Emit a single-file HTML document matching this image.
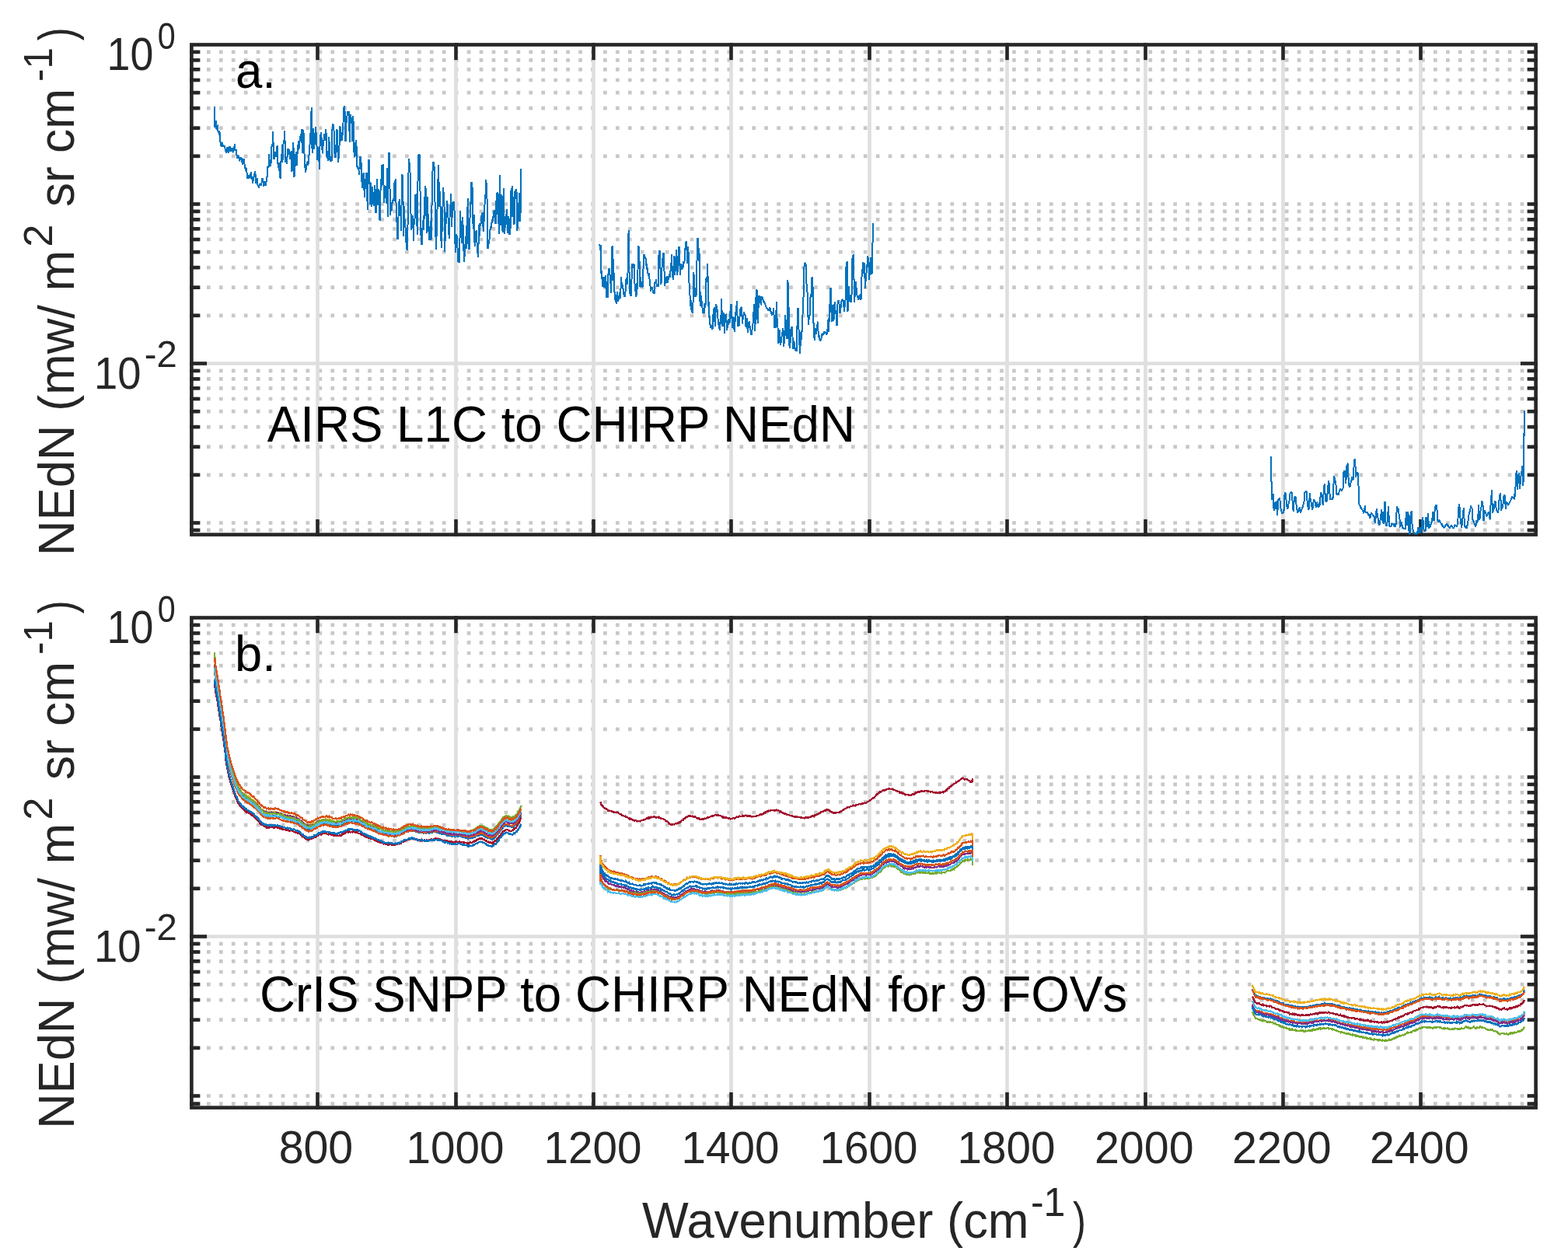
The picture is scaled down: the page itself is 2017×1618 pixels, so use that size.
<!DOCTYPE html>
<html lang="en"><head><meta charset="utf-8"><title>NEdN</title>
<style>html,body{margin:0;padding:0;background:#fff}body{width:2017px;height:1618px;overflow:hidden}svg{display:block}text{font-family:'Liberation Sans', sans-serif;fill:#262626}</style></head><body>
<svg width="2017" height="1618" viewBox="0 0 2017 1618" role="img" aria-label="NEdN versus wavenumber for AIRS L1C and CrIS SNPP converted to CHIRP">
<rect width="2017" height="1618" fill="#fff"/>
<g id="ax0">
<g stroke="#c8c8c8" stroke-width="4.7" stroke-dasharray="4.70 11.24" stroke-dashoffset="-3.66">
<line x1="246.4" y1="262.5" x2="1975.6" y2="262.5"/>
<line x1="246.4" y1="200.8" x2="1975.6" y2="200.8"/>
<line x1="246.4" y1="164.7" x2="1975.6" y2="164.7"/>
<line x1="246.4" y1="139.1" x2="1975.6" y2="139.1"/>
<line x1="246.4" y1="119.2" x2="1975.6" y2="119.2"/>
<line x1="246.4" y1="103.0" x2="1975.6" y2="103.0"/>
<line x1="246.4" y1="89.3" x2="1975.6" y2="89.3"/>
<line x1="246.4" y1="77.4" x2="1975.6" y2="77.4"/>
<line x1="246.4" y1="66.9" x2="1975.6" y2="66.9"/>
<line x1="246.4" y1="405.8" x2="1975.6" y2="405.8"/>
<line x1="246.4" y1="369.7" x2="1975.6" y2="369.7"/>
<line x1="246.4" y1="344.1" x2="1975.6" y2="344.1"/>
<line x1="246.4" y1="324.2" x2="1975.6" y2="324.2"/>
<line x1="246.4" y1="308.0" x2="1975.6" y2="308.0"/>
<line x1="246.4" y1="294.3" x2="1975.6" y2="294.3"/>
<line x1="246.4" y1="282.4" x2="1975.6" y2="282.4"/>
<line x1="246.4" y1="271.9" x2="1975.6" y2="271.9"/>
<line x1="246.4" y1="672.5" x2="1975.6" y2="672.5"/>
<line x1="246.4" y1="610.8" x2="1975.6" y2="610.8"/>
<line x1="246.4" y1="574.7" x2="1975.6" y2="574.7"/>
<line x1="246.4" y1="549.1" x2="1975.6" y2="549.1"/>
<line x1="246.4" y1="529.2" x2="1975.6" y2="529.2"/>
<line x1="246.4" y1="513.0" x2="1975.6" y2="513.0"/>
<line x1="246.4" y1="499.3" x2="1975.6" y2="499.3"/>
<line x1="246.4" y1="487.4" x2="1975.6" y2="487.4"/>
<line x1="246.4" y1="476.9" x2="1975.6" y2="476.9"/>
<line x1="246.4" y1="681.9" x2="1975.6" y2="681.9"/>
</g>
<g stroke="#dfdfdf" stroke-width="4.6">
<line x1="408.5" y1="57.5" x2="408.5" y2="687.6"/>
<line x1="586.5" y1="57.5" x2="586.5" y2="687.6"/>
<line x1="763.5" y1="57.5" x2="763.5" y2="687.6"/>
<line x1="940.5" y1="57.5" x2="940.5" y2="687.6"/>
<line x1="1118.5" y1="57.5" x2="1118.5" y2="687.6"/>
<line x1="1295.5" y1="57.5" x2="1295.5" y2="687.6"/>
<line x1="1473.5" y1="57.5" x2="1473.5" y2="687.6"/>
<line x1="1650.5" y1="57.5" x2="1650.5" y2="687.6"/>
<line x1="1827.5" y1="57.5" x2="1827.5" y2="687.6"/>
<line x1="246.4" y1="467.5" x2="1975.6" y2="467.5"/>
</g>
<g stroke="#262626" stroke-width="4.6" stroke-linecap="square">
<line x1="408.5" y1="687.6" x2="408.5" y2="670.2"/>
<line x1="408.5" y1="57.5" x2="408.5" y2="74.9"/>
<line x1="586.5" y1="687.6" x2="586.5" y2="670.2"/>
<line x1="586.5" y1="57.5" x2="586.5" y2="74.9"/>
<line x1="763.5" y1="687.6" x2="763.5" y2="670.2"/>
<line x1="763.5" y1="57.5" x2="763.5" y2="74.9"/>
<line x1="940.5" y1="687.6" x2="940.5" y2="670.2"/>
<line x1="940.5" y1="57.5" x2="940.5" y2="74.9"/>
<line x1="1118.5" y1="687.6" x2="1118.5" y2="670.2"/>
<line x1="1118.5" y1="57.5" x2="1118.5" y2="74.9"/>
<line x1="1295.5" y1="687.6" x2="1295.5" y2="670.2"/>
<line x1="1295.5" y1="57.5" x2="1295.5" y2="74.9"/>
<line x1="1473.5" y1="687.6" x2="1473.5" y2="670.2"/>
<line x1="1473.5" y1="57.5" x2="1473.5" y2="74.9"/>
<line x1="1650.5" y1="687.6" x2="1650.5" y2="670.2"/>
<line x1="1650.5" y1="57.5" x2="1650.5" y2="74.9"/>
<line x1="1827.5" y1="687.6" x2="1827.5" y2="670.2"/>
<line x1="1827.5" y1="57.5" x2="1827.5" y2="74.9"/>
<line x1="246.4" y1="262.5" x2="255.1" y2="262.5"/>
<line x1="1975.6" y1="262.5" x2="1966.9" y2="262.5"/>
<line x1="246.4" y1="200.8" x2="255.1" y2="200.8"/>
<line x1="1975.6" y1="200.8" x2="1966.9" y2="200.8"/>
<line x1="246.4" y1="164.7" x2="255.1" y2="164.7"/>
<line x1="1975.6" y1="164.7" x2="1966.9" y2="164.7"/>
<line x1="246.4" y1="139.1" x2="255.1" y2="139.1"/>
<line x1="1975.6" y1="139.1" x2="1966.9" y2="139.1"/>
<line x1="246.4" y1="119.2" x2="255.1" y2="119.2"/>
<line x1="1975.6" y1="119.2" x2="1966.9" y2="119.2"/>
<line x1="246.4" y1="103.0" x2="255.1" y2="103.0"/>
<line x1="1975.6" y1="103.0" x2="1966.9" y2="103.0"/>
<line x1="246.4" y1="89.3" x2="255.1" y2="89.3"/>
<line x1="1975.6" y1="89.3" x2="1966.9" y2="89.3"/>
<line x1="246.4" y1="77.4" x2="255.1" y2="77.4"/>
<line x1="1975.6" y1="77.4" x2="1966.9" y2="77.4"/>
<line x1="246.4" y1="66.9" x2="255.1" y2="66.9"/>
<line x1="1975.6" y1="66.9" x2="1966.9" y2="66.9"/>
<line x1="246.4" y1="405.8" x2="255.1" y2="405.8"/>
<line x1="1975.6" y1="405.8" x2="1966.9" y2="405.8"/>
<line x1="246.4" y1="369.7" x2="255.1" y2="369.7"/>
<line x1="1975.6" y1="369.7" x2="1966.9" y2="369.7"/>
<line x1="246.4" y1="344.1" x2="255.1" y2="344.1"/>
<line x1="1975.6" y1="344.1" x2="1966.9" y2="344.1"/>
<line x1="246.4" y1="324.2" x2="255.1" y2="324.2"/>
<line x1="1975.6" y1="324.2" x2="1966.9" y2="324.2"/>
<line x1="246.4" y1="308.0" x2="255.1" y2="308.0"/>
<line x1="1975.6" y1="308.0" x2="1966.9" y2="308.0"/>
<line x1="246.4" y1="294.3" x2="255.1" y2="294.3"/>
<line x1="1975.6" y1="294.3" x2="1966.9" y2="294.3"/>
<line x1="246.4" y1="282.4" x2="255.1" y2="282.4"/>
<line x1="1975.6" y1="282.4" x2="1966.9" y2="282.4"/>
<line x1="246.4" y1="271.9" x2="255.1" y2="271.9"/>
<line x1="1975.6" y1="271.9" x2="1966.9" y2="271.9"/>
<line x1="246.4" y1="672.5" x2="255.1" y2="672.5"/>
<line x1="1975.6" y1="672.5" x2="1966.9" y2="672.5"/>
<line x1="246.4" y1="610.8" x2="255.1" y2="610.8"/>
<line x1="1975.6" y1="610.8" x2="1966.9" y2="610.8"/>
<line x1="246.4" y1="574.7" x2="255.1" y2="574.7"/>
<line x1="1975.6" y1="574.7" x2="1966.9" y2="574.7"/>
<line x1="246.4" y1="549.1" x2="255.1" y2="549.1"/>
<line x1="1975.6" y1="549.1" x2="1966.9" y2="549.1"/>
<line x1="246.4" y1="529.2" x2="255.1" y2="529.2"/>
<line x1="1975.6" y1="529.2" x2="1966.9" y2="529.2"/>
<line x1="246.4" y1="513.0" x2="255.1" y2="513.0"/>
<line x1="1975.6" y1="513.0" x2="1966.9" y2="513.0"/>
<line x1="246.4" y1="499.3" x2="255.1" y2="499.3"/>
<line x1="1975.6" y1="499.3" x2="1966.9" y2="499.3"/>
<line x1="246.4" y1="487.4" x2="255.1" y2="487.4"/>
<line x1="1975.6" y1="487.4" x2="1966.9" y2="487.4"/>
<line x1="246.4" y1="476.9" x2="255.1" y2="476.9"/>
<line x1="1975.6" y1="476.9" x2="1966.9" y2="476.9"/>
<line x1="246.4" y1="681.9" x2="255.1" y2="681.9"/>
<line x1="1975.6" y1="681.9" x2="1966.9" y2="681.9"/>
<line x1="246.4" y1="467.5" x2="263.8" y2="467.5"/>
<line x1="1975.6" y1="467.5" x2="1958.2" y2="467.5"/>
<rect x="246.4" y="57.5" width="1729.2" height="630.1" fill="none"/>
</g>
<clipPath id="clip0"><rect x="246.4" y="57.5" width="1729.2" height="630.1"/></clipPath>
<g fill="none" stroke-width="2" stroke-linejoin="miter" stroke-miterlimit="2" stroke-linecap="butt" shape-rendering="crispEdges" clip-path="url(#clip0)">
<polyline stroke="#0072bd" points="275.9,137.3 275.9,163.5 276.5,160.9 277.1,156.6 277.7,155.6 278.3,165.0 278.8,166.3 279.3,161.9 279.8,161.6 280.4,168.7 281.0,171.0 281.6,168.0 282.2,174.2 282.8,170.0 283.0,183.4 283.6,181.8 284.2,187.1 284.8,188.3 285.4,185.5 286.0,182.9 286.6,186.6 287.3,188.3 287.8,186.9 288.3,188.9 288.8,186.8 289.2,189.6 289.8,192.3 290.2,194.8 290.7,193.7 291.2,196.8 291.7,194.7 292.2,190.2 292.7,189.3 293.2,193.8 293.7,194.6 294.2,197.3 294.7,194.2 295.2,189.9 295.7,187.8 296.2,191.9 296.7,191.3 297.2,194.3 297.7,193.5 298.2,191.2 298.7,190.8 299.3,193.6 300.0,196.3 300.6,193.3 301.1,191.3 301.8,185.6 302.6,192.3 303.1,194.0 303.6,192.3 304.2,195.8 304.8,203.2 305.4,202.7 305.9,199.8 306.4,199.2 307.0,202.3 307.5,203.7 308.1,207.2 308.6,206.0 309.1,203.8 309.6,202.2 310.1,205.0 310.6,203.0 311.1,205.2 311.6,210.1 312.1,212.1 312.6,209.8 313.1,211.1 313.5,204.7 314.0,204.7 314.5,211.2 315.0,217.1 315.5,214.9 316.0,220.4 316.5,216.1 317.0,216.9 317.5,222.1 318.0,228.9 318.5,230.0 319.0,227.7 319.5,230.0 320.0,225.0 320.5,226.0 321.1,227.6 321.7,228.0 322.2,223.9 322.8,221.6 323.4,227.5 324.0,228.0 324.4,229.1 324.9,235.4 325.4,234.7 325.9,228.4 326.4,228.0 326.9,226.0 327.4,222.9 327.9,224.6 328.4,219.6 328.9,235.9 329.4,232.0 329.9,232.0 330.4,229.0 330.9,230.3 331.4,236.9 331.9,240.3 332.4,238.1 332.9,241.4 333.4,240.0 333.9,237.2 334.4,235.9 334.9,238.2 335.4,235.9 335.9,238.9 336.5,235.3 337.1,229.5 337.7,229.5 338.3,231.0 338.8,236.2 339.3,239.4 339.8,237.2 340.3,235.2 340.8,232.9 341.3,234.1 341.8,238.4 342.3,238.4 342.8,229.1 343.3,229.0 343.8,225.5 344.3,215.1 344.9,214.4 345.5,216.1 346.1,198.2 346.7,208.4 347.3,213.1 347.8,205.4 348.2,213.7 348.8,207.2 349.2,191.3 349.8,185.1 350.4,189.3 351.2,169.5 352.0,204.2 352.6,204.2 353.1,196.5 353.7,195.3 354.2,199.5 354.7,196.4 355.2,202.2 355.7,200.9 356.2,189.4 356.7,187.3 357.2,203.4 357.7,216.1 358.2,208.7 358.7,220.3 359.2,209.2 359.8,215.9 360.4,228.1 360.9,229.5 361.5,207.5 362.1,198.2 362.6,209.2 363.1,186.3 363.6,206.1 364.1,194.3 364.6,183.3 365.1,181.4 365.6,179.8 366.1,168.5 366.6,184.4 367.1,208.2 367.6,209.2 368.1,201.2 368.6,210.2 369.1,210.2 369.6,199.9 370.1,191.3 370.6,193.7 371.1,191.3 371.6,192.3 372.1,196.9 372.5,198.7 373.0,203.2 373.5,204.4 374.0,194.8 374.5,200.4 375.0,194.3 375.5,221.1 376.1,203.8 376.7,195.9 377.3,182.9 377.9,202.9 378.5,227.5 379.0,221.9 379.5,207.1 380.0,214.0 380.5,198.2 381.0,194.9 381.5,212.5 382.0,209.2 382.5,198.1 382.9,196.2 383.4,187.8 383.9,181.4 384.4,192.5 384.9,187.3 385.4,183.0 385.9,179.5 386.4,175.4 386.9,172.4 387.4,174.6 387.9,166.5 388.4,180.2 388.9,197.3 389.4,183.1 389.9,167.5 390.4,167.8 390.9,181.4 391.4,196.7 391.9,203.0 392.4,215.1 393.1,221.6 393.7,218.2 394.3,212.4 394.9,210.2 395.4,210.7 395.9,207.4 396.3,213.2 396.8,208.2 397.3,199.5 397.8,200.0 398.3,192.3 398.8,177.1 399.3,176.4 399.8,164.0 400.3,146.0 400.8,138.3 401.6,197.3 402.2,186.9 402.8,165.5 403.3,172.0 403.8,184.8 404.3,192.3 404.8,177.0 405.3,176.4 405.8,163.5 406.3,164.9 406.8,175.8 407.2,173.5 407.9,205.7 408.5,192.3 409.1,195.0 409.7,189.3 410.3,203.3 410.9,217.6 411.7,179.4 412.2,177.9 412.7,170.5 413.2,170.5 413.7,180.3 414.2,184.2 414.7,197.3 415.2,195.6 415.7,182.8 416.2,180.4 416.7,181.2 417.2,172.5 417.7,178.4 418.2,181.1 418.8,166.5 419.4,166.5 420.0,187.3 420.6,204.2 421.2,199.7 421.8,206.7 422.5,194.3 423.1,176.4 423.6,182.9 424.1,199.5 424.6,207.7 425.1,200.9 425.6,207.7 426.1,204.1 426.6,207.2 427.1,193.6 427.6,159.6 428.1,159.6 428.6,163.4 429.1,160.6 429.6,169.4 430.1,194.3 430.6,199.1 431.1,189.6 431.5,202.2 432.0,202.2 432.5,186.5 433.0,180.8 433.5,166.5 434.1,180.5 434.7,202.8 435.3,208.7 435.9,196.8 436.4,193.9 436.9,164.3 437.5,162.6 438.0,174.3 438.5,181.4 439.0,178.5 439.5,181.4 440.0,170.4 440.5,173.5 441.0,172.5 441.5,157.7 442.1,141.8 442.8,136.3 443.3,143.4 443.8,142.8 444.5,182.4 445.1,164.1 445.8,152.7 446.3,152.3 446.9,142.8 447.4,146.3 447.9,149.3 448.4,144.3 448.9,144.3 449.4,164.8 449.9,183.4 450.5,159.4 451.1,146.8 451.8,153.1 452.4,154.7 453.1,182.4 453.7,159.7 454.4,149.2 455.1,189.4 455.7,199.6 456.4,202.3 457.0,182.6 457.6,200.6 458.1,180.5 458.8,193.4 459.3,214.2 459.8,214.3 460.3,216.8 460.8,215.2 461.4,217.8 462.0,225.1 462.5,218.5 463.0,201.8 463.6,201.8 464.2,210.3 464.8,210.2 465.3,233.0 465.8,234.2 466.3,240.9 466.8,240.9 467.4,223.7 468.0,222.6 468.5,244.6 468.9,253.8 469.6,240.4 470.1,243.2 470.7,224.1 471.3,223.1 471.9,223.1 472.7,269.7 473.4,244.7 474.0,206.2 474.6,206.2 475.2,218.2 475.7,243.5 476.2,262.8 476.7,241.3 477.2,235.0 477.7,251.3 478.2,265.7 478.7,251.7 479.2,240.0 479.7,254.4 480.2,255.1 480.6,264.8 481.2,256.3 481.8,238.5 482.3,246.9 482.8,266.7 483.4,272.7 483.9,272.7 484.8,229.6 485.3,243.2 485.8,263.8 486.5,257.7 487.1,243.4 487.7,253.6 488.2,281.0 488.8,284.3 489.4,248.0 490.1,230.0 490.6,240.2 491.1,212.2 491.6,215.2 492.1,215.6 492.6,212.2 493.1,212.2 493.5,237.6 494.0,260.8 494.6,253.6 495.2,248.0 495.7,240.5 496.4,239.3 497.0,261.8 497.5,261.1 498.0,217.1 498.5,217.2 499.0,279.3 499.5,244.5 500.0,197.3 500.6,197.3 501.3,208.2 501.7,276.4 502.3,276.4 502.9,264.5 503.5,268.4 504.0,270.9 504.4,260.9 504.9,261.0 505.4,257.5 506.0,255.7 506.6,258.5 507.4,234.7 508.0,243.8 508.6,229.6 509.4,260.5 510.0,265.3 510.6,289.2 511.2,306.6 511.9,306.6 512.5,279.0 513.2,261.5 513.9,256.5 514.4,268.9 514.9,271.4 515.4,271.8 515.9,297.2 516.4,275.4 516.9,224.8 517.3,224.8 517.8,236.8 518.3,225.3 518.8,304.1 519.3,283.2 519.8,265.4 520.3,278.6 520.8,287.3 521.3,284.8 521.8,304.3 522.3,312.1 522.9,308.7 523.5,320.5 524.1,320.5 524.8,267.4 525.4,225.2 526.1,204.5 526.7,211.6 527.3,212.9 527.8,233.1 528.2,259.5 528.8,289.2 529.3,296.0 529.9,276.7 530.4,294.2 531.0,277.3 531.5,294.2 532.0,309.6 532.6,285.8 533.2,285.3 533.7,279.1 534.2,249.8 534.7,251.6 535.2,267.5 535.7,248.6 536.2,269.7 536.7,302.1 537.2,264.2 537.7,214.9 538.2,199.0 538.7,206.6 539.2,199.0 539.6,199.0 540.1,200.0 540.9,290.2 541.5,303.4 542.1,314.5 542.6,305.8 543.1,314.5 543.6,289.2 544.1,282.6 544.6,295.7 545.1,276.6 545.6,282.3 546.2,264.2 546.9,239.2 547.5,241.5 548.1,245.6 548.6,285.1 549.1,300.1 549.6,262.9 550.1,252.6 550.6,280.0 551.1,279.0 551.5,297.6 552.0,308.6 552.5,292.3 553.0,291.2 553.5,308.6 554.0,284.2 554.5,308.6 555.0,301.1 555.5,264.5 556.0,260.1 556.5,220.6 557.0,208.4 557.5,216.2 558.0,208.4 558.5,212.9 559.0,238.2 559.5,259.5 560.1,282.9 560.8,319.5 561.3,319.5 561.9,275.6 562.5,269.4 563.1,256.3 563.8,212.4 564.2,218.9 564.7,241.7 565.3,265.6 565.9,245.6 566.4,259.3 566.9,286.3 567.4,307.5 567.9,318.5 568.4,299.9 568.9,292.2 569.4,272.9 569.9,242.1 570.4,242.1 570.9,263.9 571.4,250.6 571.9,324.4 572.4,308.6 572.9,309.7 573.4,293.2 573.9,272.8 574.4,279.5 574.9,258.5 575.4,258.5 575.9,273.0 576.3,276.4 576.8,286.2 577.3,299.1 577.8,306.6 578.3,287.1 578.8,269.4 579.4,266.2 580.0,249.1 580.8,292.2 581.3,283.2 581.8,276.3 582.3,261.3 582.8,259.0 583.3,263.6 583.8,259.0 584.3,260.5 585.0,297.2 585.8,323.9 586.3,323.9 586.8,301.5 587.2,310.5 587.7,303.1 588.2,311.2 588.7,323.9 589.3,336.8 589.8,329.3 590.4,336.8 590.9,336.8 591.6,301.6 592.2,271.4 592.7,296.1 593.2,284.3 593.7,312.1 594.2,313.1 594.7,285.6 595.2,279.3 595.7,295.2 596.2,301.8 596.7,334.6 597.2,337.3 597.7,324.2 598.2,329.9 598.6,309.1 599.1,303.6 599.6,319.5 600.1,300.1 600.7,284.8 601.3,274.9 601.8,255.5 602.6,320.5 603.1,302.7 603.6,320.5 604.1,318.0 604.6,271.7 605.1,259.5 605.6,262.7 606.1,235.2 606.6,235.2 607.1,251.4 607.6,240.7 608.1,263.9 608.6,293.2 609.1,294.4 609.6,279.5 610.0,276.4 610.5,312.1 611.0,317.4 611.5,297.4 612.0,305.3 612.5,298.2 613.0,295.7 613.6,315.1 614.1,313.1 614.7,331.4 615.4,318.9 616.0,296.7 616.5,288.8 617.0,303.8 617.5,286.8 618.0,290.7 618.5,288.3 619.0,280.1 619.5,277.3 620.0,277.4 620.5,274.6 621.0,273.4 621.5,291.5 622.0,297.7 622.5,281.0 622.9,284.9 623.4,265.1 623.9,255.5 624.4,254.2 624.9,236.7 625.4,231.2 625.9,246.0 626.4,251.1 626.9,268.4 627.4,318.5 627.9,318.5 628.4,307.9 628.9,314.0 629.4,312.3 629.9,295.1 630.4,295.7 630.9,295.4 631.4,291.4 631.9,293.4 632.4,287.3 632.9,282.6 633.4,286.8 633.9,279.0 634.4,279.3 634.8,279.1 635.3,271.5 635.8,271.4 636.3,277.4 636.8,275.0 637.3,287.3 637.8,287.3 638.3,265.5 638.8,247.6 639.3,258.8 639.8,247.0 640.2,275.6 640.7,249.7 641.1,269.2 641.8,300.5 642.3,267.4 642.8,225.1 643.6,290.1 644.1,266.1 644.6,264.4 645.1,250.4 645.6,265.7 646.1,289.2 646.6,299.0 647.2,259.4 647.9,242.3 648.8,300.5 649.4,296.4 650.0,278.4 650.6,282.1 651.2,281.8 651.8,269.2 652.3,282.3 652.8,299.5 653.4,293.6 654.0,278.2 654.5,280.7 655.0,300.5 655.6,300.5 656.2,286.7 656.7,294.0 657.0,254.4 657.7,242.5 658.2,249.7 658.7,239.2 659.5,279.2 660.0,259.8 660.5,253.4 661.0,280.3 661.5,288.6 662.0,258.6 662.5,245.9 663.0,256.2 663.5,244.4 664.0,244.4 664.5,245.4 665.0,296.5 665.4,296.1 665.9,288.7 666.4,289.1 667.2,261.3 667.7,262.8 668.1,248.3 668.6,255.4 669.4,285.1 670.1,217.2"/>
<polyline stroke="#0072bd" points="771.4,314.3 772.0,322.4 772.7,315.3 772.9,351.5 773.4,345.1 773.9,356.6 774.4,358.4 774.9,359.3 775.4,369.3 775.9,356.5 776.4,365.4 777.0,369.1 777.6,369.3 778.1,360.5 778.6,354.9 779.3,354.4 779.8,372.0 780.3,383.2 780.9,378.1 781.5,383.2 782.0,380.2 782.6,347.5 783.2,345.5 783.8,345.5 784.3,352.7 784.8,354.4 785.4,362.6 786.0,377.3 786.5,361.8 787.0,330.6 787.5,317.3 788.1,317.3 789.0,350.5 789.6,362.6 790.2,351.5 790.5,376.3 791.0,375.3 791.5,385.4 791.9,385.2 792.7,390.6 793.3,381.9 793.9,374.8 794.6,381.6 795.2,388.2 795.8,384.0 796.3,382.9 796.9,376.3 797.5,378.4 798.2,384.2 798.9,356.4 799.4,363.3 799.9,366.4 800.4,363.6 800.9,372.3 801.5,371.3 801.9,373.1 802.4,378.6 802.8,381.2 803.5,381.1 804.1,381.2 804.6,373.7 805.1,363.4 805.6,358.7 806.1,357.4 806.8,365.6 807.4,358.4 808.1,313.8 808.6,297.4 809.1,297.4 809.6,361.4 810.1,377.7 810.6,371.2 811.1,380.2 811.6,380.2 812.1,380.2 812.8,344.5 813.4,339.6 814.0,340.6 814.5,345.4 815.0,339.6 815.5,339.6 816.0,343.5 816.5,365.1 817.0,375.3 817.5,372.1 818.0,380.7 818.5,380.7 819.0,364.4 819.5,373.3 820.0,357.4 820.5,348.0 821.0,316.3 821.6,317.4 822.3,321.7 823.0,368.3 823.6,369.3 824.2,356.4 825.0,369.3 825.5,363.9 826.1,369.3 826.6,368.8 827.4,349.5 828.2,328.2 828.8,328.2 829.4,328.7 829.9,333.2 830.4,330.4 830.9,336.6 831.4,341.8 831.9,338.9 832.4,347.1 832.9,344.6 833.4,351.5 833.9,354.4 834.5,351.5 835.1,353.0 835.7,362.1 836.4,366.4 837.1,375.3 837.7,371.8 838.3,372.5 838.8,369.3 839.3,371.6 839.8,375.3 840.3,376.5 840.8,375.2 841.3,377.3 841.8,377.3 842.3,364.4 842.8,362.2 843.3,364.0 843.8,359.4 844.3,363.0 844.8,368.3 845.3,368.3 845.8,366.1 846.3,368.3 846.8,368.3 847.5,327.7 848.0,322.2 848.5,328.2 848.9,322.2 849.4,339.8 849.9,365.4 850.6,363.5 851.2,351.5 851.7,339.7 852.2,338.5 852.7,328.7 853.4,325.7 854.0,325.7 854.9,367.3 855.4,367.3 855.9,358.4 856.4,364.4 857.0,361.1 857.7,354.9 858.2,357.6 858.7,362.0 859.2,363.4 859.6,358.8 860.1,359.4 860.6,354.4 861.1,352.1 861.6,357.0 862.1,351.0 862.7,347.5 863.3,344.5 863.9,327.2 864.4,345.2 864.9,355.4 865.4,356.3 865.9,360.4 866.4,345.9 866.9,328.7 867.5,335.4 868.1,354.4 868.6,347.6 869.1,339.6 869.9,321.2 870.5,334.2 871.1,353.5 871.5,351.2 872.0,337.6 872.5,329.0 873.0,325.1 873.5,316.8 874.2,329.3 874.8,353.5 875.5,339.6 876.0,344.7 876.5,339.5 877.0,346.5 877.5,345.6 878.0,343.9 878.5,343.9 879.0,342.6 879.5,336.4 880.0,339.1 880.5,336.6 881.2,323.7 882.0,312.3 882.6,311.3 883.2,311.3 884.0,338.6 884.4,332.3 884.9,316.8 885.4,318.8 885.9,341.3 886.4,363.4 886.9,366.4 887.4,376.3 887.9,393.8 888.4,384.5 888.9,392.1 889.4,398.0 889.9,402.1 890.5,395.8 891.1,402.5 891.9,377.3 892.4,350.5 892.9,363.0 893.4,368.3 893.9,374.5 894.4,381.2 894.9,381.2 895.5,378.5 896.0,380.2 896.3,342.6 896.8,325.2 897.3,306.9 897.8,306.9 898.3,311.8 899.0,335.6 899.8,325.7 900.3,383.2 900.8,393.6 901.3,374.9 901.8,387.2 902.3,391.1 902.8,387.1 903.3,394.1 903.8,398.4 904.3,402.5 904.8,401.3 905.3,402.5 905.8,402.1 906.3,390.9 906.8,390.1 907.2,396.0 907.7,389.2 908.2,363.4 908.7,355.6 909.2,362.9 909.7,359.4 910.2,338.6 910.7,364.4 911.2,394.1 911.7,387.9 912.2,408.9 912.7,406.0 913.2,417.9 913.7,417.1 914.2,422.1 914.7,418.9 915.3,419.2 915.9,422.3 916.5,423.4 917.1,410.4 917.7,402.1 918.2,403.0 918.6,395.1 919.2,406.9 919.8,419.9 920.3,408.7 920.8,391.6 921.4,392.1 922.0,399.2 922.6,399.1 923.1,404.3 923.6,411.0 924.1,417.6 924.6,414.4 925.1,417.9 925.6,424.4 926.1,424.4 926.7,413.6 927.4,409.0 928.1,383.7 928.6,401.9 929.1,419.9 929.6,409.4 930.0,409.1 930.5,402.1 931.0,410.9 931.5,420.4 932.0,429.3 932.5,415.9 933.0,404.0 933.5,404.7 934.0,404.5 934.5,411.6 935.0,424.4 935.5,422.8 936.0,413.8 936.5,413.9 937.0,418.3 937.5,410.1 938.0,415.7 938.5,414.9 939.0,405.6 939.5,400.1 940.0,398.6 940.5,391.6 941.0,391.6 941.5,410.2 942.0,421.9 942.5,411.8 942.9,416.5 943.4,407.0 943.9,412.6 944.4,422.5 944.9,427.3 945.4,415.1 945.9,410.5 946.4,402.1 946.9,396.7 947.4,394.8 947.9,386.7 948.4,401.6 948.9,417.9 949.4,419.9 949.9,417.8 950.4,419.9 950.9,414.6 951.4,407.7 951.9,403.9 952.4,397.1 952.9,395.3 953.4,397.8 953.9,394.6 954.4,403.7 954.8,416.4 955.3,414.1 955.8,406.7 956.3,406.5 956.8,402.1 957.3,402.1 957.8,405.9 958.3,403.0 958.8,409.3 959.3,420.4 959.8,418.6 960.3,410.6 960.8,409.2 961.3,420.2 961.8,427.5 962.4,422.7 963.0,419.6 963.6,413.6 964.2,415.6 964.7,421.1 965.3,424.0 965.9,425.4 966.4,429.5 967.0,429.5 967.6,423.2 968.3,422.1 969.0,403.2 969.6,401.0 970.2,390.8 970.7,401.7 971.2,425.5 971.7,411.8 972.2,386.4 972.9,376.6 973.5,372.5 974.1,401.7 974.7,415.6 975.2,401.1 975.7,392.6 976.2,380.9 976.7,380.9 977.2,381.9 977.7,381.4 978.2,386.2 978.7,392.3 979.2,390.3 979.7,383.7 980.2,381.4 980.6,382.8 981.1,383.1 981.6,385.4 982.1,387.3 982.6,387.1 983.1,389.4 983.6,390.3 984.1,390.4 984.6,392.8 985.1,393.3 985.6,395.8 986.1,396.3 986.6,396.3 987.1,397.5 987.6,397.6 988.1,398.8 988.6,399.2 989.2,397.7 989.8,397.2 990.4,395.8 990.9,397.0 991.5,401.0 992.0,401.1 992.5,403.7 993.0,404.7 993.5,404.2 994.0,405.2 994.5,401.1 995.0,396.3 995.5,404.3 996.0,420.1 996.5,421.6 997.0,415.3 997.5,421.6 998.0,416.9 998.5,399.2 999.0,388.3 999.5,408.8 1000.0,417.1 1000.5,421.1 1001.0,439.4 1001.5,441.8 1002.1,424.8 1002.7,425.0 1003.3,435.6 1004.0,443.9 1004.5,438.8 1005.0,440.4 1005.4,433.9 1005.9,428.8 1006.4,428.3 1006.9,422.1 1007.4,427.0 1007.9,443.8 1008.4,445.9 1008.9,429.5 1009.4,428.8 1009.9,411.6 1010.4,405.4 1010.9,429.8 1011.4,432.0 1011.9,430.0 1012.4,435.4 1012.9,435.4 1013.4,359.6 1014.0,374.8 1014.6,398.2 1015.1,429.8 1015.6,447.8 1016.1,434.2 1016.8,440.8 1017.3,425.0 1017.8,420.2 1018.3,425.6 1018.8,419.6 1019.5,433.4 1020.1,448.3 1020.7,448.2 1021.2,438.3 1021.8,441.9 1022.3,446.8 1022.8,451.3 1023.2,447.2 1023.7,451.3 1024.2,450.5 1024.6,451.3 1025.1,451.3 1025.3,429.0 1026.0,397.3 1026.6,397.3 1027.3,416.1 1027.8,435.7 1028.4,440.6 1028.9,454.8 1029.6,443.9 1030.2,429.0 1030.7,425.3 1031.2,437.3 1031.7,418.0 1032.2,427.0 1032.7,392.3 1033.2,391.8 1033.7,377.4 1034.2,349.7 1034.7,338.8 1035.3,339.4 1036.0,337.8 1036.6,340.5 1037.2,351.6 1037.7,372.7 1038.2,366.5 1038.7,381.4 1039.2,390.5 1039.7,417.6 1040.2,416.3 1040.6,408.5 1041.1,411.1 1041.6,404.3 1042.1,387.3 1042.7,380.3 1043.3,378.4 1043.8,381.5 1044.4,358.1 1044.9,356.1 1045.4,373.1 1045.9,369.5 1046.6,421.6 1047.1,423.6 1047.6,437.4 1048.1,437.4 1048.6,421.6 1049.1,428.0 1049.6,429.6 1050.1,425.7 1050.6,425.5 1051.1,423.2 1051.5,417.5 1052.0,413.6 1052.5,426.3 1053.0,434.4 1053.5,431.3 1054.0,436.8 1054.5,434.6 1055.0,438.4 1055.5,438.4 1056.0,435.4 1056.5,435.0 1057.0,431.5 1057.5,429.3 1058.0,431.4 1058.5,429.0 1059.0,429.0 1059.5,429.4 1060.0,427.9 1060.5,428.4 1061.0,427.0 1061.5,427.0 1062.0,429.2 1062.5,426.8 1063.0,429.7 1063.5,430.0 1064.0,424.6 1064.4,423.9 1064.9,419.1 1065.4,410.7 1065.9,427.1 1066.4,408.6 1066.9,414.1 1067.4,395.9 1067.9,377.4 1068.4,370.5 1068.9,370.5 1069.4,397.9 1069.9,414.1 1070.4,399.9 1070.9,404.7 1071.4,392.3 1071.9,398.9 1072.4,413.1 1072.9,404.8 1073.4,392.0 1073.9,387.8 1074.5,399.2 1075.0,402.7 1075.6,404.4 1076.1,418.1 1076.6,418.1 1077.2,397.2 1077.8,386.4 1078.4,387.4 1079.0,387.3 1079.7,392.8 1080.3,403.2 1080.8,402.2 1081.3,395.8 1081.8,395.4 1082.3,387.9 1082.8,386.4 1083.3,386.7 1083.8,385.9 1084.3,386.3 1084.8,385.9 1085.3,390.9 1085.8,399.7 1086.3,399.7 1086.8,388.2 1087.2,393.1 1087.7,382.4 1088.2,354.1 1088.7,336.8 1089.3,338.7 1089.9,335.8 1090.5,401.2 1091.1,373.5 1091.7,368.5 1092.2,375.6 1092.7,381.0 1093.2,387.3 1093.7,388.3 1094.2,380.5 1094.7,388.3 1095.2,387.3 1095.7,374.4 1096.2,338.8 1096.7,328.3 1097.2,338.9 1097.7,328.3 1098.2,328.3 1098.8,389.3 1099.5,382.1 1100.1,367.5 1100.6,362.6 1101.1,363.5 1101.6,371.5 1102.1,375.3 1102.6,381.4 1103.1,383.0 1103.6,381.1 1104.1,385.4 1104.6,384.1 1105.1,381.6 1105.6,381.7 1106.1,379.4 1106.6,379.2 1107.1,385.4 1107.6,384.4 1108.4,359.6 1108.9,345.9 1109.5,352.5 1110.0,338.3 1110.5,338.3 1111.0,339.7 1111.5,338.3 1112.0,339.2 1112.5,357.6 1113.0,370.5 1113.5,362.1 1114.0,358.0 1114.5,351.6 1115.0,340.5 1115.5,344.4 1116.0,330.3 1116.5,330.6 1117.0,337.5 1117.5,336.8 1118.2,359.6 1118.7,350.4 1119.2,346.2 1119.7,336.8 1120.3,330.7 1120.9,351.4 1121.5,352.6 1122.0,329.8 1122.7,306.0 1123.2,287.1"/>
<polyline stroke="#0072bd" points="1634.9,587.2 1635.1,612.5 1635.7,622.5 1636.4,629.3 1636.1,642.7 1636.7,636.4 1637.2,640.3 1637.8,635.3 1638.3,653.1 1638.8,653.8 1639.3,657.1 1639.8,653.2 1640.3,646.7 1640.8,646.2 1641.3,646.0 1641.8,645.7 1642.4,652.5 1643.0,662.5 1643.7,653.5 1644.3,643.2 1644.9,641.5 1645.4,643.2 1646.0,639.7 1646.5,643.5 1647.0,649.2 1647.6,654.5 1648.2,655.5 1648.8,660.1 1649.2,660.1 1649.8,659.4 1650.2,659.6 1650.7,660.1 1651.2,655.6 1651.7,657.1 1651.9,637.3 1652.4,636.6 1652.9,633.3 1653.6,634.5 1654.2,639.2 1654.8,646.0 1655.3,649.7 1655.9,655.1 1656.5,653.8 1657.2,650.1 1657.7,646.5 1658.2,646.2 1658.7,643.2 1659.2,638.0 1659.7,632.8 1660.2,633.9 1660.7,632.8 1661.2,633.7 1661.7,632.8 1662.1,636.8 1662.6,645.2 1663.2,653.2 1663.8,657.6 1664.5,646.4 1665.1,638.8 1665.6,639.8 1666.1,638.8 1666.6,639.7 1667.1,645.4 1667.6,649.2 1668.2,652.5 1668.8,659.6 1669.4,659.0 1670.0,656.5 1670.6,655.1 1671.1,654.0 1671.6,652.6 1672.1,654.8 1672.5,657.9 1673.0,659.6 1673.5,657.6 1674.0,657.2 1674.5,655.1 1675.0,652.8 1675.5,653.4 1676.0,649.6 1676.5,649.2 1677.0,647.9 1677.5,645.2 1678.3,633.8 1678.8,632.3 1679.4,633.8 1679.9,631.8 1680.5,631.8 1681.0,639.6 1681.5,644.2 1682.0,644.8 1682.5,651.9 1683.0,650.4 1683.5,655.6 1684.0,649.8 1684.5,640.7 1685.0,633.8 1685.4,640.4 1685.9,643.2 1686.4,643.6 1686.8,650.4 1687.3,649.7 1687.8,655.1 1688.2,656.1 1688.8,651.4 1689.3,648.3 1689.9,642.7 1690.4,642.7 1690.9,644.4 1691.4,644.7 1691.9,646.7 1692.4,649.8 1692.9,650.0 1693.4,653.1 1693.9,645.7 1694.4,647.6 1694.9,648.8 1695.4,651.6 1695.9,653.1 1696.3,651.6 1696.8,651.2 1697.3,647.9 1697.8,648.2 1698.3,642.5 1698.8,633.3 1699.5,634.2 1700.1,635.3 1700.7,641.6 1701.2,645.1 1701.8,650.1 1702.3,641.0 1702.8,627.8 1703.4,624.2 1704.1,622.4 1704.8,641.7 1705.3,645.3 1705.8,642.4 1706.3,646.2 1706.8,644.0 1707.3,636.1 1707.8,635.3 1708.3,627.7 1708.9,618.4 1709.6,621.2 1710.2,624.4 1710.7,641.2 1711.2,642.2 1711.7,641.5 1712.2,642.2 1712.7,641.0 1713.2,642.2 1713.7,642.2 1714.2,640.3 1714.7,640.1 1715.2,639.2 1715.7,612.5 1716.2,612.5 1716.7,614.5 1717.3,617.8 1718.0,619.4 1718.6,625.1 1719.2,634.8 1719.7,636.3 1720.2,634.7 1720.6,636.3 1721.1,635.1 1721.6,636.3 1722.1,635.2 1722.6,632.6 1723.1,632.0 1723.6,629.4 1724.1,628.3 1724.6,629.6 1725.1,629.8 1725.6,631.1 1726.1,631.8 1726.6,628.4 1727.1,629.5 1727.6,627.3 1728.1,615.4 1728.6,605.0 1729.2,607.5 1729.9,605.5 1730.3,610.0 1730.8,618.0 1731.2,622.4 1731.9,611.0 1732.5,599.6 1733.2,598.8 1733.8,595.6 1734.3,607.7 1734.8,623.4 1735.3,624.4 1735.8,623.5 1736.2,626.4 1736.9,624.7 1737.5,621.4 1738.0,618.7 1738.5,616.9 1739.0,613.5 1739.5,613.0 1740.0,617.5 1740.5,615.4 1741.0,617.4 1741.8,591.6 1742.4,593.0 1743.0,590.6 1743.5,600.1 1744.0,613.5 1744.4,612.1 1744.9,610.2 1745.4,611.7 1745.9,607.5 1746.5,607.5 1747.1,613.5 1747.7,630.3 1748.4,648.2 1748.9,650.5 1749.4,648.9 1749.9,652.1 1750.4,653.3 1750.9,653.4 1751.4,654.6 1751.9,655.1 1752.4,655.8 1752.9,657.4 1753.4,657.5 1753.9,659.4 1754.4,660.1 1754.8,656.6 1755.3,654.5 1755.8,650.6 1756.6,659.1 1757.2,659.0 1757.7,659.7 1758.3,658.2 1758.8,659.1 1759.3,660.1 1759.8,660.4 1760.3,661.9 1760.8,662.0 1761.3,663.5 1761.8,665.5 1762.3,667.0 1762.8,664.2 1763.3,662.6 1763.8,659.6 1764.3,660.2 1764.8,661.2 1765.3,661.4 1765.8,663.0 1766.3,663.0 1766.8,663.0 1767.2,664.5 1767.7,664.0 1768.2,668.1 1768.7,672.5 1769.2,669.3 1769.7,665.0 1770.3,658.7 1770.9,654.6 1771.6,661.2 1772.2,664.0 1772.7,666.9 1773.2,672.1 1773.7,675.4 1774.2,674.0 1774.7,674.2 1775.2,672.0 1775.7,666.6 1776.2,662.0 1776.7,660.2 1777.2,655.6 1777.7,659.8 1778.2,667.2 1778.7,672.5 1779.2,671.9 1779.6,673.0 1780.1,673.0 1780.8,647.7 1781.3,645.7 1781.8,645.7 1782.6,675.4 1783.1,676.4 1783.6,675.0 1784.1,676.4 1784.6,671.1 1785.1,665.0 1785.6,657.1 1786.1,650.6 1786.6,665.9 1787.1,676.9 1787.6,676.3 1788.1,677.4 1788.6,676.2 1789.1,677.4 1789.6,676.3 1790.0,674.6 1790.5,673.5 1791.0,673.9 1791.5,673.6 1792.0,673.8 1792.5,674.0 1793.0,673.1 1793.5,677.2 1794.0,674.8 1794.5,677.4 1795.0,677.4 1795.5,673.6 1796.0,675.4 1796.5,659.6 1797.3,651.6 1797.8,655.5 1798.4,654.0 1799.0,656.1 1799.5,661.0 1800.0,662.0 1800.5,668.0 1801.0,677.4 1801.5,677.3 1802.0,673.0 1802.5,673.2 1802.9,671.0 1803.4,674.7 1803.9,678.9 1804.4,679.4 1804.9,679.2 1805.4,679.9 1805.9,679.4 1806.4,679.9 1806.9,679.9 1807.4,679.8 1807.9,679.9 1808.4,668.0 1809.2,657.6 1809.8,669.0 1810.4,675.9 1810.9,665.1 1811.4,657.6 1811.9,672.5 1812.4,681.9 1813.0,682.1 1813.5,687.8 1814.0,678.1 1814.5,663.0 1815.2,658.6 1815.8,657.6 1816.3,669.3 1816.8,680.9 1817.3,679.7 1817.8,683.4 1818.3,683.9 1818.8,684.5 1819.3,686.0 1819.8,686.3 1820.3,686.5 1820.8,687.2 1821.2,687.0 1821.7,687.7 1822.2,687.7 1822.7,686.1 1823.2,685.8 1823.7,682.0 1824.2,677.8 1824.7,679.8 1825.2,683.5 1825.7,685.8 1826.3,681.4 1826.9,678.3 1827.5,682.5 1828.2,685.3 1828.7,678.3 1829.2,673.1 1829.7,665.4 1830.3,667.0 1830.8,671.9 1831.7,682.8 1832.1,682.8 1832.6,681.1 1833.1,682.8 1833.6,682.3 1834.4,664.9 1835.0,669.6 1835.6,677.8 1836.2,671.0 1836.8,660.5 1837.5,669.6 1838.1,678.8 1838.6,678.8 1839.1,676.6 1839.6,677.8 1840.1,676.2 1840.6,674.2 1841.1,672.9 1841.6,671.1 1842.1,667.2 1842.5,665.9 1843.0,662.8 1843.5,658.5 1844.0,663.4 1844.5,669.9 1845.0,665.7 1845.5,658.3 1846.0,652.5 1846.5,651.2 1847.0,649.6 1847.5,649.6 1848.0,650.1 1848.5,656.3 1849.0,662.0 1849.5,669.9 1850.0,669.7 1850.5,672.2 1851.0,667.9 1851.5,670.1 1852.0,669.9 1852.5,670.7 1853.0,672.0 1853.5,672.8 1854.0,673.9 1854.5,674.8 1855.0,674.6 1855.4,676.3 1855.9,676.1 1856.4,677.2 1856.9,677.4 1857.4,678.3 1857.9,677.8 1858.4,677.0 1858.9,677.0 1859.4,675.9 1859.9,675.6 1860.4,674.9 1860.9,674.6 1861.4,673.9 1861.9,674.4 1862.4,676.0 1862.9,676.3 1863.4,677.3 1863.9,678.2 1864.4,678.0 1864.9,678.8 1865.4,678.2 1865.9,677.2 1866.3,676.7 1866.8,675.9 1867.3,676.2 1867.8,677.4 1868.3,677.5 1868.8,678.7 1869.3,679.0 1869.8,679.8 1870.3,678.6 1870.8,676.5 1871.3,675.4 1871.8,675.8 1872.3,675.8 1872.8,676.9 1873.3,676.2 1873.8,677.3 1874.3,677.3 1874.8,672.6 1875.3,671.9 1876.1,652.0 1876.6,652.4 1877.1,648.6 1877.7,653.8 1878.2,664.0 1878.8,669.9 1879.4,672.8 1880.0,679.3 1880.6,675.0 1881.2,668.0 1881.7,665.4 1882.2,661.2 1882.7,653.5 1883.2,659.5 1883.7,671.7 1884.2,677.8 1884.7,676.4 1885.2,679.3 1885.7,677.3 1886.2,679.3 1886.7,679.3 1887.2,676.0 1887.7,675.0 1888.2,672.9 1888.7,668.3 1889.2,666.0 1889.7,660.0 1890.2,659.0 1890.6,658.5 1891.1,657.5 1891.6,653.7 1892.1,650.1 1892.6,653.1 1893.1,652.4 1893.6,654.0 1894.1,662.0 1894.6,669.9 1895.1,668.7 1895.6,671.9 1896.1,670.5 1896.6,673.4 1897.1,675.6 1897.6,676.0 1898.1,678.3 1898.6,675.4 1899.1,670.9 1899.6,668.9 1900.1,672.8 1900.6,670.0 1901.1,669.9 1901.5,661.0 1902.0,648.6 1902.5,657.6 1903.0,668.9 1903.6,666.1 1904.2,659.4 1904.8,655.0 1905.4,653.5 1906.0,645.7 1906.5,644.6 1907.0,647.5 1907.5,650.1 1908.0,659.2 1908.5,669.9 1909.0,666.9 1909.5,658.9 1910.0,656.5 1910.5,658.3 1911.0,659.2 1911.5,661.3 1912.0,661.6 1912.5,664.0 1913.0,663.6 1913.5,661.4 1914.0,661.0 1914.4,659.2 1914.9,658.5 1915.4,662.3 1915.9,661.9 1916.4,666.2 1916.9,668.4 1917.4,652.4 1917.9,640.1 1918.4,638.9 1918.9,630.2 1919.4,643.0 1919.9,659.0 1920.4,659.0 1920.9,655.1 1921.4,655.8 1921.9,652.0 1922.4,648.5 1922.9,648.1 1923.4,644.6 1923.9,647.5 1924.4,652.1 1924.8,655.0 1925.3,655.0 1925.8,658.4 1926.3,657.8 1926.8,659.1 1927.3,660.0 1927.8,650.1 1928.3,644.1 1928.9,643.2 1929.5,636.2 1930.0,634.2 1930.7,646.3 1931.3,656.5 1931.8,653.3 1932.3,653.7 1932.8,651.1 1933.3,650.1 1933.8,645.8 1934.3,639.6 1934.8,636.2 1935.3,637.8 1935.8,638.2 1936.3,645.9 1936.8,654.5 1937.2,652.6 1937.7,646.5 1938.2,645.1 1938.7,646.6 1939.2,646.9 1939.7,649.2 1940.2,650.1 1940.7,648.5 1941.2,648.2 1941.7,646.6 1942.2,645.8 1942.7,644.6 1943.2,643.5 1943.7,642.7 1944.2,641.1 1944.7,640.3 1945.2,639.2 1945.7,639.3 1946.2,640.1 1946.7,639.9 1947.2,640.8 1947.7,641.1 1948.2,635.6 1948.7,638.9 1949.2,635.2 1949.8,617.3 1950.3,609.6 1950.8,605.4 1951.3,619.2 1951.8,630.2 1952.4,620.9 1953.0,617.7 1953.6,608.4 1954.1,614.0 1954.6,623.5 1955.1,629.2 1955.6,621.7 1956.1,619.6 1956.6,610.8 1957.1,605.9 1957.6,611.2 1958.1,599.0 1958.6,605.9 1959.4,625.3 1959.8,607.4 1960.0,556.9 1960.5,560.9 1961.0,555.9 1961.2,528.2"/>
</g>
</g>
<g id="ax1">
<g stroke="#c8c8c8" stroke-width="4.7" stroke-dasharray="4.70 11.24" stroke-dashoffset="-3.66">
<line x1="246.4" y1="999.5" x2="1975.6" y2="999.5"/>
<line x1="246.4" y1="937.8" x2="1975.6" y2="937.8"/>
<line x1="246.4" y1="901.7" x2="1975.6" y2="901.7"/>
<line x1="246.4" y1="876.1" x2="1975.6" y2="876.1"/>
<line x1="246.4" y1="856.2" x2="1975.6" y2="856.2"/>
<line x1="246.4" y1="840.0" x2="1975.6" y2="840.0"/>
<line x1="246.4" y1="826.3" x2="1975.6" y2="826.3"/>
<line x1="246.4" y1="814.4" x2="1975.6" y2="814.4"/>
<line x1="246.4" y1="803.9" x2="1975.6" y2="803.9"/>
<line x1="246.4" y1="1142.8" x2="1975.6" y2="1142.8"/>
<line x1="246.4" y1="1106.7" x2="1975.6" y2="1106.7"/>
<line x1="246.4" y1="1081.1" x2="1975.6" y2="1081.1"/>
<line x1="246.4" y1="1061.2" x2="1975.6" y2="1061.2"/>
<line x1="246.4" y1="1045.0" x2="1975.6" y2="1045.0"/>
<line x1="246.4" y1="1031.3" x2="1975.6" y2="1031.3"/>
<line x1="246.4" y1="1019.4" x2="1975.6" y2="1019.4"/>
<line x1="246.4" y1="1008.9" x2="1975.6" y2="1008.9"/>
<line x1="246.4" y1="1409.5" x2="1975.6" y2="1409.5"/>
<line x1="246.4" y1="1347.8" x2="1975.6" y2="1347.8"/>
<line x1="246.4" y1="1311.7" x2="1975.6" y2="1311.7"/>
<line x1="246.4" y1="1286.1" x2="1975.6" y2="1286.1"/>
<line x1="246.4" y1="1266.2" x2="1975.6" y2="1266.2"/>
<line x1="246.4" y1="1250.0" x2="1975.6" y2="1250.0"/>
<line x1="246.4" y1="1236.3" x2="1975.6" y2="1236.3"/>
<line x1="246.4" y1="1224.4" x2="1975.6" y2="1224.4"/>
<line x1="246.4" y1="1213.9" x2="1975.6" y2="1213.9"/>
<line x1="246.4" y1="1419.6" x2="1975.6" y2="1419.6"/>
</g>
<g stroke="#dfdfdf" stroke-width="4.6">
<line x1="408.5" y1="794.5" x2="408.5" y2="1424.6"/>
<line x1="586.5" y1="794.5" x2="586.5" y2="1424.6"/>
<line x1="763.5" y1="794.5" x2="763.5" y2="1424.6"/>
<line x1="940.5" y1="794.5" x2="940.5" y2="1424.6"/>
<line x1="1118.5" y1="794.5" x2="1118.5" y2="1424.6"/>
<line x1="1295.5" y1="794.5" x2="1295.5" y2="1424.6"/>
<line x1="1473.5" y1="794.5" x2="1473.5" y2="1424.6"/>
<line x1="1650.5" y1="794.5" x2="1650.5" y2="1424.6"/>
<line x1="1827.5" y1="794.5" x2="1827.5" y2="1424.6"/>
<line x1="246.4" y1="1204.5" x2="1975.6" y2="1204.5"/>
</g>
<g stroke="#262626" stroke-width="4.6" stroke-linecap="square">
<line x1="408.5" y1="1424.6" x2="408.5" y2="1407.2"/>
<line x1="408.5" y1="794.5" x2="408.5" y2="811.9"/>
<line x1="586.5" y1="1424.6" x2="586.5" y2="1407.2"/>
<line x1="586.5" y1="794.5" x2="586.5" y2="811.9"/>
<line x1="763.5" y1="1424.6" x2="763.5" y2="1407.2"/>
<line x1="763.5" y1="794.5" x2="763.5" y2="811.9"/>
<line x1="940.5" y1="1424.6" x2="940.5" y2="1407.2"/>
<line x1="940.5" y1="794.5" x2="940.5" y2="811.9"/>
<line x1="1118.5" y1="1424.6" x2="1118.5" y2="1407.2"/>
<line x1="1118.5" y1="794.5" x2="1118.5" y2="811.9"/>
<line x1="1295.5" y1="1424.6" x2="1295.5" y2="1407.2"/>
<line x1="1295.5" y1="794.5" x2="1295.5" y2="811.9"/>
<line x1="1473.5" y1="1424.6" x2="1473.5" y2="1407.2"/>
<line x1="1473.5" y1="794.5" x2="1473.5" y2="811.9"/>
<line x1="1650.5" y1="1424.6" x2="1650.5" y2="1407.2"/>
<line x1="1650.5" y1="794.5" x2="1650.5" y2="811.9"/>
<line x1="1827.5" y1="1424.6" x2="1827.5" y2="1407.2"/>
<line x1="1827.5" y1="794.5" x2="1827.5" y2="811.9"/>
<line x1="246.4" y1="999.5" x2="255.1" y2="999.5"/>
<line x1="1975.6" y1="999.5" x2="1966.9" y2="999.5"/>
<line x1="246.4" y1="937.8" x2="255.1" y2="937.8"/>
<line x1="1975.6" y1="937.8" x2="1966.9" y2="937.8"/>
<line x1="246.4" y1="901.7" x2="255.1" y2="901.7"/>
<line x1="1975.6" y1="901.7" x2="1966.9" y2="901.7"/>
<line x1="246.4" y1="876.1" x2="255.1" y2="876.1"/>
<line x1="1975.6" y1="876.1" x2="1966.9" y2="876.1"/>
<line x1="246.4" y1="856.2" x2="255.1" y2="856.2"/>
<line x1="1975.6" y1="856.2" x2="1966.9" y2="856.2"/>
<line x1="246.4" y1="840.0" x2="255.1" y2="840.0"/>
<line x1="1975.6" y1="840.0" x2="1966.9" y2="840.0"/>
<line x1="246.4" y1="826.3" x2="255.1" y2="826.3"/>
<line x1="1975.6" y1="826.3" x2="1966.9" y2="826.3"/>
<line x1="246.4" y1="814.4" x2="255.1" y2="814.4"/>
<line x1="1975.6" y1="814.4" x2="1966.9" y2="814.4"/>
<line x1="246.4" y1="803.9" x2="255.1" y2="803.9"/>
<line x1="1975.6" y1="803.9" x2="1966.9" y2="803.9"/>
<line x1="246.4" y1="1142.8" x2="255.1" y2="1142.8"/>
<line x1="1975.6" y1="1142.8" x2="1966.9" y2="1142.8"/>
<line x1="246.4" y1="1106.7" x2="255.1" y2="1106.7"/>
<line x1="1975.6" y1="1106.7" x2="1966.9" y2="1106.7"/>
<line x1="246.4" y1="1081.1" x2="255.1" y2="1081.1"/>
<line x1="1975.6" y1="1081.1" x2="1966.9" y2="1081.1"/>
<line x1="246.4" y1="1061.2" x2="255.1" y2="1061.2"/>
<line x1="1975.6" y1="1061.2" x2="1966.9" y2="1061.2"/>
<line x1="246.4" y1="1045.0" x2="255.1" y2="1045.0"/>
<line x1="1975.6" y1="1045.0" x2="1966.9" y2="1045.0"/>
<line x1="246.4" y1="1031.3" x2="255.1" y2="1031.3"/>
<line x1="1975.6" y1="1031.3" x2="1966.9" y2="1031.3"/>
<line x1="246.4" y1="1019.4" x2="255.1" y2="1019.4"/>
<line x1="1975.6" y1="1019.4" x2="1966.9" y2="1019.4"/>
<line x1="246.4" y1="1008.9" x2="255.1" y2="1008.9"/>
<line x1="1975.6" y1="1008.9" x2="1966.9" y2="1008.9"/>
<line x1="246.4" y1="1409.5" x2="255.1" y2="1409.5"/>
<line x1="1975.6" y1="1409.5" x2="1966.9" y2="1409.5"/>
<line x1="246.4" y1="1347.8" x2="255.1" y2="1347.8"/>
<line x1="1975.6" y1="1347.8" x2="1966.9" y2="1347.8"/>
<line x1="246.4" y1="1311.7" x2="255.1" y2="1311.7"/>
<line x1="1975.6" y1="1311.7" x2="1966.9" y2="1311.7"/>
<line x1="246.4" y1="1286.1" x2="255.1" y2="1286.1"/>
<line x1="1975.6" y1="1286.1" x2="1966.9" y2="1286.1"/>
<line x1="246.4" y1="1266.2" x2="255.1" y2="1266.2"/>
<line x1="1975.6" y1="1266.2" x2="1966.9" y2="1266.2"/>
<line x1="246.4" y1="1250.0" x2="255.1" y2="1250.0"/>
<line x1="1975.6" y1="1250.0" x2="1966.9" y2="1250.0"/>
<line x1="246.4" y1="1236.3" x2="255.1" y2="1236.3"/>
<line x1="1975.6" y1="1236.3" x2="1966.9" y2="1236.3"/>
<line x1="246.4" y1="1224.4" x2="255.1" y2="1224.4"/>
<line x1="1975.6" y1="1224.4" x2="1966.9" y2="1224.4"/>
<line x1="246.4" y1="1213.9" x2="255.1" y2="1213.9"/>
<line x1="1975.6" y1="1213.9" x2="1966.9" y2="1213.9"/>
<line x1="246.4" y1="1419.6" x2="255.1" y2="1419.6"/>
<line x1="1975.6" y1="1419.6" x2="1966.9" y2="1419.6"/>
<line x1="246.4" y1="1204.5" x2="263.8" y2="1204.5"/>
<line x1="1975.6" y1="1204.5" x2="1958.2" y2="1204.5"/>
<rect x="246.4" y="794.5" width="1729.2" height="630.1" fill="none"/>
</g>
<clipPath id="clip1"><rect x="246.4" y="794.5" width="1729.2" height="630.1"/></clipPath>
<g fill="none" stroke-width="2.4" stroke-linejoin="miter" stroke-miterlimit="2" stroke-linecap="butt" shape-rendering="crispEdges" clip-path="url(#clip1)">
<polyline stroke="#0072bd" points="276.0,858.1 277.0,865.8 277.0,867.2 278.0,872.8 278.2,873.4 279.0,877.9 279.4,879.9 280.0,883.4 280.5,886.8 281.0,890.6 281.5,893.6 282.0,897.6 282.6,900.2 283.0,903.1 283.6,907.1 284.0,910.5 284.6,914.4 285.0,916.6 285.7,921.2 286.0,923.5 286.7,928.1 287.0,929.5 287.8,935.0 288.0,936.5 288.6,941.4 289.0,945.3 289.8,951.1 290.0,953.2 290.7,961.2 291.0,962.0 292.0,968.6 292.2,970.4 293.0,974.0 294.0,979.2 294.2,979.5 295.0,983.1 296.0,987.1 296.7,989.7 297.0,990.1 298.0,994.4 299.0,996.6 299.7,999.7 300.0,1000.0 301.0,1002.6 302.0,1005.7 303.0,1008.4 303.1,1009.0 304.0,1011.6 305.0,1013.9 306.0,1015.7 306.6,1017.5 307.0,1017.8 308.0,1019.2 309.0,1021.1 310.0,1021.7 311.0,1023.9 311.6,1024.5 312.0,1024.8 313.0,1024.6 314.0,1025.5 315.0,1026.2 316.0,1027.5 316.5,1028.8 317.0,1028.9 318.0,1029.5 319.0,1029.0 320.0,1030.4 321.0,1031.1 321.5,1031.5 322.0,1031.8 323.0,1031.7 324.0,1032.5 325.0,1034.2 326.0,1034.9 326.4,1035.5 327.0,1035.4 328.0,1037.0 329.0,1036.9 330.0,1039.1 331.0,1040.0 331.4,1039.6 332.0,1039.9 333.0,1041.8 334.0,1043.2 335.0,1043.9 336.0,1044.6 336.4,1045.4 337.0,1046.7 338.0,1046.5 339.0,1048.5 339.3,1047.8 340.0,1047.9 341.0,1048.1 342.0,1049.6 343.0,1049.8 344.0,1049.2 344.3,1049.0 345.0,1049.8 346.0,1050.2 347.0,1049.0 348.0,1049.9 349.0,1050.2 349.2,1049.7 350.0,1049.8 351.0,1050.1 352.0,1049.2 353.0,1049.2 354.0,1049.7 354.2,1049.5 355.0,1049.7 356.0,1049.6 357.0,1050.6 358.0,1049.9 359.0,1050.6 359.2,1050.9 360.0,1050.6 361.0,1050.5 362.0,1051.1 363.0,1051.3 364.0,1051.8 364.1,1051.8 365.0,1052.3 366.0,1052.7 367.0,1053.1 368.0,1053.7 369.0,1054.0 369.1,1054.0 370.0,1053.7 371.0,1054.3 372.0,1054.3 373.0,1053.9 374.0,1054.7 374.0,1054.4 375.0,1055.2 376.0,1055.5 377.0,1055.1 378.0,1055.7 379.0,1056.0 379.0,1055.8 380.0,1055.8 381.0,1056.2 382.0,1058.0 383.0,1058.0 383.9,1058.0 384.0,1058.3 385.0,1058.5 386.0,1059.9 387.0,1061.1 388.0,1061.6 388.9,1061.9 389.0,1062.7 390.0,1063.3 391.0,1062.9 392.0,1064.1 392.9,1064.8 393.0,1064.6 394.0,1065.5 395.0,1065.2 396.0,1066.4 396.8,1066.9 397.0,1065.8 398.0,1066.5 399.0,1065.8 400.0,1066.2 400.8,1066.1 401.0,1066.4 402.0,1065.7 403.0,1064.5 404.0,1064.6 404.8,1063.3 405.0,1064.0 406.0,1063.0 407.0,1062.1 408.0,1061.5 408.7,1060.9 409.0,1061.7 410.0,1060.3 411.0,1060.1 412.0,1059.6 413.0,1059.1 413.7,1059.7 414.0,1059.4 415.0,1059.4 416.0,1059.5 417.0,1058.8 418.0,1058.0 418.6,1058.2 419.0,1058.7 420.0,1059.2 421.0,1059.6 422.0,1059.2 423.0,1059.0 423.6,1059.7 424.0,1060.3 425.0,1059.8 426.0,1060.9 427.0,1061.2 428.0,1061.1 428.6,1061.2 429.0,1060.7 430.0,1060.8 431.0,1060.8 432.0,1061.7 433.0,1061.9 433.5,1062.4 434.0,1061.7 435.0,1062.1 436.0,1061.0 437.0,1060.4 438.0,1060.1 438.5,1060.3 439.0,1060.4 440.0,1060.6 441.0,1059.1 442.0,1058.5 443.0,1058.7 443.4,1058.0 444.0,1058.0 445.0,1057.2 446.0,1057.8 447.0,1057.6 448.0,1057.1 448.4,1057.2 449.0,1056.4 450.0,1055.9 451.0,1056.3 452.0,1057.1 453.0,1056.5 453.4,1056.2 454.0,1056.2 455.0,1056.3 456.0,1056.9 457.0,1057.7 458.0,1057.8 459.0,1057.7 460.0,1057.9 460.0,1057.1 461.0,1058.5 462.0,1058.3 463.0,1059.3 464.0,1059.2 464.8,1060.9 465.0,1059.9 466.0,1061.1 467.0,1061.7 468.0,1062.3 469.0,1062.9 470.0,1063.0 471.0,1064.2 472.0,1064.9 472.7,1064.9 473.0,1065.5 474.0,1065.6 475.0,1064.9 476.0,1066.1 477.0,1065.6 478.0,1066.8 479.0,1066.7 479.7,1067.7 480.0,1066.7 481.0,1068.4 482.0,1067.7 483.0,1068.2 484.0,1068.6 485.0,1069.2 486.0,1070.9 486.6,1071.0 487.0,1071.3 488.0,1070.6 489.0,1071.7 490.0,1072.2 491.0,1072.4 492.0,1072.1 493.0,1073.5 493.5,1073.3 494.0,1073.4 495.0,1073.1 496.0,1073.5 497.0,1074.2 498.0,1074.1 499.0,1074.3 499.5,1075.0 500.0,1074.4 501.0,1075.1 502.0,1074.1 503.0,1074.9 504.0,1075.3 505.0,1074.4 506.0,1075.5 507.0,1075.0 507.4,1075.6 508.0,1075.5 509.0,1074.6 510.0,1075.6 511.0,1074.4 512.0,1074.1 513.0,1074.4 513.4,1073.8 514.0,1073.5 515.0,1073.9 516.0,1072.5 517.0,1072.6 518.0,1072.6 519.0,1071.5 519.3,1071.8 520.0,1071.5 521.0,1070.2 522.0,1069.7 523.0,1070.2 524.0,1069.9 525.0,1069.5 525.3,1069.1 526.0,1068.8 527.0,1069.3 528.0,1068.9 529.0,1068.9 530.0,1069.0 531.0,1067.7 531.2,1068.7 532.0,1068.7 533.0,1068.2 534.0,1068.8 535.0,1069.8 536.0,1069.9 537.0,1070.3 537.2,1069.9 538.0,1070.5 539.0,1071.0 540.0,1071.3 541.0,1070.9 542.0,1071.3 543.0,1070.6 543.1,1070.7 544.0,1071.3 545.0,1071.8 546.0,1070.9 547.0,1071.0 548.0,1071.5 549.0,1071.3 549.1,1071.1 550.0,1071.0 551.0,1071.2 552.0,1071.5 553.0,1070.5 554.0,1071.2 555.0,1070.0 555.0,1070.2 556.0,1070.7 557.0,1069.7 558.0,1070.1 559.0,1069.7 560.0,1069.8 561.0,1070.6 561.0,1069.6 562.0,1070.6 563.0,1071.1 564.0,1070.4 565.0,1071.5 566.0,1071.0 566.9,1071.9 567.0,1071.6 568.0,1071.6 569.0,1072.7 570.0,1072.7 571.0,1072.5 572.0,1073.2 572.9,1073.1 573.0,1073.1 574.0,1074.3 575.0,1074.6 576.0,1073.7 577.0,1075.0 578.0,1074.9 578.8,1074.2 579.0,1074.3 580.0,1074.8 581.0,1075.5 582.0,1075.6 583.0,1074.8 584.0,1075.2 584.8,1075.9 585.0,1074.9 586.0,1074.7 587.0,1075.2 588.0,1075.5 589.0,1075.8 590.0,1075.8 590.7,1074.6 591.0,1074.9 592.0,1075.1 593.0,1076.0 594.0,1076.0 595.0,1077.0 596.0,1076.8 596.7,1077.0 597.0,1077.1 598.0,1076.7 599.0,1077.9 600.0,1078.1 601.0,1078.3 602.0,1078.5 602.6,1077.8 603.0,1077.6 604.0,1077.9 605.0,1078.2 606.0,1077.3 607.0,1078.1 608.0,1077.9 608.6,1077.6 609.0,1077.1 610.0,1076.1 611.0,1076.5 612.0,1075.1 613.0,1075.1 614.0,1075.0 614.5,1074.5 615.0,1073.9 616.0,1074.5 617.0,1073.5 618.0,1073.5 619.0,1073.3 619.5,1073.5 620.0,1072.9 621.0,1074.2 622.0,1074.5 623.0,1075.5 624.0,1075.3 624.4,1075.9 625.0,1076.8 626.0,1076.1 627.0,1077.8 628.0,1077.9 628.4,1078.0 629.0,1078.0 630.0,1078.2 631.0,1079.2 632.0,1078.5 633.0,1079.8 633.4,1079.3 634.0,1078.5 635.0,1078.4 636.0,1077.4 637.0,1077.1 637.3,1075.8 638.0,1075.8 639.0,1073.8 640.0,1072.9 640.0,1073.2 641.0,1071.7 641.5,1071.0 642.0,1070.8 643.0,1069.7 644.0,1067.9 644.5,1067.4 645.0,1067.1 646.0,1065.0 647.0,1064.7 647.4,1062.7 648.0,1062.9 649.0,1063.1 650.0,1061.7 651.0,1061.4 651.4,1060.9 652.0,1062.3 653.0,1062.7 654.0,1062.1 655.0,1063.2 655.4,1062.9 656.0,1062.8 657.0,1063.2 658.0,1064.0 659.0,1063.9 659.3,1063.6 660.0,1063.6 661.0,1062.3 662.0,1062.0 663.0,1061.0 663.3,1061.8 664.0,1060.3 665.0,1059.5 666.0,1057.6 666.3,1057.3 667.0,1056.4 668.0,1054.4 668.8,1053.5 669.0,1053.3 670.0,1050.0 670.4,1049.1"/>
<polyline stroke="#0072bd" points="772.4,1108.5 772.5,1118.5 772.9,1111.5 773.2,1114.5 774.2,1117.9 774.9,1119.4 775.2,1120.2 776.2,1122.0 777.2,1123.1 777.9,1123.5 778.2,1124.3 779.2,1124.7 780.2,1126.2 781.2,1126.7 781.8,1126.6 782.2,1127.4 783.2,1127.9 784.2,1128.6 785.2,1128.8 785.8,1129.8 786.2,1129.2 787.2,1129.6 788.2,1129.8 789.2,1130.1 789.8,1130.1 790.2,1131.0 791.2,1131.1 792.2,1130.4 793.2,1131.3 794.2,1130.8 794.7,1131.7 795.2,1131.5 796.2,1131.9 797.2,1132.4 798.2,1132.6 799.2,1132.7 799.7,1132.2 800.2,1132.1 801.2,1132.9 802.2,1133.1 803.2,1133.8 804.2,1134.0 804.6,1133.1 805.2,1133.7 806.2,1134.6 807.2,1134.7 808.2,1136.0 809.2,1135.1 809.6,1135.9 810.2,1136.7 811.2,1137.1 812.2,1136.8 813.2,1136.7 814.2,1137.5 814.5,1137.2 815.2,1137.9 816.2,1137.7 817.2,1137.7 818.2,1138.5 819.2,1139.1 819.5,1138.8 820.2,1138.9 821.2,1138.9 822.2,1138.9 823.2,1138.2 824.2,1138.8 824.5,1139.5 825.2,1138.8 826.2,1139.0 827.2,1139.0 828.2,1137.6 829.2,1138.3 829.4,1138.0 830.2,1137.0 831.2,1137.0 832.2,1137.1 833.2,1136.8 834.2,1137.0 834.4,1136.3 835.2,1136.7 836.2,1136.0 837.2,1136.5 838.2,1136.4 839.2,1135.0 839.3,1135.9 840.2,1135.0 841.2,1135.3 842.2,1136.0 843.2,1135.4 844.2,1134.8 844.3,1134.8 845.2,1136.5 846.2,1136.8 847.2,1137.3 848.2,1136.8 849.2,1137.2 849.2,1137.7 850.2,1137.4 851.2,1138.8 852.2,1138.8 853.2,1139.4 854.2,1140.8 855.2,1140.6 856.2,1142.1 857.2,1142.2 858.2,1142.6 859.2,1143.1 859.2,1142.6 860.2,1144.0 861.2,1143.2 862.2,1144.8 863.2,1144.8 864.1,1145.2 864.2,1145.2 865.2,1145.0 866.2,1144.8 867.2,1145.1 868.1,1145.6 868.2,1145.1 869.2,1145.5 870.2,1145.2 871.2,1144.0 872.0,1143.8 872.2,1144.8 873.2,1143.8 874.2,1142.6 875.2,1142.5 876.0,1142.0 876.2,1142.1 877.2,1141.0 878.2,1140.9 879.2,1138.9 880.0,1139.5 880.2,1139.1 881.2,1138.0 882.2,1137.0 883.2,1136.5 884.0,1136.8 884.2,1136.6 885.2,1136.0 886.2,1134.9 887.2,1134.5 887.9,1134.8 888.2,1134.2 889.2,1134.3 890.2,1133.8 891.2,1133.9 891.9,1134.3 892.2,1134.7 893.2,1133.6 894.2,1134.1 895.2,1134.2 895.9,1134.1 896.2,1134.5 897.2,1134.3 898.2,1135.0 899.2,1135.4 899.8,1136.5 900.2,1135.8 901.2,1136.7 902.2,1137.1 903.2,1137.4 903.8,1137.2 904.2,1137.0 905.2,1137.4 906.2,1137.2 907.2,1137.1 908.2,1137.3 908.7,1136.9 909.2,1137.6 910.2,1137.2 911.2,1136.6 912.2,1136.9 913.2,1136.4 913.7,1137.0 914.2,1137.0 915.2,1137.3 916.2,1136.0 917.2,1136.4 918.2,1136.5 918.6,1135.6 919.2,1135.9 920.2,1136.0 921.2,1135.2 922.2,1135.6 923.2,1136.1 923.6,1136.1 924.2,1136.1 925.2,1135.0 926.2,1136.0 927.2,1136.2 928.2,1135.7 928.6,1135.6 929.2,1136.4 930.2,1136.1 931.2,1137.1 932.2,1136.5 933.2,1137.4 933.5,1137.3 934.2,1136.9 935.2,1137.5 936.2,1137.8 937.2,1137.7 938.2,1137.1 938.5,1136.9 939.2,1137.8 940.0,1138.1 940.2,1137.9 941.2,1137.3 942.2,1137.7 943.2,1137.7 944.2,1137.1 945.0,1137.5 945.2,1137.4 946.2,1137.7 947.2,1136.2 948.2,1137.4 949.2,1136.9 949.9,1136.0 950.2,1136.0 951.2,1136.2 952.2,1136.4 953.2,1136.3 954.2,1135.9 954.9,1136.5 955.2,1136.0 956.2,1136.1 957.2,1136.3 958.2,1136.5 959.2,1135.5 959.8,1135.4 960.2,1135.9 961.2,1136.3 962.2,1136.3 963.2,1135.7 964.2,1135.1 964.8,1135.7 965.2,1135.9 966.2,1135.7 967.2,1134.8 968.2,1134.5 969.2,1135.0 969.8,1134.6 970.2,1134.6 971.2,1134.9 972.2,1134.6 973.2,1134.1 974.2,1134.2 974.7,1133.8 975.2,1132.9 976.2,1132.9 977.2,1132.5 978.2,1133.1 979.2,1132.1 979.7,1131.7 980.2,1132.4 981.2,1132.3 982.2,1131.3 983.2,1131.0 984.2,1130.9 984.6,1130.4 985.2,1131.0 986.2,1129.6 987.2,1130.4 988.2,1129.7 989.2,1128.6 989.6,1128.7 990.2,1128.9 991.2,1127.7 992.2,1128.3 993.2,1128.4 993.5,1127.9 994.2,1128.2 995.2,1127.2 996.2,1126.6 996.5,1126.9 997.2,1128.1 998.2,1127.5 999.2,1127.7 1000.2,1127.6 1000.5,1128.1 1001.2,1128.1 1002.2,1128.8 1003.2,1128.5 1004.2,1128.9 1004.5,1128.9 1005.2,1130.3 1006.2,1130.3 1007.2,1129.7 1008.2,1130.0 1009.2,1130.1 1009.4,1130.5 1010.2,1130.9 1011.2,1131.6 1012.2,1131.8 1013.2,1131.4 1014.2,1132.6 1014.4,1131.9 1015.2,1132.7 1016.2,1132.5 1017.2,1133.2 1018.2,1133.2 1019.2,1134.2 1019.3,1133.9 1020.2,1134.6 1021.2,1133.9 1022.2,1134.3 1023.2,1134.9 1024.2,1135.1 1024.3,1134.7 1025.2,1135.5 1026.2,1135.5 1027.2,1136.0 1028.2,1136.3 1029.2,1136.2 1029.2,1135.5 1030.2,1135.9 1031.2,1135.7 1032.2,1135.0 1033.2,1135.8 1034.2,1135.3 1035.2,1135.1 1036.2,1135.5 1037.2,1134.7 1038.2,1135.5 1039.2,1135.3 1039.2,1134.3 1040.2,1135.1 1041.2,1133.8 1042.2,1134.1 1043.2,1134.2 1044.1,1133.2 1044.2,1133.8 1045.2,1133.2 1046.2,1132.6 1047.2,1133.3 1048.2,1132.7 1049.1,1132.9 1049.2,1133.1 1050.2,1132.2 1051.2,1132.9 1052.2,1132.3 1053.2,1132.1 1054.0,1131.8 1054.2,1132.0 1055.2,1130.8 1056.2,1130.6 1057.2,1131.3 1058.2,1131.1 1059.0,1130.6 1059.2,1130.7 1060.2,1129.7 1061.2,1128.8 1062.0,1128.0 1062.2,1127.2 1063.2,1126.1 1064.2,1126.0 1064.4,1126.5 1065.2,1126.7 1066.2,1126.6 1066.9,1127.2 1067.2,1127.7 1068.2,1128.0 1069.2,1129.8 1069.9,1130.1 1070.2,1130.8 1071.2,1130.7 1072.2,1130.4 1073.2,1130.2 1073.9,1130.9 1074.2,1131.4 1075.2,1131.1 1076.2,1130.3 1077.2,1130.3 1078.2,1130.4 1078.8,1130.9 1079.2,1130.1 1080.2,1130.9 1081.2,1130.0 1082.2,1129.7 1083.2,1129.5 1083.8,1128.9 1084.2,1129.0 1085.2,1127.9 1086.2,1128.7 1087.2,1128.4 1088.2,1128.0 1088.7,1127.1 1089.2,1126.3 1090.2,1125.7 1091.2,1125.6 1092.2,1124.7 1093.2,1124.2 1093.7,1124.3 1094.2,1124.2 1095.2,1123.2 1096.2,1122.8 1097.2,1122.0 1098.2,1121.3 1098.7,1120.8 1099.2,1120.0 1100.0,1120.0 1100.2,1119.6 1101.2,1119.0 1102.2,1117.6 1103.2,1118.2 1104.0,1117.2 1104.2,1117.2 1105.2,1116.9 1106.2,1117.0 1107.2,1115.9 1107.9,1116.1 1108.2,1115.4 1109.2,1116.3 1110.2,1115.4 1111.2,1116.1 1111.9,1115.3 1112.2,1115.7 1113.2,1115.0 1114.2,1115.4 1115.2,1115.1 1115.9,1115.3 1116.2,1115.6 1117.2,1114.9 1118.2,1115.4 1119.2,1114.8 1119.8,1115.0 1120.2,1114.4 1121.2,1114.5 1122.2,1114.0 1123.2,1113.7 1123.8,1113.6 1124.2,1112.7 1125.2,1113.1 1126.2,1111.4 1127.2,1110.4 1127.8,1111.0 1128.2,1110.7 1129.2,1109.2 1130.2,1109.0 1131.2,1107.4 1131.7,1106.4 1132.2,1105.7 1133.2,1105.7 1134.2,1104.7 1135.2,1104.0 1135.7,1102.6 1136.2,1103.3 1137.2,1102.4 1138.2,1101.1 1139.2,1100.2 1139.7,1099.6 1140.2,1100.1 1141.2,1099.6 1142.2,1099.8 1143.2,1098.5 1143.6,1098.9 1144.2,1098.8 1145.2,1098.2 1146.2,1098.1 1147.2,1099.0 1147.6,1099.3 1148.2,1098.9 1149.2,1098.7 1150.2,1100.1 1151.2,1099.5 1151.6,1099.7 1152.2,1100.0 1153.2,1100.8 1154.2,1102.0 1155.2,1102.5 1155.5,1103.0 1156.2,1103.5 1157.2,1104.3 1158.2,1104.4 1159.2,1105.9 1159.5,1105.0 1160.2,1105.9 1161.2,1106.8 1162.2,1107.9 1163.2,1108.4 1163.5,1108.8 1164.2,1107.6 1165.2,1108.3 1166.2,1109.1 1167.2,1109.1 1167.4,1109.2 1168.2,1109.7 1169.2,1109.4 1170.2,1108.6 1171.2,1108.5 1171.4,1109.2 1172.2,1109.3 1173.2,1108.3 1174.2,1108.8 1175.2,1107.6 1175.4,1107.3 1176.2,1107.2 1177.2,1106.6 1178.2,1107.0 1179.2,1106.6 1179.3,1106.2 1180.2,1106.7 1181.2,1106.3 1182.2,1105.3 1183.2,1105.7 1183.3,1105.3 1184.2,1105.5 1185.2,1105.6 1186.2,1105.7 1187.2,1106.4 1187.3,1106.8 1188.2,1105.9 1189.2,1106.5 1190.2,1106.7 1191.2,1106.7 1191.2,1106.7 1192.2,1106.6 1193.2,1107.0 1194.2,1107.5 1195.2,1106.5 1195.2,1106.4 1196.2,1106.8 1197.2,1107.4 1198.2,1106.8 1199.2,1107.4 1199.2,1107.3 1200.2,1106.7 1201.2,1107.3 1202.2,1107.3 1203.1,1107.3 1203.2,1106.8 1204.2,1106.7 1205.2,1106.4 1206.2,1106.9 1207.1,1105.8 1207.2,1105.8 1208.2,1106.2 1209.2,1106.3 1210.2,1105.7 1211.1,1106.1 1211.2,1106.6 1212.2,1106.6 1213.2,1105.9 1214.2,1105.4 1215.0,1105.6 1215.2,1106.1 1216.2,1105.4 1217.2,1104.5 1218.2,1104.1 1219.0,1104.1 1219.2,1103.9 1220.2,1103.0 1221.2,1103.9 1222.2,1102.5 1223.0,1103.2 1223.2,1102.5 1224.2,1102.1 1225.2,1101.7 1226.2,1100.8 1226.9,1100.7 1227.2,1100.8 1228.2,1099.8 1229.2,1099.1 1230.2,1098.3 1230.9,1098.3 1231.2,1098.5 1232.2,1096.5 1233.2,1096.6 1234.2,1095.5 1234.8,1093.9 1235.2,1094.1 1236.2,1092.6 1237.2,1092.5 1237.8,1090.5 1238.2,1091.0 1239.2,1090.2 1240.2,1090.9 1241.2,1089.8 1241.8,1089.4 1242.2,1089.5 1243.2,1090.5 1244.2,1089.1 1245.2,1089.9 1245.8,1089.8 1246.2,1089.2 1247.2,1089.9 1248.2,1089.2 1248.7,1089.1 1249.2,1088.1 1250.2,1088.1 1250.9,1087.2 1251.2,1095.2"/>
<polyline stroke="#0072bd" points="1610.9,1272.1 1611.9,1274.8 1612.9,1276.5 1613.9,1278.6 1614.9,1280.3 1614.9,1280.9 1615.9,1280.6 1616.9,1281.8 1617.9,1281.0 1618.9,1282.2 1619.8,1281.2 1619.9,1281.7 1620.9,1282.2 1621.9,1283.0 1622.9,1283.2 1623.9,1282.8 1624.8,1283.5 1624.9,1283.8 1625.9,1283.1 1626.9,1284.2 1627.9,1284.4 1628.9,1284.8 1629.8,1284.0 1629.9,1284.7 1630.9,1284.5 1631.9,1285.3 1632.9,1285.1 1633.9,1284.2 1634.7,1285.6 1634.9,1285.5 1635.9,1285.1 1636.9,1286.5 1637.9,1285.8 1638.9,1287.3 1639.7,1287.1 1639.9,1286.4 1640.9,1287.8 1641.9,1287.5 1642.9,1287.4 1643.9,1287.9 1644.6,1288.0 1644.9,1288.6 1645.9,1288.8 1646.9,1290.1 1647.9,1289.8 1648.9,1289.8 1649.6,1289.9 1649.9,1291.0 1650.9,1290.5 1651.9,1292.0 1652.9,1292.0 1653.9,1292.1 1654.5,1292.3 1654.9,1292.0 1655.9,1293.1 1656.9,1292.6 1657.9,1292.6 1658.9,1293.5 1659.5,1294.1 1659.9,1294.3 1660.9,1293.6 1661.9,1293.5 1662.9,1294.0 1663.9,1293.7 1664.5,1294.5 1664.9,1294.0 1665.9,1294.3 1666.9,1295.2 1667.9,1295.5 1668.9,1295.3 1669.4,1294.9 1669.9,1295.8 1670.9,1295.4 1671.9,1295.4 1672.9,1295.2 1673.9,1295.9 1674.4,1295.2 1674.9,1295.0 1675.9,1295.2 1676.9,1295.1 1677.9,1294.9 1678.9,1294.8 1679.3,1295.6 1679.9,1294.9 1680.9,1295.6 1681.9,1295.2 1682.9,1295.3 1683.9,1294.9 1684.3,1294.0 1684.9,1294.9 1685.9,1293.6 1686.9,1293.9 1687.9,1294.3 1688.9,1293.6 1689.2,1294.1 1689.9,1293.4 1690.9,1293.6 1691.9,1292.8 1692.9,1292.6 1693.9,1292.8 1694.2,1292.5 1694.9,1292.2 1695.9,1292.7 1696.9,1291.9 1697.9,1292.5 1698.9,1291.7 1699.2,1291.5 1699.9,1292.2 1700.9,1291.6 1701.9,1291.3 1702.9,1291.5 1703.9,1291.3 1704.1,1290.6 1704.9,1290.9 1705.9,1291.0 1706.9,1291.4 1707.9,1291.2 1708.9,1291.2 1709.1,1291.1 1709.9,1291.8 1710.9,1291.3 1711.9,1291.2 1712.9,1291.3 1713.9,1292.3 1714.0,1291.6 1714.9,1291.8 1715.9,1291.8 1716.9,1291.9 1717.9,1293.4 1718.9,1292.3 1719.0,1292.7 1719.9,1293.0 1720.9,1293.3 1721.9,1294.5 1722.9,1293.6 1723.9,1295.2 1724.0,1294.6 1724.9,1294.8 1725.9,1295.1 1726.9,1295.8 1727.9,1295.0 1728.9,1295.7 1728.9,1295.3 1729.9,1296.2 1730.9,1295.7 1731.9,1296.8 1732.9,1296.5 1733.9,1297.3 1733.9,1297.2 1734.9,1297.0 1735.9,1296.3 1736.9,1297.0 1737.9,1297.6 1738.8,1297.5 1738.9,1297.6 1739.9,1297.2 1740.9,1297.3 1741.9,1298.0 1742.9,1298.5 1743.8,1297.7 1743.9,1298.8 1744.9,1298.3 1745.9,1298.5 1746.9,1299.0 1747.9,1299.2 1748.7,1298.8 1748.9,1299.5 1749.9,1299.9 1750.9,1299.3 1751.9,1300.4 1752.9,1300.4 1753.7,1300.5 1753.9,1300.2 1754.9,1300.3 1755.9,1299.7 1756.9,1300.4 1757.9,1301.2 1758.7,1301.3 1758.9,1300.1 1759.9,1301.5 1760.9,1300.6 1761.9,1301.1 1762.9,1300.9 1763.6,1301.1 1763.9,1301.7 1764.9,1302.1 1765.9,1301.5 1766.9,1302.2 1767.9,1301.9 1768.6,1301.5 1768.9,1301.4 1769.9,1302.5 1770.9,1302.1 1771.9,1302.9 1772.9,1302.0 1773.5,1301.8 1773.9,1302.9 1774.9,1302.8 1775.9,1303.2 1776.9,1302.3 1777.9,1303.2 1778.5,1302.3 1778.9,1303.2 1779.9,1302.9 1780.0,1302.4 1780.9,1302.1 1781.9,1302.5 1782.9,1302.5 1783.9,1302.1 1784.9,1302.5 1785.0,1301.5 1785.9,1301.4 1786.9,1300.7 1787.9,1300.5 1788.9,1301.1 1789.9,1300.8 1789.9,1300.7 1790.9,1299.8 1791.9,1299.6 1792.9,1298.7 1793.9,1298.1 1794.9,1298.7 1794.9,1297.9 1795.9,1298.3 1796.9,1298.1 1797.9,1296.5 1798.9,1296.5 1799.8,1295.8 1799.9,1295.9 1800.9,1296.5 1801.9,1295.7 1802.9,1295.3 1803.9,1294.5 1804.8,1294.5 1804.9,1294.3 1805.9,1293.4 1806.9,1292.9 1807.9,1292.4 1808.9,1292.0 1809.8,1291.8 1809.9,1292.0 1810.9,1291.0 1811.9,1290.9 1812.9,1291.2 1813.9,1290.7 1814.7,1289.8 1814.9,1290.2 1815.9,1290.0 1816.9,1290.0 1817.9,1288.6 1818.9,1288.2 1819.7,1288.5 1819.9,1288.7 1820.9,1287.0 1821.9,1286.9 1822.9,1286.9 1823.9,1286.0 1824.6,1285.2 1824.9,1286.3 1825.9,1285.5 1826.9,1284.4 1827.9,1283.8 1828.9,1283.6 1829.6,1283.8 1829.9,1283.9 1830.9,1284.2 1831.9,1282.8 1832.9,1283.5 1833.9,1283.8 1834.5,1282.8 1834.9,1282.9 1835.9,1283.8 1836.9,1283.3 1837.9,1283.7 1838.9,1282.6 1839.5,1283.5 1839.9,1283.7 1840.9,1283.5 1841.9,1283.3 1842.5,1284.8 1842.9,1284.5 1843.9,1284.3 1844.9,1283.7 1845.9,1283.5 1846.9,1282.4 1847.4,1282.1 1847.9,1283.3 1848.9,1282.9 1849.9,1282.8 1850.9,1282.8 1851.4,1282.1 1851.9,1283.1 1852.9,1283.6 1853.9,1283.9 1854.9,1283.5 1855.9,1283.6 1856.3,1284.3 1856.9,1283.6 1857.9,1284.5 1858.9,1284.5 1859.9,1283.5 1860.9,1283.7 1861.3,1284.1 1861.9,1283.7 1862.9,1284.1 1863.9,1284.8 1864.9,1284.5 1865.3,1285.2 1865.9,1283.9 1866.9,1284.7 1867.9,1284.8 1868.9,1284.1 1869.2,1283.8 1869.9,1284.6 1870.9,1284.2 1871.9,1283.1 1872.9,1283.0 1873.9,1284.0 1874.2,1282.7 1874.9,1283.8 1875.9,1283.6 1876.9,1284.4 1877.9,1283.5 1878.2,1284.6 1878.9,1283.8 1879.9,1283.6 1880.9,1282.9 1881.9,1282.4 1882.1,1282.5 1882.9,1281.6 1883.9,1281.7 1884.9,1281.2 1885.9,1280.8 1886.1,1281.3 1886.9,1281.4 1887.9,1280.8 1888.9,1281.6 1889.9,1281.7 1890.1,1282.1 1890.9,1281.4 1891.9,1281.1 1892.9,1281.2 1893.9,1280.9 1894.0,1280.3 1894.9,1280.6 1895.9,1280.5 1896.0,1280.3 1896.9,1280.6 1897.9,1280.5 1898.9,1280.8 1899.0,1280.8 1899.9,1281.2 1900.9,1280.4 1901.9,1280.7 1902.9,1279.4 1903.9,1280.2 1904.0,1278.8 1904.9,1279.1 1905.9,1279.3 1906.9,1279.8 1907.9,1279.9 1908.9,1280.2 1908.9,1280.3 1909.9,1280.5 1910.9,1280.2 1911.9,1281.8 1912.9,1281.3 1912.9,1282.3 1913.9,1281.8 1914.9,1281.0 1915.9,1281.4 1916.8,1282.0 1916.9,1281.5 1917.9,1281.7 1918.9,1282.7 1919.9,1282.9 1920.9,1282.2 1921.8,1282.5 1921.9,1283.3 1922.9,1283.0 1923.9,1283.8 1924.9,1283.0 1925.8,1283.4 1925.9,1283.7 1926.9,1284.9 1927.9,1285.8 1928.9,1285.3 1929.7,1285.5 1929.9,1286.5 1930.9,1285.6 1931.9,1285.5 1932.9,1284.8 1933.7,1284.1 1933.9,1284.5 1934.9,1284.4 1935.9,1285.3 1936.9,1284.8 1937.9,1284.8 1938.7,1286.1 1938.9,1286.1 1939.9,1284.6 1940.9,1285.2 1941.9,1284.5 1942.9,1283.8 1943.6,1284.6 1943.9,1283.4 1944.9,1283.3 1945.9,1283.1 1946.9,1282.9 1947.9,1282.6 1948.6,1283.3 1948.9,1283.0 1949.9,1282.7 1950.9,1281.8 1951.9,1282.5 1952.5,1281.2 1952.9,1281.6 1953.9,1280.6 1954.9,1280.0 1955.9,1280.5 1956.5,1279.5 1956.9,1279.6 1957.9,1278.9 1958.9,1277.8 1959.5,1277.6 1959.9,1276.7 1960.9,1274.3 1961.0,1274.4"/>
<polyline stroke="#d95319" points="276.0,862.5 277.0,871.4 277.0,871.0 278.0,877.3 278.2,878.4 279.0,882.3 279.4,885.2 280.0,888.5 280.5,891.1 281.0,895.0 281.5,898.7 282.0,901.5 282.6,905.8 283.0,908.3 283.6,911.9 284.0,914.1 284.6,918.3 285.0,921.4 285.7,925.9 286.0,927.6 286.7,932.3 287.0,934.0 287.8,938.8 288.0,940.8 288.6,945.4 289.0,948.9 289.8,954.9 290.0,957.0 290.7,964.1 291.0,965.3 292.0,972.2 292.2,974.4 293.0,977.7 294.0,982.9 294.2,983.6 295.0,986.5 296.0,991.0 296.7,992.8 297.0,993.7 298.0,997.4 299.0,1000.6 299.7,1002.5 300.0,1003.5 301.0,1006.2 302.0,1009.3 303.0,1012.5 303.1,1012.9 304.0,1014.5 305.0,1016.5 306.0,1019.5 306.6,1020.2 307.0,1021.0 308.0,1022.7 309.0,1023.8 310.0,1024.8 311.0,1026.7 311.6,1027.3 312.0,1028.0 313.0,1028.4 314.0,1029.1 315.0,1030.5 316.0,1030.6 316.5,1030.9 317.0,1031.9 318.0,1032.5 319.0,1032.0 320.0,1032.4 321.0,1034.1 321.5,1034.4 322.0,1034.1 323.0,1034.7 324.0,1036.1 325.0,1037.2 326.0,1037.0 326.4,1037.7 327.0,1038.5 328.0,1038.9 329.0,1040.1 330.0,1040.7 331.0,1042.2 331.4,1042.3 332.0,1042.7 333.0,1044.3 334.0,1045.2 335.0,1046.3 336.0,1047.5 336.4,1048.4 337.0,1048.7 338.0,1050.1 339.0,1050.5 339.3,1050.6 340.0,1050.7 341.0,1051.1 342.0,1052.0 343.0,1051.5 344.0,1052.2 344.3,1052.7 345.0,1052.8 346.0,1052.3 347.0,1052.8 348.0,1052.6 349.0,1052.0 349.2,1051.8 350.0,1051.9 351.0,1052.7 352.0,1052.1 353.0,1052.7 354.0,1052.8 354.2,1052.7 355.0,1052.2 356.0,1051.8 357.0,1052.3 358.0,1052.4 359.0,1053.2 359.2,1053.3 360.0,1053.9 361.0,1054.0 362.0,1054.7 363.0,1054.7 364.0,1054.8 364.1,1055.4 365.0,1054.8 366.0,1055.8 367.0,1056.0 368.0,1056.5 369.0,1055.7 369.1,1055.9 370.0,1057.1 371.0,1056.1 372.0,1056.8 373.0,1057.2 374.0,1057.2 374.0,1057.7 375.0,1058.1 376.0,1057.5 377.0,1057.5 378.0,1058.9 379.0,1058.5 379.0,1058.2 380.0,1058.5 381.0,1058.7 382.0,1059.8 383.0,1059.8 383.9,1060.6 384.0,1061.1 385.0,1061.3 386.0,1062.7 387.0,1062.3 388.0,1064.0 388.9,1064.7 389.0,1065.1 390.0,1064.5 391.0,1065.9 392.0,1066.7 392.9,1067.4 393.0,1067.3 394.0,1067.4 395.0,1068.6 396.0,1069.0 396.8,1069.0 397.0,1069.4 398.0,1068.7 399.0,1067.8 400.0,1068.6 400.8,1067.6 401.0,1068.5 402.0,1067.8 403.0,1066.7 404.0,1066.1 404.8,1065.5 405.0,1065.6 406.0,1066.0 407.0,1064.3 408.0,1064.6 408.7,1063.1 409.0,1063.3 410.0,1063.0 411.0,1062.5 412.0,1062.9 413.0,1061.5 413.7,1061.5 414.0,1061.1 415.0,1060.8 416.0,1061.5 417.0,1060.8 418.0,1060.9 418.6,1061.0 419.0,1060.2 420.0,1060.4 421.0,1061.5 422.0,1062.1 423.0,1060.9 423.6,1061.6 424.0,1062.5 425.0,1062.6 426.0,1063.1 427.0,1062.8 428.0,1063.8 428.6,1062.7 429.0,1063.3 430.0,1063.9 431.0,1063.3 432.0,1063.5 433.0,1063.6 433.5,1063.5 434.0,1064.1 435.0,1064.1 436.0,1062.8 437.0,1062.7 438.0,1063.2 438.5,1063.0 439.0,1062.8 440.0,1062.2 441.0,1062.0 442.0,1061.3 443.0,1060.5 443.4,1059.8 444.0,1059.3 445.0,1060.1 446.0,1059.8 447.0,1059.5 448.0,1058.3 448.4,1058.9 449.0,1059.1 450.0,1058.1 451.0,1057.8 452.0,1058.0 453.0,1058.0 453.4,1058.7 454.0,1059.0 455.0,1059.0 456.0,1059.0 457.0,1059.5 458.0,1059.6 459.0,1059.0 460.0,1059.8 460.0,1059.5 461.0,1059.3 462.0,1060.4 463.0,1060.3 464.0,1061.2 464.8,1062.2 465.0,1061.2 466.0,1062.5 467.0,1062.8 468.0,1063.2 469.0,1063.4 470.0,1064.5 471.0,1064.8 472.0,1065.0 472.7,1065.8 473.0,1066.3 474.0,1065.8 475.0,1067.1 476.0,1066.4 477.0,1067.3 478.0,1067.4 479.0,1068.4 479.7,1068.7 480.0,1068.6 481.0,1068.5 482.0,1069.0 483.0,1070.1 484.0,1070.2 485.0,1070.8 486.0,1071.4 486.6,1070.9 487.0,1071.3 488.0,1072.4 489.0,1071.9 490.0,1072.9 491.0,1072.3 492.0,1072.4 493.0,1073.4 493.5,1073.3 494.0,1073.8 495.0,1074.3 496.0,1073.5 497.0,1074.3 498.0,1074.3 499.0,1075.3 499.5,1075.3 500.0,1075.4 501.0,1075.3 502.0,1074.8 503.0,1075.3 504.0,1075.3 505.0,1075.1 506.0,1075.1 507.0,1075.7 507.4,1076.1 508.0,1075.1 509.0,1075.0 510.0,1074.5 511.0,1074.6 512.0,1074.4 513.0,1073.8 513.4,1074.5 514.0,1073.8 515.0,1073.9 516.0,1072.5 517.0,1072.7 518.0,1072.5 519.0,1070.8 519.3,1070.9 520.0,1071.5 521.0,1070.2 522.0,1069.7 523.0,1069.0 524.0,1069.5 525.0,1068.3 525.3,1068.9 526.0,1068.4 527.0,1067.7 528.0,1068.8 529.0,1068.5 530.0,1068.2 531.0,1067.8 531.2,1068.0 532.0,1068.5 533.0,1067.8 534.0,1068.1 535.0,1069.2 536.0,1069.0 537.0,1070.1 537.2,1069.9 538.0,1069.6 539.0,1069.2 540.0,1070.0 541.0,1070.1 542.0,1070.2 543.0,1070.6 543.1,1070.2 544.0,1070.9 545.0,1070.5 546.0,1070.0 547.0,1070.9 548.0,1070.1 549.0,1071.2 549.1,1071.2 550.0,1070.0 551.0,1069.8 552.0,1070.3 553.0,1069.8 554.0,1069.4 555.0,1069.8 555.0,1069.2 556.0,1068.8 557.0,1069.2 558.0,1069.6 559.0,1069.6 560.0,1068.3 561.0,1069.1 561.0,1068.5 562.0,1069.6 563.0,1069.0 564.0,1068.8 565.0,1069.3 566.0,1069.8 566.9,1069.6 567.0,1070.4 568.0,1070.1 569.0,1071.0 570.0,1070.6 571.0,1071.2 572.0,1071.8 572.9,1071.4 573.0,1071.5 574.0,1072.5 575.0,1072.1 576.0,1072.3 577.0,1072.9 578.0,1073.2 578.8,1073.6 579.0,1073.2 580.0,1073.7 581.0,1073.8 582.0,1073.9 583.0,1073.9 584.0,1073.7 584.8,1073.7 585.0,1073.3 586.0,1072.8 587.0,1073.9 588.0,1073.2 589.0,1073.1 590.0,1073.3 590.7,1073.7 591.0,1073.8 592.0,1073.1 593.0,1074.3 594.0,1074.7 595.0,1075.0 596.0,1075.2 596.7,1074.9 597.0,1075.4 598.0,1075.2 599.0,1075.9 600.0,1076.3 601.0,1075.7 602.0,1075.6 602.6,1076.6 603.0,1076.8 604.0,1076.6 605.0,1075.8 606.0,1075.7 607.0,1075.0 608.0,1075.9 608.6,1075.0 609.0,1074.6 610.0,1074.0 611.0,1074.7 612.0,1073.5 613.0,1073.5 614.0,1072.0 614.5,1072.3 615.0,1072.6 616.0,1072.4 617.0,1071.4 618.0,1071.5 619.0,1071.8 619.5,1071.8 620.0,1071.0 621.0,1072.2 622.0,1073.1 623.0,1073.2 624.0,1073.9 624.4,1073.5 625.0,1074.1 626.0,1074.0 627.0,1075.8 628.0,1076.1 628.4,1075.8 629.0,1077.0 630.0,1076.2 631.0,1076.1 632.0,1077.3 633.0,1076.6 633.4,1077.5 634.0,1076.3 635.0,1075.4 636.0,1075.6 637.0,1074.7 637.3,1074.5 638.0,1073.8 639.0,1072.8 640.0,1070.9 640.0,1071.2 641.0,1070.1 641.5,1069.8 642.0,1068.9 643.0,1067.3 644.0,1066.5 644.5,1065.8 645.0,1064.3 646.0,1062.9 647.0,1061.3 647.4,1061.9 648.0,1060.7 649.0,1060.7 650.0,1060.2 651.0,1059.8 651.4,1060.0 652.0,1059.9 653.0,1059.7 654.0,1060.6 655.0,1060.7 655.4,1061.2 656.0,1061.8 657.0,1061.8 658.0,1061.9 659.0,1062.3 659.3,1062.6 660.0,1061.1 661.0,1061.1 662.0,1060.4 663.0,1058.9 663.3,1060.1 664.0,1058.4 665.0,1057.4 666.0,1055.5 666.3,1055.3 667.0,1053.8 668.0,1053.4 668.8,1050.8 669.0,1050.4 670.0,1048.9 670.4,1047.6"/>
<polyline stroke="#d95319" points="772.4,1099.7 772.5,1109.7 772.9,1102.7 773.2,1105.7 774.2,1108.7 774.9,1110.5 775.2,1110.6 776.2,1112.5 777.2,1114.1 777.9,1114.1 778.2,1115.0 779.2,1114.8 780.2,1116.4 781.2,1116.8 781.8,1117.8 782.2,1118.2 783.2,1119.2 784.2,1119.4 785.2,1120.5 785.8,1120.2 786.2,1120.0 787.2,1120.8 788.2,1121.4 789.2,1121.7 789.8,1120.9 790.2,1121.3 791.2,1121.5 792.2,1122.1 793.2,1122.8 794.2,1122.2 794.7,1122.0 795.2,1123.4 796.2,1123.5 797.2,1123.6 798.2,1122.8 799.2,1123.4 799.7,1123.4 800.2,1124.5 801.2,1123.7 802.2,1123.9 803.2,1124.3 804.2,1125.3 804.6,1124.6 805.2,1126.0 806.2,1125.6 807.2,1126.6 808.2,1126.5 809.2,1127.2 809.6,1128.2 810.2,1128.5 811.2,1127.8 812.2,1128.3 813.2,1128.2 814.2,1128.8 814.5,1129.1 815.2,1129.5 816.2,1129.9 817.2,1129.9 818.2,1129.9 819.2,1130.7 819.5,1130.5 820.2,1130.6 821.2,1131.5 822.2,1131.0 823.2,1130.3 824.2,1131.7 824.5,1131.7 825.2,1130.7 826.2,1131.4 827.2,1130.0 828.2,1130.9 829.2,1129.7 829.4,1130.6 830.2,1130.1 831.2,1130.2 832.2,1129.0 833.2,1129.2 834.2,1129.4 834.4,1128.2 835.2,1128.1 836.2,1128.4 837.2,1127.7 838.2,1127.4 839.2,1127.1 839.3,1127.6 840.2,1128.0 841.2,1127.8 842.2,1128.0 843.2,1127.2 844.2,1127.3 844.3,1128.0 845.2,1127.8 846.2,1128.0 847.2,1128.5 848.2,1129.7 849.2,1130.5 849.2,1129.9 850.2,1129.8 851.2,1130.7 852.2,1132.0 853.2,1132.8 854.2,1132.6 855.2,1133.4 856.2,1133.3 857.2,1134.6 858.2,1135.4 859.2,1135.5 859.2,1136.0 860.2,1135.6 861.2,1136.7 862.2,1136.9 863.2,1137.5 864.1,1137.2 864.2,1137.7 865.2,1138.0 866.2,1137.6 867.2,1138.1 868.1,1137.5 868.2,1138.0 869.2,1138.5 870.2,1137.8 871.2,1137.4 872.0,1137.7 872.2,1137.4 873.2,1136.5 874.2,1135.7 875.2,1135.8 876.0,1134.9 876.2,1134.6 877.2,1133.7 878.2,1132.7 879.2,1132.0 880.0,1132.0 880.2,1131.8 881.2,1131.5 882.2,1130.5 883.2,1129.8 884.0,1129.5 884.2,1129.0 885.2,1129.6 886.2,1128.7 887.2,1127.8 887.9,1127.8 888.2,1128.3 889.2,1128.3 890.2,1127.8 891.2,1127.9 891.9,1127.7 892.2,1127.1 893.2,1127.3 894.2,1127.5 895.2,1127.0 895.9,1127.8 896.2,1127.9 897.2,1128.6 898.2,1128.3 899.2,1129.6 899.8,1129.5 900.2,1129.5 901.2,1129.3 902.2,1130.6 903.2,1130.6 903.8,1130.7 904.2,1130.2 905.2,1130.2 906.2,1130.3 907.2,1131.3 908.2,1130.7 908.7,1131.1 909.2,1131.1 910.2,1131.1 911.2,1130.3 912.2,1130.1 913.2,1131.1 913.7,1129.9 914.2,1131.0 915.2,1130.0 916.2,1129.3 917.2,1129.5 918.2,1130.0 918.6,1129.4 919.2,1128.9 920.2,1128.8 921.2,1128.6 922.2,1129.3 923.2,1128.9 923.6,1129.3 924.2,1128.6 925.2,1129.0 926.2,1129.5 927.2,1129.2 928.2,1129.9 928.6,1129.3 929.2,1130.1 930.2,1130.2 931.2,1130.1 932.2,1130.7 933.2,1130.4 933.5,1131.3 934.2,1131.1 935.2,1130.6 936.2,1131.5 937.2,1131.3 938.2,1131.8 938.5,1131.6 939.2,1132.0 940.0,1131.7 940.2,1131.4 941.2,1131.8 942.2,1132.0 943.2,1131.3 944.2,1131.5 945.0,1131.2 945.2,1130.8 946.2,1130.5 947.2,1131.0 948.2,1130.2 949.2,1130.5 949.9,1130.8 950.2,1130.3 951.2,1130.3 952.2,1130.9 953.2,1130.3 954.2,1130.2 954.9,1129.6 955.2,1130.4 956.2,1129.9 957.2,1130.4 958.2,1130.7 959.2,1130.6 959.8,1129.7 960.2,1130.7 961.2,1130.2 962.2,1129.5 963.2,1129.2 964.2,1129.4 964.8,1129.8 965.2,1129.6 966.2,1128.9 967.2,1130.1 968.2,1128.8 969.2,1129.8 969.8,1129.3 970.2,1129.6 971.2,1129.3 972.2,1128.8 973.2,1128.1 974.2,1128.0 974.7,1127.5 975.2,1127.4 976.2,1126.8 977.2,1127.0 978.2,1127.4 979.2,1126.9 979.7,1125.8 980.2,1126.1 981.2,1126.1 982.2,1126.0 983.2,1125.8 984.2,1126.1 984.6,1125.1 985.2,1125.5 986.2,1125.0 987.2,1123.6 988.2,1123.3 989.2,1122.8 989.6,1123.3 990.2,1123.5 991.2,1123.4 992.2,1123.2 993.2,1122.6 993.5,1122.7 994.2,1122.6 995.2,1121.9 996.2,1122.0 996.5,1121.4 997.2,1121.9 998.2,1122.2 999.2,1123.3 1000.2,1122.5 1000.5,1123.0 1001.2,1122.6 1002.2,1123.0 1003.2,1124.0 1004.2,1124.4 1004.5,1124.4 1005.2,1125.2 1006.2,1124.7 1007.2,1125.1 1008.2,1125.7 1009.2,1124.9 1009.4,1125.8 1010.2,1125.2 1011.2,1126.7 1012.2,1126.9 1013.2,1127.4 1014.2,1127.9 1014.4,1126.8 1015.2,1127.2 1016.2,1127.9 1017.2,1127.8 1018.2,1129.3 1019.2,1128.5 1019.3,1128.7 1020.2,1129.6 1021.2,1129.0 1022.2,1130.3 1023.2,1129.8 1024.2,1130.3 1024.3,1130.8 1025.2,1129.8 1026.2,1130.2 1027.2,1130.5 1028.2,1131.1 1029.2,1130.7 1029.2,1130.9 1030.2,1130.5 1031.2,1131.0 1032.2,1130.7 1033.2,1131.0 1034.2,1130.0 1035.2,1130.6 1036.2,1131.0 1037.2,1129.8 1038.2,1129.6 1039.2,1130.2 1039.2,1129.3 1040.2,1129.5 1041.2,1129.1 1042.2,1128.5 1043.2,1128.4 1044.1,1128.8 1044.2,1128.5 1045.2,1127.8 1046.2,1128.1 1047.2,1128.5 1048.2,1127.1 1049.1,1127.8 1049.2,1126.9 1050.2,1126.9 1051.2,1126.5 1052.2,1127.0 1053.2,1126.9 1054.0,1126.8 1054.2,1126.6 1055.2,1126.3 1056.2,1125.5 1057.2,1125.3 1058.2,1124.8 1059.0,1125.8 1059.2,1124.3 1060.2,1124.4 1061.2,1122.7 1062.0,1122.7 1062.2,1121.9 1063.2,1122.0 1064.2,1121.2 1064.4,1121.1 1065.2,1120.5 1066.2,1122.0 1066.9,1121.5 1067.2,1122.6 1068.2,1123.1 1069.2,1123.6 1069.9,1124.7 1070.2,1124.5 1071.2,1124.9 1072.2,1125.2 1073.2,1124.6 1073.9,1125.2 1074.2,1125.2 1075.2,1125.8 1076.2,1125.9 1077.2,1125.0 1078.2,1125.1 1078.8,1125.3 1079.2,1124.9 1080.2,1125.4 1081.2,1124.9 1082.2,1123.6 1083.2,1124.1 1083.8,1123.9 1084.2,1123.7 1085.2,1122.7 1086.2,1121.8 1087.2,1122.3 1088.2,1121.2 1088.7,1121.8 1089.2,1120.6 1090.2,1120.6 1091.2,1119.2 1092.2,1119.2 1093.2,1118.0 1093.7,1117.4 1094.2,1118.2 1095.2,1117.5 1096.2,1116.8 1097.2,1115.8 1098.2,1115.3 1098.7,1115.2 1099.2,1114.1 1100.0,1113.7 1100.2,1112.8 1101.2,1112.4 1102.2,1112.1 1103.2,1111.9 1104.0,1111.6 1104.2,1111.7 1105.2,1111.1 1106.2,1110.6 1107.2,1110.8 1107.9,1110.1 1108.2,1110.0 1109.2,1109.5 1110.2,1110.1 1111.2,1109.0 1111.9,1110.0 1112.2,1109.8 1113.2,1110.3 1114.2,1110.1 1115.2,1109.7 1115.9,1109.9 1116.2,1109.4 1117.2,1109.1 1118.2,1109.9 1119.2,1109.0 1119.8,1109.3 1120.2,1108.1 1121.2,1107.8 1122.2,1108.4 1123.2,1107.7 1123.8,1107.6 1124.2,1107.1 1125.2,1105.7 1126.2,1105.5 1127.2,1104.8 1127.8,1104.4 1128.2,1104.6 1129.2,1102.8 1130.2,1102.2 1131.2,1101.2 1131.7,1099.8 1132.2,1100.6 1133.2,1098.8 1134.2,1098.6 1135.2,1097.5 1135.7,1096.2 1136.2,1096.2 1137.2,1095.6 1138.2,1094.9 1139.2,1093.6 1139.7,1093.1 1140.2,1093.0 1141.2,1093.0 1142.2,1093.6 1143.2,1092.5 1143.6,1092.8 1144.2,1093.3 1145.2,1092.2 1146.2,1092.5 1147.2,1093.4 1147.6,1092.6 1148.2,1093.3 1149.2,1093.7 1150.2,1094.3 1151.2,1093.5 1151.6,1093.9 1152.2,1095.2 1153.2,1095.2 1154.2,1095.8 1155.2,1097.4 1155.5,1096.9 1156.2,1098.1 1157.2,1099.1 1158.2,1099.8 1159.2,1100.5 1159.5,1100.2 1160.2,1101.1 1161.2,1101.8 1162.2,1102.0 1163.2,1103.4 1163.5,1103.7 1164.2,1104.0 1165.2,1103.7 1166.2,1104.3 1167.2,1104.9 1167.4,1104.4 1168.2,1104.3 1169.2,1104.2 1170.2,1103.9 1171.2,1105.1 1171.4,1105.3 1172.2,1104.4 1173.2,1104.4 1174.2,1104.2 1175.2,1102.7 1175.4,1103.1 1176.2,1103.0 1177.2,1102.6 1178.2,1101.5 1179.2,1101.5 1179.3,1101.3 1180.2,1100.8 1181.2,1101.6 1182.2,1101.5 1183.2,1101.6 1183.3,1101.2 1184.2,1101.4 1185.2,1101.3 1186.2,1100.7 1187.2,1100.9 1187.3,1100.7 1188.2,1101.3 1189.2,1101.8 1190.2,1101.6 1191.2,1101.0 1191.2,1101.1 1192.2,1102.0 1193.2,1101.9 1194.2,1102.0 1195.2,1101.6 1195.2,1101.5 1196.2,1102.2 1197.2,1101.6 1198.2,1102.0 1199.2,1102.4 1199.2,1101.5 1200.2,1102.3 1201.2,1101.3 1202.2,1102.0 1203.1,1101.7 1203.2,1101.6 1204.2,1101.7 1205.2,1101.5 1206.2,1101.2 1207.1,1100.1 1207.2,1101.0 1208.2,1100.1 1209.2,1100.2 1210.2,1101.2 1211.1,1100.6 1211.2,1101.1 1212.2,1100.2 1213.2,1099.8 1214.2,1099.5 1215.0,1100.5 1215.2,1100.4 1216.2,1100.1 1217.2,1099.0 1218.2,1098.9 1219.0,1098.0 1219.2,1097.7 1220.2,1097.5 1221.2,1097.6 1222.2,1097.2 1223.0,1096.3 1223.2,1096.8 1224.2,1096.2 1225.2,1095.3 1226.2,1094.9 1226.9,1095.0 1227.2,1095.7 1228.2,1094.6 1229.2,1093.3 1230.2,1093.0 1230.9,1093.0 1231.2,1092.0 1232.2,1090.4 1233.2,1090.4 1234.2,1089.1 1234.8,1088.6 1235.2,1088.2 1236.2,1087.3 1237.2,1085.9 1237.8,1084.5 1238.2,1084.1 1239.2,1084.0 1240.2,1084.0 1241.2,1083.5 1241.8,1083.5 1242.2,1083.2 1243.2,1083.6 1244.2,1082.9 1245.2,1083.0 1245.8,1082.4 1246.2,1083.0 1247.2,1083.2 1248.2,1082.8 1248.7,1082.0 1249.2,1082.4 1250.2,1081.7 1250.9,1080.6 1251.2,1088.6"/>
<polyline stroke="#d95319" points="1610.9,1291.9 1611.9,1293.4 1612.9,1295.6 1613.9,1297.7 1614.9,1299.3 1614.9,1299.1 1615.9,1299.8 1616.9,1300.2 1617.9,1300.8 1618.9,1300.5 1619.8,1301.5 1619.9,1300.4 1620.9,1301.5 1621.9,1300.9 1622.9,1301.5 1623.9,1301.7 1624.8,1303.2 1624.9,1302.8 1625.9,1302.9 1626.9,1303.5 1627.9,1303.9 1628.9,1303.3 1629.8,1304.2 1629.9,1303.4 1630.9,1304.1 1631.9,1304.4 1632.9,1303.9 1633.9,1304.4 1634.7,1304.6 1634.9,1303.8 1635.9,1305.2 1636.9,1304.8 1637.9,1305.4 1638.9,1305.8 1639.7,1306.1 1639.9,1307.2 1640.9,1306.8 1641.9,1307.7 1642.9,1307.0 1643.9,1307.5 1644.6,1307.4 1644.9,1308.2 1645.9,1309.3 1646.9,1309.1 1647.9,1309.8 1648.9,1309.5 1649.6,1309.6 1649.9,1309.9 1650.9,1311.3 1651.9,1311.3 1652.9,1311.9 1653.9,1312.0 1654.5,1311.5 1654.9,1311.5 1655.9,1312.4 1656.9,1312.0 1657.9,1312.8 1658.9,1313.2 1659.5,1312.9 1659.9,1314.0 1660.9,1312.9 1661.9,1314.3 1662.9,1313.2 1663.9,1314.7 1664.5,1314.0 1664.9,1313.7 1665.9,1314.6 1666.9,1314.9 1667.9,1314.6 1668.9,1314.9 1669.4,1315.3 1669.9,1314.8 1670.9,1314.9 1671.9,1315.5 1672.9,1315.2 1673.9,1315.8 1674.4,1315.3 1674.9,1315.7 1675.9,1315.5 1676.9,1315.0 1677.9,1315.2 1678.9,1315.5 1679.3,1315.3 1679.9,1315.6 1680.9,1315.4 1681.9,1315.3 1682.9,1314.5 1683.9,1315.3 1684.3,1315.3 1684.9,1314.4 1685.9,1314.9 1686.9,1314.1 1687.9,1313.6 1688.9,1313.1 1689.2,1313.9 1689.9,1313.8 1690.9,1313.6 1691.9,1313.1 1692.9,1312.5 1693.9,1312.2 1694.2,1313.0 1694.9,1312.9 1695.9,1313.2 1696.9,1312.8 1697.9,1312.3 1698.9,1312.7 1699.2,1311.3 1699.9,1312.5 1700.9,1311.9 1701.9,1311.8 1702.9,1311.9 1703.9,1311.5 1704.1,1311.6 1704.9,1312.2 1705.9,1312.0 1706.9,1312.3 1707.9,1311.8 1708.9,1311.3 1709.1,1311.8 1709.9,1312.3 1710.9,1311.8 1711.9,1312.3 1712.9,1312.5 1713.9,1312.2 1714.0,1311.8 1714.9,1313.0 1715.9,1312.7 1716.9,1313.9 1717.9,1312.8 1718.9,1314.0 1719.0,1313.8 1719.9,1314.6 1720.9,1314.8 1721.9,1315.2 1722.9,1315.3 1723.9,1315.6 1724.0,1315.7 1724.9,1315.9 1725.9,1315.8 1726.9,1315.9 1727.9,1315.9 1728.9,1316.5 1728.9,1316.7 1729.9,1317.4 1730.9,1316.7 1731.9,1317.8 1732.9,1317.8 1733.9,1317.4 1733.9,1317.8 1734.9,1318.5 1735.9,1318.5 1736.9,1318.5 1737.9,1318.1 1738.8,1318.4 1738.9,1318.4 1739.9,1318.4 1740.9,1318.9 1741.9,1319.6 1742.9,1319.7 1743.8,1319.2 1743.9,1319.7 1744.9,1319.8 1745.9,1319.3 1746.9,1319.7 1747.9,1320.0 1748.7,1319.9 1748.9,1320.8 1749.9,1320.9 1750.9,1320.7 1751.9,1321.7 1752.9,1321.1 1753.7,1321.0 1753.9,1321.3 1754.9,1321.5 1755.9,1321.3 1756.9,1321.6 1757.9,1322.3 1758.7,1322.2 1758.9,1321.5 1759.9,1322.5 1760.9,1322.6 1761.9,1322.1 1762.9,1322.6 1763.6,1323.3 1763.9,1323.5 1764.9,1323.6 1765.9,1323.1 1766.9,1323.9 1767.9,1323.6 1768.6,1323.8 1768.9,1323.3 1769.9,1323.5 1770.9,1323.3 1771.9,1323.4 1772.9,1324.3 1773.5,1323.5 1773.9,1324.3 1774.9,1324.1 1775.9,1324.0 1776.9,1324.3 1777.9,1325.0 1778.5,1324.7 1778.9,1324.5 1779.9,1324.7 1780.0,1324.7 1780.9,1323.8 1781.9,1324.0 1782.9,1324.7 1783.9,1324.5 1784.9,1324.2 1785.0,1324.6 1785.9,1323.9 1786.9,1323.6 1787.9,1323.7 1788.9,1322.4 1789.9,1322.5 1789.9,1323.0 1790.9,1321.8 1791.9,1322.1 1792.9,1320.9 1793.9,1320.5 1794.9,1320.5 1794.9,1321.0 1795.9,1320.8 1796.9,1319.9 1797.9,1319.9 1798.9,1319.1 1799.8,1318.7 1799.9,1318.5 1800.9,1318.4 1801.9,1318.8 1802.9,1318.0 1803.9,1317.3 1804.8,1317.2 1804.9,1317.2 1805.9,1316.9 1806.9,1316.1 1807.9,1315.7 1808.9,1314.9 1809.8,1315.1 1809.9,1315.3 1810.9,1314.6 1811.9,1313.6 1812.9,1313.7 1813.9,1313.8 1814.7,1313.0 1814.9,1313.9 1815.9,1312.5 1816.9,1313.2 1817.9,1312.6 1818.9,1312.0 1819.7,1311.7 1819.9,1312.0 1820.9,1311.0 1821.9,1311.1 1822.9,1310.7 1823.9,1309.0 1824.6,1309.8 1824.9,1309.2 1825.9,1309.2 1826.9,1307.8 1827.9,1308.3 1828.9,1307.5 1829.6,1307.5 1829.9,1307.0 1830.9,1306.6 1831.9,1307.2 1832.9,1307.7 1833.9,1306.9 1834.5,1306.8 1834.9,1307.3 1835.9,1307.0 1836.9,1306.3 1837.9,1306.8 1838.9,1306.5 1839.5,1307.4 1839.9,1307.4 1840.9,1307.8 1841.9,1308.0 1842.5,1308.0 1842.9,1308.1 1843.9,1308.3 1844.9,1307.4 1845.9,1307.6 1846.9,1306.7 1847.4,1306.7 1847.9,1307.6 1848.9,1306.6 1849.9,1306.6 1850.9,1306.9 1851.4,1307.3 1851.9,1307.7 1852.9,1307.1 1853.9,1308.5 1854.9,1308.2 1855.9,1308.1 1856.3,1308.1 1856.9,1308.2 1857.9,1308.3 1858.9,1308.2 1859.9,1308.5 1860.9,1308.7 1861.3,1308.8 1861.9,1309.0 1862.9,1309.0 1863.9,1309.2 1864.9,1309.8 1865.3,1310.0 1865.9,1309.2 1866.9,1309.3 1867.9,1308.6 1868.9,1309.4 1869.2,1309.7 1869.9,1309.7 1870.9,1308.9 1871.9,1308.9 1872.9,1309.1 1873.9,1308.2 1874.2,1309.1 1874.9,1308.5 1875.9,1309.3 1876.9,1309.0 1877.9,1309.4 1878.2,1309.9 1878.9,1308.5 1879.9,1309.1 1880.9,1308.1 1881.9,1308.3 1882.1,1307.9 1882.9,1307.8 1883.9,1306.8 1884.9,1307.2 1885.9,1306.9 1886.1,1306.0 1886.9,1306.8 1887.9,1307.6 1888.9,1307.2 1889.9,1307.3 1890.1,1307.1 1890.9,1307.5 1891.9,1307.9 1892.9,1307.8 1893.9,1306.8 1894.0,1307.2 1894.9,1306.0 1895.9,1306.1 1896.0,1306.8 1896.9,1307.2 1897.9,1307.2 1898.9,1307.0 1899.0,1307.2 1899.9,1306.7 1900.9,1306.2 1901.9,1306.7 1902.9,1306.7 1903.9,1306.1 1904.0,1305.6 1904.9,1306.8 1905.9,1306.9 1906.9,1306.4 1907.9,1306.0 1908.9,1306.6 1908.9,1306.8 1909.9,1306.7 1910.9,1308.2 1911.9,1307.6 1912.9,1309.4 1912.9,1309.0 1913.9,1308.2 1914.9,1309.3 1915.9,1308.6 1916.8,1308.4 1916.9,1309.4 1917.9,1308.5 1918.9,1309.5 1919.9,1309.6 1920.9,1310.0 1921.8,1310.4 1921.9,1310.2 1922.9,1310.5 1923.9,1311.5 1924.9,1310.9 1925.8,1312.1 1925.9,1311.6 1926.9,1312.9 1927.9,1313.5 1928.9,1313.2 1929.7,1314.5 1929.9,1313.6 1930.9,1314.1 1931.9,1313.6 1932.9,1313.3 1933.7,1312.0 1933.9,1312.3 1934.9,1313.5 1935.9,1312.8 1936.9,1313.6 1937.9,1313.3 1938.7,1313.5 1938.9,1314.7 1939.9,1313.8 1940.9,1313.4 1941.9,1313.5 1942.9,1312.4 1943.6,1312.3 1943.9,1312.8 1944.9,1313.0 1945.9,1312.3 1946.9,1312.8 1947.9,1311.4 1948.6,1312.0 1948.9,1311.8 1949.9,1311.4 1950.9,1311.4 1951.9,1310.6 1952.5,1311.1 1952.9,1309.7 1953.9,1309.2 1954.9,1309.1 1955.9,1309.2 1956.5,1309.2 1956.9,1308.1 1957.9,1307.8 1958.9,1306.3 1959.5,1305.6 1959.9,1305.4 1960.9,1303.4 1961.0,1303.2"/>
<polyline stroke="#edb120" points="276.0,852.7 277.0,860.2 277.0,861.0 278.0,866.6 278.2,867.1 279.0,871.2 279.4,874.6 280.0,877.4 280.5,881.1 281.0,885.1 281.5,888.7 282.0,890.7 282.6,894.5 283.0,897.4 283.6,902.5 284.0,903.8 284.6,908.6 285.0,910.5 285.7,915.3 286.0,917.7 286.7,922.3 287.0,924.2 287.8,929.9 288.0,931.6 288.6,936.4 289.0,939.8 289.8,945.6 290.0,948.0 290.7,955.0 291.0,956.6 292.0,963.5 292.2,965.8 293.0,969.0 294.0,973.7 294.2,974.6 295.0,977.6 296.0,981.5 296.7,985.5 297.0,986.2 298.0,989.5 299.0,992.3 299.7,994.9 300.0,995.1 301.0,998.2 302.0,1000.6 303.0,1003.9 303.1,1004.1 304.0,1005.8 305.0,1009.2 306.0,1010.3 306.6,1012.8 307.0,1013.1 308.0,1013.7 309.0,1015.6 310.0,1017.7 311.0,1019.1 311.6,1019.4 312.0,1020.0 313.0,1020.7 314.0,1020.9 315.0,1022.0 316.0,1022.9 316.5,1023.0 317.0,1023.9 318.0,1024.0 319.0,1025.0 320.0,1024.6 321.0,1025.7 321.5,1025.5 322.0,1026.7 323.0,1027.8 324.0,1028.1 325.0,1029.0 326.0,1029.8 326.4,1029.7 327.0,1030.4 328.0,1031.7 329.0,1032.8 330.0,1033.4 331.0,1034.5 331.4,1034.7 332.0,1035.7 333.0,1037.1 334.0,1037.8 335.0,1039.5 336.0,1040.9 336.4,1040.9 337.0,1042.0 338.0,1041.9 339.0,1043.6 339.3,1042.9 340.0,1043.3 341.0,1044.2 342.0,1043.4 343.0,1044.5 344.0,1045.2 344.3,1045.4 345.0,1045.0 346.0,1044.6 347.0,1044.6 348.0,1045.0 349.0,1044.3 349.2,1044.2 350.0,1045.4 351.0,1045.0 352.0,1044.3 353.0,1044.6 354.0,1044.4 354.2,1045.2 355.0,1044.5 356.0,1045.3 357.0,1045.5 358.0,1045.1 359.0,1045.2 359.2,1045.7 360.0,1045.8 361.0,1046.5 362.0,1046.5 363.0,1047.5 364.0,1047.4 364.1,1047.0 365.0,1048.2 366.0,1048.7 367.0,1048.6 368.0,1048.7 369.0,1049.5 369.1,1049.6 370.0,1048.5 371.0,1049.3 372.0,1048.9 373.0,1049.5 374.0,1049.6 374.0,1049.9 375.0,1050.5 376.0,1051.0 377.0,1050.5 378.0,1050.4 379.0,1052.1 379.0,1051.8 380.0,1051.8 381.0,1051.6 382.0,1051.9 383.0,1053.5 383.9,1053.4 384.0,1053.8 385.0,1054.5 386.0,1055.3 387.0,1056.1 388.0,1056.1 388.9,1056.9 389.0,1057.2 390.0,1058.4 391.0,1059.2 392.0,1059.8 392.9,1060.3 393.0,1060.2 394.0,1060.1 395.0,1061.2 396.0,1061.5 396.8,1061.6 397.0,1061.9 398.0,1062.1 399.0,1061.9 400.0,1060.6 400.8,1060.8 401.0,1061.1 402.0,1060.7 403.0,1059.7 404.0,1060.1 404.8,1059.0 405.0,1059.3 406.0,1057.7 407.0,1057.3 408.0,1056.3 408.7,1056.9 409.0,1056.5 410.0,1056.7 411.0,1055.8 412.0,1055.0 413.0,1054.6 413.7,1054.3 414.0,1054.0 415.0,1053.7 416.0,1054.3 417.0,1053.7 418.0,1053.8 418.6,1054.0 419.0,1053.5 420.0,1053.9 421.0,1053.9 422.0,1054.1 423.0,1054.8 423.6,1054.1 424.0,1054.6 425.0,1054.6 426.0,1055.7 427.0,1055.5 428.0,1056.8 428.6,1056.3 429.0,1056.6 430.0,1056.5 431.0,1057.0 432.0,1056.9 433.0,1056.9 433.5,1056.1 434.0,1056.2 435.0,1056.8 436.0,1056.1 437.0,1056.7 438.0,1056.0 438.5,1056.2 439.0,1055.8 440.0,1055.6 441.0,1054.7 442.0,1054.5 443.0,1053.3 443.4,1052.8 444.0,1052.5 445.0,1052.3 446.0,1052.9 447.0,1052.3 448.0,1051.1 448.4,1051.0 449.0,1051.6 450.0,1051.7 451.0,1051.4 452.0,1050.9 453.0,1051.2 453.4,1052.1 454.0,1052.0 455.0,1052.2 456.0,1051.6 457.0,1052.3 458.0,1051.7 459.0,1052.0 460.0,1053.0 460.0,1052.0 461.0,1052.7 462.0,1053.1 463.0,1054.6 464.0,1054.9 464.8,1055.3 465.0,1055.7 466.0,1055.7 467.0,1056.9 468.0,1057.2 469.0,1057.1 470.0,1057.6 471.0,1058.5 472.0,1059.0 472.7,1059.9 473.0,1059.8 474.0,1060.2 475.0,1060.3 476.0,1060.2 477.0,1061.2 478.0,1061.9 479.0,1061.8 479.7,1062.1 480.0,1061.6 481.0,1061.9 482.0,1062.8 483.0,1063.5 484.0,1064.2 485.0,1064.3 486.0,1064.9 486.6,1064.6 487.0,1064.6 488.0,1065.1 489.0,1065.7 490.0,1065.9 491.0,1066.1 492.0,1066.7 493.0,1067.0 493.5,1067.9 494.0,1068.2 495.0,1068.5 496.0,1068.4 497.0,1067.6 498.0,1068.1 499.0,1069.4 499.5,1069.1 500.0,1069.4 501.0,1068.6 502.0,1068.8 503.0,1068.7 504.0,1069.4 505.0,1069.2 506.0,1069.5 507.0,1069.1 507.4,1069.0 508.0,1069.4 509.0,1070.0 510.0,1069.4 511.0,1069.1 512.0,1068.2 513.0,1068.6 513.4,1068.4 514.0,1068.5 515.0,1067.6 516.0,1067.7 517.0,1066.4 518.0,1066.5 519.0,1065.0 519.3,1065.0 520.0,1065.6 521.0,1065.3 522.0,1064.1 523.0,1063.5 524.0,1064.1 525.0,1063.2 525.3,1062.3 526.0,1063.5 527.0,1062.8 528.0,1062.3 529.0,1062.5 530.0,1062.2 531.0,1062.4 531.2,1062.2 532.0,1062.4 533.0,1063.2 534.0,1062.9 535.0,1064.0 536.0,1064.2 537.0,1064.8 537.2,1063.8 538.0,1064.9 539.0,1064.8 540.0,1064.2 541.0,1065.4 542.0,1065.0 543.0,1064.7 543.1,1064.8 544.0,1065.9 545.0,1065.7 546.0,1065.0 547.0,1066.0 548.0,1064.9 549.0,1065.9 549.1,1065.8 550.0,1066.0 551.0,1065.9 552.0,1065.5 553.0,1065.4 554.0,1064.7 555.0,1065.2 555.0,1064.5 556.0,1064.8 557.0,1064.8 558.0,1064.2 559.0,1064.7 560.0,1064.4 561.0,1063.6 561.0,1064.2 562.0,1064.3 563.0,1064.7 564.0,1064.1 565.0,1065.3 566.0,1065.1 566.9,1065.8 567.0,1065.1 568.0,1065.2 569.0,1066.1 570.0,1066.7 571.0,1067.2 572.0,1067.2 572.9,1068.0 573.0,1067.0 574.0,1067.2 575.0,1067.8 576.0,1068.4 577.0,1068.8 578.0,1068.0 578.8,1069.0 579.0,1068.7 580.0,1069.0 581.0,1068.5 582.0,1068.6 583.0,1069.3 584.0,1069.0 584.8,1070.0 585.0,1069.3 586.0,1069.1 587.0,1068.8 588.0,1069.3 589.0,1069.3 590.0,1068.9 590.7,1069.9 591.0,1069.3 592.0,1069.8 593.0,1069.9 594.0,1070.3 595.0,1069.4 596.0,1070.8 596.7,1070.4 597.0,1069.8 598.0,1070.6 599.0,1070.0 600.0,1070.7 601.0,1070.4 602.0,1070.5 602.6,1071.2 603.0,1071.6 604.0,1071.3 605.0,1071.3 606.0,1070.8 607.0,1070.3 608.0,1070.0 608.6,1070.4 609.0,1069.0 610.0,1069.0 611.0,1068.4 612.0,1067.1 613.0,1067.7 614.0,1066.9 614.5,1066.0 615.0,1066.6 616.0,1065.8 617.0,1065.9 618.0,1065.3 619.0,1065.5 619.5,1064.8 620.0,1064.5 621.0,1065.9 622.0,1065.7 623.0,1066.6 624.0,1067.6 624.4,1067.6 625.0,1067.0 626.0,1068.7 627.0,1069.5 628.0,1069.4 628.4,1069.4 629.0,1069.8 630.0,1070.1 631.0,1069.6 632.0,1071.0 633.0,1070.9 633.4,1070.6 634.0,1070.7 635.0,1069.1 636.0,1069.3 637.0,1068.5 637.3,1067.7 638.0,1066.5 639.0,1065.9 640.0,1064.3 640.0,1064.9 641.0,1063.0 641.5,1062.8 642.0,1062.0 643.0,1060.6 644.0,1059.6 644.5,1058.9 645.0,1058.7 646.0,1056.8 647.0,1055.6 647.4,1055.2 648.0,1054.1 649.0,1054.2 650.0,1053.2 651.0,1053.1 651.4,1052.9 652.0,1053.8 653.0,1054.3 654.0,1053.9 655.0,1055.2 655.4,1054.7 656.0,1054.6 657.0,1055.2 658.0,1054.9 659.0,1056.0 659.3,1055.9 660.0,1054.3 661.0,1055.0 662.0,1054.3 663.0,1052.6 663.3,1053.1 664.0,1052.1 665.0,1050.2 666.0,1049.6 666.3,1048.2 667.0,1047.6 668.0,1046.2 668.8,1045.4 669.0,1044.3 670.0,1041.8 670.4,1041.0"/>
<polyline stroke="#edb120" points="772.4,1101.5 772.5,1111.5 772.9,1104.5 773.2,1107.5 774.2,1111.6 774.9,1113.2 775.2,1113.1 776.2,1115.1 777.2,1116.0 777.9,1117.0 778.2,1117.1 779.2,1118.1 780.2,1119.0 781.2,1119.3 781.8,1119.5 782.2,1120.9 783.2,1120.4 784.2,1121.6 785.2,1122.9 785.8,1122.3 786.2,1122.3 787.2,1122.7 788.2,1122.7 789.2,1123.8 789.8,1123.2 790.2,1123.0 791.2,1124.0 792.2,1123.7 793.2,1123.8 794.2,1123.8 794.7,1125.0 795.2,1124.5 796.2,1125.0 797.2,1125.0 798.2,1125.7 799.2,1124.8 799.7,1125.7 800.2,1126.1 801.2,1125.5 802.2,1125.9 803.2,1126.0 804.2,1126.2 804.6,1127.1 805.2,1126.4 806.2,1127.6 807.2,1127.2 808.2,1128.7 809.2,1128.2 809.6,1129.4 810.2,1128.6 811.2,1129.1 812.2,1129.4 813.2,1129.8 814.2,1130.8 814.5,1130.5 815.2,1130.0 816.2,1130.5 817.2,1131.1 818.2,1131.7 819.2,1131.9 819.5,1131.7 820.2,1132.2 821.2,1132.5 822.2,1132.5 823.2,1132.6 824.2,1132.5 824.5,1132.6 825.2,1132.1 826.2,1131.9 827.2,1131.5 828.2,1131.1 829.2,1131.5 829.4,1130.8 830.2,1131.3 831.2,1130.3 832.2,1129.5 833.2,1130.3 834.2,1129.5 834.4,1128.8 835.2,1129.8 836.2,1129.5 837.2,1129.4 838.2,1128.7 839.2,1128.0 839.3,1128.1 840.2,1128.5 841.2,1128.7 842.2,1128.6 843.2,1128.1 844.2,1128.0 844.3,1129.2 845.2,1129.6 846.2,1129.9 847.2,1129.7 848.2,1129.5 849.2,1130.1 849.2,1130.5 850.2,1131.6 851.2,1131.9 852.2,1131.7 853.2,1133.4 854.2,1133.7 855.2,1133.8 856.2,1134.8 857.2,1134.8 858.2,1135.5 859.2,1135.3 859.2,1135.3 860.2,1137.0 861.2,1136.7 862.2,1137.7 863.2,1137.5 864.1,1138.0 864.2,1137.6 865.2,1138.8 866.2,1137.9 867.2,1138.7 868.1,1138.0 868.2,1138.1 869.2,1137.5 870.2,1138.2 871.2,1138.2 872.0,1137.6 872.2,1137.5 873.2,1136.3 874.2,1136.7 875.2,1134.9 876.0,1134.6 876.2,1134.9 877.2,1134.2 878.2,1133.0 879.2,1132.7 880.0,1131.4 880.2,1131.2 881.2,1131.1 882.2,1130.7 883.2,1130.5 884.0,1129.4 884.2,1130.0 885.2,1129.3 886.2,1129.2 887.2,1128.4 887.9,1127.7 888.2,1128.0 889.2,1127.9 890.2,1127.1 891.2,1126.8 891.9,1127.0 892.2,1127.3 893.2,1126.7 894.2,1127.2 895.2,1127.0 895.9,1128.1 896.2,1127.6 897.2,1128.1 898.2,1127.9 899.2,1128.7 899.8,1129.6 900.2,1129.6 901.2,1130.0 902.2,1129.3 903.2,1130.6 903.8,1130.7 904.2,1130.1 905.2,1130.1 906.2,1131.0 907.2,1130.1 908.2,1130.1 908.7,1130.7 909.2,1130.4 910.2,1130.2 911.2,1130.1 912.2,1130.4 913.2,1130.3 913.7,1129.9 914.2,1130.5 915.2,1129.4 916.2,1129.2 917.2,1129.1 918.2,1128.4 918.6,1129.0 919.2,1128.9 920.2,1128.5 921.2,1128.7 922.2,1128.6 923.2,1128.7 923.6,1128.6 924.2,1128.3 925.2,1128.5 926.2,1129.3 927.2,1128.2 928.2,1129.5 928.6,1128.5 929.2,1128.7 930.2,1129.2 931.2,1130.2 932.2,1129.3 933.2,1129.3 933.5,1130.3 934.2,1130.1 935.2,1129.6 936.2,1130.8 937.2,1130.5 938.2,1130.7 938.5,1129.9 939.2,1130.8 940.0,1130.1 940.2,1130.4 941.2,1130.7 942.2,1131.2 943.2,1131.0 944.2,1129.8 945.0,1130.8 945.2,1130.7 946.2,1129.4 947.2,1129.2 948.2,1129.3 949.2,1130.3 949.9,1129.1 950.2,1129.5 951.2,1129.6 952.2,1129.1 953.2,1128.9 954.2,1129.2 954.9,1129.4 955.2,1128.6 956.2,1128.3 957.2,1128.9 958.2,1129.6 959.2,1129.5 959.8,1128.4 960.2,1129.3 961.2,1129.4 962.2,1129.2 963.2,1128.0 964.2,1127.9 964.8,1128.4 965.2,1129.1 966.2,1128.9 967.2,1128.0 968.2,1128.8 969.2,1128.5 969.8,1127.9 970.2,1127.4 971.2,1127.0 972.2,1127.0 973.2,1126.4 974.2,1126.7 974.7,1126.7 975.2,1127.0 976.2,1125.5 977.2,1125.2 978.2,1125.6 979.2,1124.7 979.7,1124.5 980.2,1125.0 981.2,1125.0 982.2,1124.9 983.2,1124.1 984.2,1123.6 984.6,1123.3 985.2,1124.2 986.2,1123.6 987.2,1122.2 988.2,1122.3 989.2,1121.1 989.6,1121.5 990.2,1121.9 991.2,1121.9 992.2,1121.2 993.2,1121.4 993.5,1120.8 994.2,1121.4 995.2,1120.2 996.2,1119.7 996.5,1120.2 997.2,1121.1 998.2,1120.9 999.2,1121.2 1000.2,1121.6 1000.5,1121.5 1001.2,1121.8 1002.2,1121.6 1003.2,1121.9 1004.2,1123.0 1004.5,1122.2 1005.2,1122.7 1006.2,1122.5 1007.2,1123.3 1008.2,1123.2 1009.2,1124.0 1009.4,1123.3 1010.2,1123.4 1011.2,1123.6 1012.2,1124.0 1013.2,1124.7 1014.2,1125.9 1014.4,1126.2 1015.2,1125.2 1016.2,1126.7 1017.2,1125.8 1018.2,1127.1 1019.2,1126.8 1019.3,1126.5 1020.2,1127.0 1021.2,1128.1 1022.2,1128.0 1023.2,1128.1 1024.2,1128.5 1024.3,1128.7 1025.2,1128.3 1026.2,1128.9 1027.2,1129.0 1028.2,1128.9 1029.2,1128.8 1029.2,1129.3 1030.2,1128.1 1031.2,1128.3 1032.2,1128.9 1033.2,1128.7 1034.2,1128.3 1035.2,1127.8 1036.2,1128.3 1037.2,1127.3 1038.2,1128.1 1039.2,1127.7 1039.2,1126.9 1040.2,1126.9 1041.2,1127.4 1042.2,1126.5 1043.2,1126.6 1044.1,1126.2 1044.2,1125.7 1045.2,1126.0 1046.2,1125.7 1047.2,1125.8 1048.2,1125.7 1049.1,1124.8 1049.2,1124.6 1050.2,1124.9 1051.2,1124.1 1052.2,1124.8 1053.2,1124.2 1054.0,1123.5 1054.2,1124.1 1055.2,1123.2 1056.2,1123.4 1057.2,1122.8 1058.2,1122.9 1059.0,1123.0 1059.2,1123.0 1060.2,1121.3 1061.2,1120.0 1062.0,1119.6 1062.2,1119.8 1063.2,1119.4 1064.2,1118.5 1064.4,1118.5 1065.2,1118.4 1066.2,1118.5 1066.9,1119.8 1067.2,1119.6 1068.2,1120.1 1069.2,1121.1 1069.9,1121.8 1070.2,1121.6 1071.2,1122.0 1072.2,1122.5 1073.2,1122.2 1073.9,1122.3 1074.2,1122.5 1075.2,1122.4 1076.2,1122.0 1077.2,1122.7 1078.2,1121.9 1078.8,1123.1 1079.2,1122.8 1080.2,1121.4 1081.2,1121.8 1082.2,1121.1 1083.2,1120.9 1083.8,1120.5 1084.2,1120.8 1085.2,1119.9 1086.2,1120.0 1087.2,1119.7 1088.2,1118.2 1088.7,1118.0 1089.2,1117.7 1090.2,1117.0 1091.2,1117.2 1092.2,1116.2 1093.2,1114.9 1093.7,1115.1 1094.2,1114.8 1095.2,1114.6 1096.2,1114.0 1097.2,1112.7 1098.2,1112.2 1098.7,1111.5 1099.2,1111.9 1100.0,1110.2 1100.2,1110.3 1101.2,1109.2 1102.2,1109.2 1103.2,1108.9 1104.0,1108.9 1104.2,1107.9 1105.2,1108.2 1106.2,1107.7 1107.2,1106.5 1107.9,1106.7 1108.2,1106.8 1109.2,1107.4 1110.2,1107.2 1111.2,1107.0 1111.9,1106.5 1112.2,1106.9 1113.2,1107.1 1114.2,1106.5 1115.2,1106.8 1115.9,1105.8 1116.2,1105.8 1117.2,1106.0 1118.2,1106.3 1119.2,1105.3 1119.8,1106.4 1120.2,1106.0 1121.2,1104.5 1122.2,1104.0 1123.2,1103.6 1123.8,1104.5 1124.2,1103.9 1125.2,1102.5 1126.2,1101.9 1127.2,1100.9 1127.8,1100.7 1128.2,1100.8 1129.2,1099.9 1130.2,1098.2 1131.2,1098.1 1131.7,1097.6 1132.2,1096.0 1133.2,1095.6 1134.2,1094.3 1135.2,1094.0 1135.7,1092.8 1136.2,1093.0 1137.2,1091.9 1138.2,1091.5 1139.2,1090.8 1139.7,1090.3 1140.2,1090.6 1141.2,1089.7 1142.2,1089.5 1143.2,1089.6 1143.6,1088.9 1144.2,1088.4 1145.2,1088.5 1146.2,1089.0 1147.2,1088.4 1147.6,1089.3 1148.2,1089.1 1149.2,1088.7 1150.2,1090.2 1151.2,1090.6 1151.6,1089.5 1152.2,1091.1 1153.2,1091.6 1154.2,1092.5 1155.2,1093.1 1155.5,1093.4 1156.2,1094.0 1157.2,1094.6 1158.2,1094.8 1159.2,1096.2 1159.5,1095.6 1160.2,1097.0 1161.2,1096.5 1162.2,1097.1 1163.2,1097.8 1163.5,1098.1 1164.2,1098.6 1165.2,1099.1 1166.2,1098.6 1167.2,1099.4 1167.4,1099.6 1168.2,1100.1 1169.2,1099.5 1170.2,1099.9 1171.2,1099.2 1171.4,1099.0 1172.2,1098.8 1173.2,1098.3 1174.2,1099.1 1175.2,1098.6 1175.4,1098.0 1176.2,1096.9 1177.2,1097.8 1178.2,1097.1 1179.2,1096.5 1179.3,1096.0 1180.2,1096.3 1181.2,1095.0 1182.2,1095.4 1183.2,1094.9 1183.3,1095.2 1184.2,1094.8 1185.2,1095.9 1186.2,1095.7 1187.2,1095.7 1187.3,1095.7 1188.2,1094.6 1189.2,1095.0 1190.2,1096.0 1191.2,1095.7 1191.2,1096.2 1192.2,1094.9 1193.2,1094.8 1194.2,1095.7 1195.2,1095.0 1195.2,1096.1 1196.2,1096.1 1197.2,1095.3 1198.2,1096.2 1199.2,1095.2 1199.2,1095.9 1200.2,1094.9 1201.2,1094.9 1202.2,1095.1 1203.1,1095.2 1203.2,1094.0 1204.2,1093.7 1205.2,1093.3 1206.2,1093.7 1207.1,1093.2 1207.2,1093.4 1208.2,1094.0 1209.2,1093.5 1210.2,1094.2 1211.1,1094.0 1211.2,1093.2 1212.2,1093.7 1213.2,1092.8 1214.2,1092.8 1215.0,1092.1 1215.2,1092.9 1216.2,1092.0 1217.2,1091.6 1218.2,1091.6 1219.0,1090.2 1219.2,1090.0 1220.2,1090.0 1221.2,1090.4 1222.2,1090.0 1223.0,1088.8 1223.2,1089.3 1224.2,1088.9 1225.2,1087.8 1226.2,1087.3 1226.9,1087.4 1227.2,1086.4 1228.2,1086.3 1229.2,1085.8 1230.2,1085.3 1230.9,1084.3 1231.2,1083.5 1232.2,1083.2 1233.2,1082.2 1234.2,1080.0 1234.8,1079.8 1235.2,1079.0 1236.2,1077.6 1237.2,1076.3 1237.8,1076.7 1238.2,1075.4 1239.2,1075.1 1240.2,1075.0 1241.2,1075.0 1241.8,1074.7 1242.2,1074.1 1243.2,1074.9 1244.2,1074.2 1245.2,1073.6 1245.8,1074.7 1246.2,1073.6 1247.2,1073.9 1248.2,1073.2 1248.7,1073.7 1249.2,1072.7 1250.2,1072.6 1250.9,1072.0 1251.2,1080.0"/>
<polyline stroke="#edb120" points="1610.9,1266.5 1611.9,1270.0 1612.9,1271.0 1613.9,1274.3 1614.9,1276.2 1614.9,1275.3 1615.9,1275.8 1616.9,1275.9 1617.9,1276.1 1618.9,1276.8 1619.8,1277.1 1619.9,1276.3 1620.9,1277.0 1621.9,1277.5 1622.9,1277.7 1623.9,1277.3 1624.8,1277.9 1624.9,1278.1 1625.9,1278.9 1626.9,1279.0 1627.9,1279.0 1628.9,1278.6 1629.8,1279.7 1629.9,1278.7 1630.9,1279.0 1631.9,1278.8 1632.9,1279.5 1633.9,1279.9 1634.7,1279.9 1634.9,1280.1 1635.9,1280.3 1636.9,1280.7 1637.9,1280.5 1638.9,1281.9 1639.7,1282.2 1639.9,1282.0 1640.9,1282.6 1641.9,1282.8 1642.9,1283.1 1643.9,1283.2 1644.6,1283.5 1644.9,1283.4 1645.9,1283.0 1646.9,1284.4 1647.9,1284.2 1648.9,1285.0 1649.6,1285.6 1649.9,1285.1 1650.9,1285.1 1651.9,1285.8 1652.9,1286.6 1653.9,1286.8 1654.5,1287.2 1654.9,1287.2 1655.9,1287.3 1656.9,1287.1 1657.9,1287.0 1658.9,1288.3 1659.5,1287.2 1659.9,1288.5 1660.9,1288.2 1661.9,1287.8 1662.9,1287.8 1663.9,1288.7 1664.5,1287.9 1664.9,1288.5 1665.9,1288.2 1666.9,1288.4 1667.9,1288.7 1668.9,1289.4 1669.4,1288.6 1669.9,1289.8 1670.9,1289.5 1671.9,1289.1 1672.9,1289.7 1673.9,1288.9 1674.4,1289.2 1674.9,1289.5 1675.9,1289.9 1676.9,1289.6 1677.9,1288.7 1678.9,1290.0 1679.3,1288.8 1679.9,1288.8 1680.9,1289.2 1681.9,1288.3 1682.9,1288.6 1683.9,1288.2 1684.3,1288.4 1684.9,1288.1 1685.9,1288.0 1686.9,1287.7 1687.9,1287.6 1688.9,1287.6 1689.2,1287.2 1689.9,1287.2 1690.9,1286.7 1691.9,1286.6 1692.9,1286.0 1693.9,1286.3 1694.2,1286.3 1694.9,1285.7 1695.9,1285.7 1696.9,1285.9 1697.9,1285.6 1698.9,1285.6 1699.2,1285.0 1699.9,1285.7 1700.9,1284.7 1701.9,1285.6 1702.9,1284.7 1703.9,1284.5 1704.1,1284.6 1704.9,1285.5 1705.9,1285.2 1706.9,1285.6 1707.9,1285.7 1708.9,1285.0 1709.1,1285.5 1709.9,1284.5 1710.9,1285.7 1711.9,1285.1 1712.9,1285.3 1713.9,1286.0 1714.0,1285.7 1714.9,1286.0 1715.9,1286.0 1716.9,1286.3 1717.9,1287.3 1718.9,1286.3 1719.0,1286.3 1719.9,1287.5 1720.9,1287.1 1721.9,1287.7 1722.9,1288.0 1723.9,1288.0 1724.0,1288.5 1724.9,1289.6 1725.9,1289.7 1726.9,1288.8 1727.9,1290.4 1728.9,1290.5 1728.9,1290.5 1729.9,1289.7 1730.9,1290.1 1731.9,1290.1 1732.9,1291.1 1733.9,1291.3 1733.9,1290.7 1734.9,1291.8 1735.9,1291.7 1736.9,1291.9 1737.9,1291.7 1738.8,1292.5 1738.9,1292.1 1739.9,1292.6 1740.9,1293.0 1741.9,1292.0 1742.9,1292.2 1743.8,1292.6 1743.9,1293.6 1744.9,1293.0 1745.9,1293.2 1746.9,1293.7 1747.9,1293.9 1748.7,1293.9 1748.9,1294.4 1749.9,1294.1 1750.9,1294.8 1751.9,1294.1 1752.9,1295.1 1753.7,1294.9 1753.9,1295.0 1754.9,1294.6 1755.9,1295.8 1756.9,1294.9 1757.9,1295.9 1758.7,1295.7 1758.9,1295.0 1759.9,1296.5 1760.9,1296.4 1761.9,1295.7 1762.9,1296.0 1763.6,1297.2 1763.9,1296.6 1764.9,1296.9 1765.9,1296.8 1766.9,1296.3 1767.9,1296.6 1768.6,1296.9 1768.9,1296.7 1769.9,1297.2 1770.9,1297.3 1771.9,1297.9 1772.9,1297.0 1773.5,1298.0 1773.9,1297.4 1774.9,1298.0 1775.9,1297.7 1776.9,1297.5 1777.9,1298.5 1778.5,1297.6 1778.9,1298.7 1779.9,1298.0 1780.0,1297.7 1780.9,1298.2 1781.9,1298.2 1782.9,1298.4 1783.9,1297.2 1784.9,1296.9 1785.0,1298.0 1785.9,1296.8 1786.9,1297.0 1787.9,1296.6 1788.9,1296.9 1789.9,1296.1 1789.9,1296.4 1790.9,1295.1 1791.9,1295.6 1792.9,1294.7 1793.9,1294.7 1794.9,1294.2 1794.9,1293.4 1795.9,1293.4 1796.9,1293.3 1797.9,1292.3 1798.9,1292.1 1799.8,1291.7 1799.9,1291.9 1800.9,1292.1 1801.9,1291.8 1802.9,1290.9 1803.9,1290.6 1804.8,1290.6 1804.9,1290.4 1805.9,1289.5 1806.9,1288.3 1807.9,1288.2 1808.9,1287.6 1809.8,1287.7 1809.9,1287.3 1810.9,1286.6 1811.9,1287.1 1812.9,1286.5 1813.9,1286.2 1814.7,1286.6 1814.9,1286.4 1815.9,1285.0 1816.9,1285.2 1817.9,1285.0 1818.9,1283.9 1819.7,1283.8 1819.9,1284.3 1820.9,1284.0 1821.9,1283.2 1822.9,1282.3 1823.9,1282.2 1824.6,1282.1 1824.9,1280.9 1825.9,1280.4 1826.9,1280.7 1827.9,1280.7 1828.9,1280.3 1829.6,1279.0 1829.9,1279.2 1830.9,1279.7 1831.9,1279.1 1832.9,1278.7 1833.9,1279.1 1834.5,1279.2 1834.9,1278.8 1835.9,1279.3 1836.9,1279.0 1837.9,1278.8 1838.9,1278.5 1839.5,1279.4 1839.9,1278.3 1840.9,1279.1 1841.9,1279.7 1842.5,1280.0 1842.9,1279.6 1843.9,1280.2 1844.9,1279.0 1845.9,1279.5 1846.9,1278.8 1847.4,1278.9 1847.9,1279.1 1848.9,1278.4 1849.9,1277.8 1850.9,1278.3 1851.4,1277.7 1851.9,1277.9 1852.9,1278.3 1853.9,1278.7 1854.9,1280.1 1855.9,1280.3 1856.3,1279.7 1856.9,1279.4 1857.9,1279.2 1858.9,1279.6 1859.9,1279.5 1860.9,1280.0 1861.3,1279.2 1861.9,1279.7 1862.9,1280.0 1863.9,1279.8 1864.9,1280.1 1865.3,1280.2 1865.9,1280.3 1866.9,1280.5 1867.9,1280.1 1868.9,1280.6 1869.2,1280.2 1869.9,1279.6 1870.9,1279.6 1871.9,1280.3 1872.9,1278.9 1873.9,1279.3 1874.2,1279.3 1874.9,1279.0 1875.9,1280.1 1876.9,1280.5 1877.9,1279.8 1878.2,1279.9 1878.9,1279.5 1879.9,1279.7 1880.9,1278.3 1881.9,1278.6 1882.1,1278.0 1882.9,1278.5 1883.9,1277.8 1884.9,1277.3 1885.9,1277.0 1886.1,1276.1 1886.9,1277.4 1887.9,1277.6 1888.9,1277.0 1889.9,1277.7 1890.1,1277.6 1890.9,1278.0 1891.9,1277.3 1892.9,1276.9 1893.9,1276.2 1894.0,1276.3 1894.9,1276.3 1895.9,1275.2 1896.0,1275.6 1896.9,1275.8 1897.9,1276.5 1898.9,1276.8 1899.0,1276.0 1899.9,1276.0 1900.9,1276.5 1901.9,1275.1 1902.9,1275.2 1903.9,1274.6 1904.0,1274.8 1904.9,1275.8 1905.9,1275.2 1906.9,1275.8 1907.9,1274.8 1908.9,1275.6 1908.9,1275.5 1909.9,1275.5 1910.9,1276.6 1911.9,1276.2 1912.9,1277.3 1912.9,1277.3 1913.9,1276.5 1914.9,1277.1 1915.9,1276.6 1916.8,1277.4 1916.9,1277.4 1917.9,1276.8 1918.9,1277.9 1919.9,1277.5 1920.9,1277.8 1921.8,1278.2 1921.9,1278.4 1922.9,1278.5 1923.9,1279.3 1924.9,1278.6 1925.8,1279.6 1925.9,1278.6 1926.9,1279.7 1927.9,1279.8 1928.9,1280.5 1929.7,1282.0 1929.9,1280.9 1930.9,1281.4 1931.9,1280.6 1932.9,1279.8 1933.7,1279.6 1933.9,1279.7 1934.9,1279.5 1935.9,1279.8 1936.9,1280.5 1937.9,1280.6 1938.7,1280.1 1938.9,1280.3 1939.9,1280.2 1940.9,1280.4 1941.9,1279.0 1942.9,1279.7 1943.6,1279.4 1943.9,1279.1 1944.9,1278.2 1945.9,1278.3 1946.9,1278.8 1947.9,1278.4 1948.6,1277.6 1948.9,1278.1 1949.9,1277.4 1950.9,1277.6 1951.9,1276.2 1952.5,1276.3 1952.9,1276.0 1953.9,1276.3 1954.9,1276.2 1955.9,1276.0 1956.5,1275.0 1956.9,1274.8 1957.9,1274.3 1958.9,1273.3 1959.5,1272.3 1959.9,1270.8 1960.9,1269.3 1961.0,1269.3"/>
<polyline stroke="#7e2f8e" points="276.0,854.7 277.0,862.8 277.0,862.9 278.0,867.8 278.2,869.2 279.0,874.0 279.4,876.7 280.0,879.1 280.5,882.7 281.0,886.9 281.5,889.4 282.0,893.2 282.6,896.6 283.0,899.7 283.6,904.2 284.0,906.2 284.6,910.4 285.0,912.4 285.7,917.6 286.0,919.5 286.7,924.1 287.0,925.8 287.8,931.2 288.0,932.4 288.6,937.5 289.0,940.9 289.8,946.3 290.0,949.1 290.7,957.1 291.0,958.6 292.0,964.4 292.2,966.4 293.0,970.7 294.0,974.8 294.2,976.9 295.0,978.8 296.0,983.6 296.7,985.3 297.0,987.1 298.0,990.5 299.0,993.4 299.7,995.8 300.0,997.0 301.0,1000.0 302.0,1001.7 303.0,1005.0 303.1,1004.8 304.0,1007.1 305.0,1009.1 306.0,1011.4 306.6,1013.5 307.0,1013.2 308.0,1014.7 309.0,1015.9 310.0,1018.4 311.0,1019.0 311.6,1019.5 312.0,1020.6 313.0,1021.5 314.0,1022.2 315.0,1022.9 316.0,1023.6 316.5,1024.3 317.0,1024.0 318.0,1025.3 319.0,1025.7 320.0,1026.5 321.0,1027.2 321.5,1027.4 322.0,1027.3 323.0,1028.1 324.0,1029.2 325.0,1029.7 326.0,1029.7 326.4,1031.4 327.0,1030.9 328.0,1032.2 329.0,1033.2 330.0,1033.7 331.0,1035.3 331.4,1035.8 332.0,1036.7 333.0,1037.6 334.0,1038.4 335.0,1039.9 336.0,1041.7 336.4,1041.7 337.0,1042.5 338.0,1042.1 339.0,1043.9 339.3,1043.5 340.0,1043.6 341.0,1044.1 342.0,1044.2 343.0,1044.4 344.0,1044.8 344.3,1044.9 345.0,1045.0 346.0,1045.8 347.0,1044.8 348.0,1045.0 349.0,1044.8 349.2,1045.4 350.0,1045.0 351.0,1045.3 352.0,1044.9 353.0,1044.8 354.0,1045.1 354.2,1044.5 355.0,1045.8 356.0,1045.5 357.0,1045.5 358.0,1045.9 359.0,1046.6 359.2,1046.0 360.0,1046.2 361.0,1046.3 362.0,1046.9 363.0,1047.8 364.0,1048.0 364.1,1047.6 365.0,1048.7 366.0,1047.9 367.0,1048.5 368.0,1049.4 369.0,1049.8 369.1,1049.2 370.0,1048.8 371.0,1049.7 372.0,1049.7 373.0,1049.3 374.0,1050.0 374.0,1050.7 375.0,1049.8 376.0,1050.3 377.0,1050.5 378.0,1051.7 379.0,1051.3 379.0,1051.8 380.0,1052.2 381.0,1051.7 382.0,1052.7 383.0,1052.7 383.9,1054.0 384.0,1053.6 385.0,1054.2 386.0,1055.7 387.0,1056.5 388.0,1056.2 388.9,1057.0 389.0,1057.4 390.0,1058.1 391.0,1059.1 392.0,1059.8 392.9,1061.3 393.0,1060.9 394.0,1061.7 395.0,1061.6 396.0,1061.4 396.8,1062.2 397.0,1061.6 398.0,1062.1 399.0,1061.4 400.0,1062.4 400.8,1061.4 401.0,1062.1 402.0,1060.7 403.0,1060.2 404.0,1059.7 404.8,1060.2 405.0,1060.0 406.0,1059.3 407.0,1058.5 408.0,1057.2 408.7,1056.9 409.0,1056.5 410.0,1057.4 411.0,1055.8 412.0,1056.3 413.0,1054.9 413.7,1055.0 414.0,1055.4 415.0,1054.7 416.0,1054.4 417.0,1055.4 418.0,1054.4 418.6,1054.0 419.0,1055.0 420.0,1055.6 421.0,1055.2 422.0,1054.7 423.0,1055.4 423.6,1055.8 424.0,1055.4 425.0,1056.0 426.0,1056.8 427.0,1057.0 428.0,1057.6 428.6,1058.0 429.0,1057.5 430.0,1058.2 431.0,1057.1 432.0,1057.8 433.0,1058.1 433.5,1058.5 434.0,1057.8 435.0,1057.5 436.0,1058.0 437.0,1057.2 438.0,1056.4 438.5,1056.9 439.0,1056.4 440.0,1056.4 441.0,1056.2 442.0,1054.6 443.0,1054.5 443.4,1055.1 444.0,1054.8 445.0,1054.5 446.0,1053.6 447.0,1054.1 448.0,1053.7 448.4,1053.5 449.0,1053.1 450.0,1053.3 451.0,1052.6 452.0,1052.4 453.0,1052.4 453.4,1052.5 454.0,1053.2 455.0,1054.0 456.0,1053.6 457.0,1054.1 458.0,1054.2 459.0,1054.6 460.0,1053.9 460.0,1054.2 461.0,1055.3 462.0,1055.1 463.0,1056.2 464.0,1056.4 464.8,1056.6 465.0,1056.7 466.0,1057.5 467.0,1057.6 468.0,1059.4 469.0,1059.2 470.0,1059.7 471.0,1061.0 472.0,1060.5 472.7,1062.0 473.0,1061.6 474.0,1061.5 475.0,1062.3 476.0,1063.5 477.0,1062.5 478.0,1063.2 479.0,1063.5 479.7,1064.3 480.0,1063.9 481.0,1065.3 482.0,1065.2 483.0,1066.5 484.0,1065.9 485.0,1066.5 486.0,1066.8 486.6,1067.1 487.0,1067.4 488.0,1068.4 489.0,1068.7 490.0,1069.3 491.0,1069.0 492.0,1069.9 493.0,1070.8 493.5,1070.1 494.0,1070.0 495.0,1070.2 496.0,1071.6 497.0,1071.4 498.0,1071.5 499.0,1071.7 499.5,1071.3 500.0,1071.6 501.0,1072.4 502.0,1071.9 503.0,1072.4 504.0,1073.1 505.0,1072.2 506.0,1072.7 507.0,1073.3 507.4,1073.3 508.0,1073.3 509.0,1073.3 510.0,1072.7 511.0,1072.0 512.0,1072.3 513.0,1072.7 513.4,1071.6 514.0,1071.5 515.0,1070.9 516.0,1071.3 517.0,1069.7 518.0,1069.3 519.0,1069.5 519.3,1069.5 520.0,1068.8 521.0,1068.8 522.0,1068.4 523.0,1067.5 524.0,1066.7 525.0,1067.2 525.3,1066.9 526.0,1067.3 527.0,1066.9 528.0,1066.0 529.0,1066.1 530.0,1066.2 531.0,1066.6 531.2,1066.0 532.0,1066.2 533.0,1066.4 534.0,1066.8 535.0,1067.5 536.0,1068.1 537.0,1068.6 537.2,1067.6 538.0,1068.4 539.0,1069.1 540.0,1068.5 541.0,1068.2 542.0,1069.1 543.0,1069.5 543.1,1068.4 544.0,1068.5 545.0,1068.9 546.0,1069.1 547.0,1068.8 548.0,1068.8 549.0,1069.3 549.1,1070.1 550.0,1069.4 551.0,1068.8 552.0,1069.6 553.0,1068.5 554.0,1068.1 555.0,1067.9 555.0,1067.7 556.0,1068.9 557.0,1068.2 558.0,1068.8 559.0,1068.0 560.0,1067.3 561.0,1067.6 561.0,1067.6 562.0,1067.5 563.0,1067.7 564.0,1068.8 565.0,1069.2 566.0,1069.6 566.9,1068.8 567.0,1069.3 568.0,1069.2 569.0,1070.3 570.0,1070.7 571.0,1069.8 572.0,1070.3 572.9,1071.6 573.0,1071.8 574.0,1071.8 575.0,1070.9 576.0,1071.9 577.0,1072.4 578.0,1072.3 578.8,1072.5 579.0,1072.8 580.0,1071.9 581.0,1072.7 582.0,1073.3 583.0,1072.8 584.0,1072.6 584.8,1072.3 585.0,1073.4 586.0,1073.1 587.0,1073.4 588.0,1073.4 589.0,1073.0 590.0,1073.2 590.7,1073.2 591.0,1073.2 592.0,1072.9 593.0,1073.4 594.0,1073.8 595.0,1073.2 596.0,1074.1 596.7,1074.0 597.0,1073.7 598.0,1074.0 599.0,1074.9 600.0,1073.8 601.0,1074.0 602.0,1074.8 602.6,1074.4 603.0,1075.4 604.0,1075.2 605.0,1074.2 606.0,1074.0 607.0,1074.2 608.0,1074.2 608.6,1073.8 609.0,1073.9 610.0,1072.5 611.0,1072.2 612.0,1071.9 613.0,1071.4 614.0,1070.3 614.5,1070.0 615.0,1070.5 616.0,1070.0 617.0,1069.5 618.0,1068.9 619.0,1068.7 619.5,1068.2 620.0,1068.7 621.0,1069.0 622.0,1069.7 623.0,1070.7 624.0,1071.1 624.4,1071.8 625.0,1071.7 626.0,1072.0 627.0,1072.6 628.0,1073.9 628.4,1073.1 629.0,1073.4 630.0,1074.0 631.0,1073.8 632.0,1074.3 633.0,1074.2 633.4,1074.9 634.0,1074.8 635.0,1073.4 636.0,1073.2 637.0,1071.3 637.3,1071.2 638.0,1070.6 639.0,1070.3 640.0,1068.5 640.0,1068.9 641.0,1068.0 641.5,1066.9 642.0,1066.0 643.0,1064.9 644.0,1063.7 644.5,1063.0 645.0,1062.2 646.0,1060.3 647.0,1060.2 647.4,1059.2 648.0,1059.1 649.0,1058.5 650.0,1057.2 651.0,1057.0 651.4,1057.0 652.0,1056.7 653.0,1058.1 654.0,1058.2 655.0,1058.8 655.4,1059.5 656.0,1058.7 657.0,1058.8 658.0,1059.3 659.0,1058.8 659.3,1059.0 660.0,1058.6 661.0,1059.0 662.0,1057.9 663.0,1057.5 663.3,1057.1 664.0,1055.8 665.0,1054.5 666.0,1054.0 666.3,1053.1 667.0,1052.0 668.0,1050.1 668.8,1049.5 669.0,1048.1 670.0,1046.6 670.4,1045.3"/>
<polyline stroke="#7e2f8e" points="772.4,1117.0 772.5,1127.0 772.9,1120.0 773.2,1123.0 774.2,1125.5 774.9,1128.3 775.2,1128.0 776.2,1129.7 777.2,1130.7 777.9,1131.9 778.2,1131.5 779.2,1133.5 780.2,1133.1 781.2,1134.0 781.8,1135.4 782.2,1136.1 783.2,1136.5 784.2,1137.1 785.2,1136.8 785.8,1137.3 786.2,1137.5 787.2,1137.7 788.2,1137.9 789.2,1138.3 789.8,1138.5 790.2,1138.6 791.2,1139.5 792.2,1139.7 793.2,1138.9 794.2,1139.7 794.7,1140.1 795.2,1139.2 796.2,1140.7 797.2,1140.4 798.2,1140.4 799.2,1140.6 799.7,1141.4 800.2,1141.0 801.2,1141.0 802.2,1142.0 803.2,1141.1 804.2,1141.7 804.6,1142.5 805.2,1142.6 806.2,1143.0 807.2,1143.7 808.2,1143.2 809.2,1144.4 809.6,1144.4 810.2,1145.3 811.2,1145.5 812.2,1145.0 813.2,1145.9 814.2,1145.6 814.5,1145.8 815.2,1146.4 816.2,1146.9 817.2,1147.0 818.2,1146.5 819.2,1146.6 819.5,1147.9 820.2,1147.3 821.2,1147.5 822.2,1147.7 823.2,1148.1 824.2,1147.8 824.5,1147.7 825.2,1147.3 826.2,1147.5 827.2,1147.3 828.2,1146.9 829.2,1147.3 829.4,1146.4 830.2,1146.9 831.2,1146.8 832.2,1146.1 833.2,1145.4 834.2,1145.3 834.4,1145.0 835.2,1145.4 836.2,1145.2 837.2,1144.2 838.2,1144.3 839.2,1144.6 839.3,1143.8 840.2,1144.6 841.2,1144.4 842.2,1143.8 843.2,1144.1 844.2,1144.9 844.3,1143.8 845.2,1144.7 846.2,1145.8 847.2,1145.2 848.2,1146.3 849.2,1146.2 849.2,1147.0 850.2,1147.6 851.2,1147.9 852.2,1147.8 853.2,1149.4 854.2,1149.2 855.2,1150.3 856.2,1150.7 857.2,1151.1 858.2,1151.3 859.2,1152.3 859.2,1152.6 860.2,1152.9 861.2,1153.3 862.2,1153.0 863.2,1153.4 864.1,1154.5 864.2,1154.2 865.2,1154.8 866.2,1154.4 867.2,1155.1 868.1,1153.9 868.2,1155.1 869.2,1154.0 870.2,1154.4 871.2,1153.9 872.0,1153.8 872.2,1153.4 873.2,1153.3 874.2,1152.8 875.2,1151.5 876.0,1151.5 876.2,1151.1 877.2,1150.5 878.2,1149.6 879.2,1149.1 880.0,1147.8 880.2,1148.0 881.2,1148.0 882.2,1146.5 883.2,1146.6 884.0,1145.8 884.2,1145.7 885.2,1145.0 886.2,1145.2 887.2,1144.0 887.9,1144.0 888.2,1143.6 889.2,1144.0 890.2,1143.3 891.2,1143.8 891.9,1143.7 892.2,1143.2 893.2,1143.2 894.2,1143.7 895.2,1144.5 895.9,1144.0 896.2,1144.3 897.2,1144.1 898.2,1145.3 899.2,1144.7 899.8,1146.2 900.2,1145.8 901.2,1145.9 902.2,1146.9 903.2,1146.3 903.8,1146.7 904.2,1147.3 905.2,1147.5 906.2,1146.7 907.2,1146.6 908.2,1147.4 908.7,1147.1 909.2,1147.7 910.2,1147.7 911.2,1147.6 912.2,1147.1 913.2,1147.4 913.7,1147.1 914.2,1146.3 915.2,1147.1 916.2,1145.6 917.2,1146.2 918.2,1145.5 918.6,1146.0 919.2,1145.8 920.2,1145.8 921.2,1146.0 922.2,1145.3 923.2,1145.4 923.6,1145.9 924.2,1145.3 925.2,1145.1 926.2,1145.7 927.2,1145.7 928.2,1145.9 928.6,1146.0 929.2,1145.9 930.2,1146.2 931.2,1147.1 932.2,1146.9 933.2,1147.4 933.5,1146.4 934.2,1147.2 935.2,1146.7 936.2,1146.9 937.2,1147.7 938.2,1147.9 938.5,1147.7 939.2,1147.6 940.0,1147.4 940.2,1148.4 941.2,1147.9 942.2,1147.0 943.2,1148.1 944.2,1146.8 945.0,1146.7 945.2,1147.2 946.2,1147.8 947.2,1146.8 948.2,1146.6 949.2,1147.1 949.9,1147.0 950.2,1147.4 951.2,1146.6 952.2,1146.4 953.2,1146.5 954.2,1145.8 954.9,1146.0 955.2,1146.7 956.2,1145.9 957.2,1146.8 958.2,1146.1 959.2,1145.9 959.8,1146.1 960.2,1146.0 961.2,1146.1 962.2,1146.4 963.2,1146.7 964.2,1145.8 964.8,1145.8 965.2,1146.2 966.2,1145.5 967.2,1145.4 968.2,1145.9 969.2,1145.0 969.8,1146.0 970.2,1144.9 971.2,1144.8 972.2,1144.8 973.2,1144.1 974.2,1143.7 974.7,1144.7 975.2,1143.9 976.2,1143.8 977.2,1144.0 978.2,1143.4 979.2,1143.1 979.7,1143.0 980.2,1143.2 981.2,1142.9 982.2,1141.8 983.2,1142.3 984.2,1141.4 984.6,1141.0 985.2,1141.2 986.2,1141.5 987.2,1140.1 988.2,1140.6 989.2,1140.0 989.6,1139.8 990.2,1139.2 991.2,1138.6 992.2,1139.6 993.2,1138.0 993.5,1139.1 994.2,1139.0 995.2,1138.4 996.2,1138.6 996.5,1138.3 997.2,1138.2 998.2,1138.9 999.2,1139.0 1000.2,1139.7 1000.5,1139.3 1001.2,1139.3 1002.2,1140.3 1003.2,1140.3 1004.2,1140.0 1004.5,1140.5 1005.2,1140.8 1006.2,1140.8 1007.2,1141.0 1008.2,1141.6 1009.2,1141.6 1009.4,1141.0 1010.2,1142.4 1011.2,1142.6 1012.2,1142.2 1013.2,1143.5 1014.2,1143.9 1014.4,1143.2 1015.2,1144.0 1016.2,1143.5 1017.2,1144.8 1018.2,1144.8 1019.2,1145.2 1019.3,1145.5 1020.2,1146.0 1021.2,1145.2 1022.2,1145.5 1023.2,1146.6 1024.2,1146.9 1024.3,1146.2 1025.2,1146.5 1026.2,1146.5 1027.2,1146.4 1028.2,1147.3 1029.2,1146.5 1029.2,1146.6 1030.2,1146.8 1031.2,1147.4 1032.2,1147.3 1033.2,1146.8 1034.2,1146.2 1035.2,1147.1 1036.2,1146.2 1037.2,1146.3 1038.2,1145.4 1039.2,1146.1 1039.2,1146.1 1040.2,1145.3 1041.2,1145.1 1042.2,1144.4 1043.2,1145.0 1044.1,1144.6 1044.2,1144.9 1045.2,1144.3 1046.2,1143.6 1047.2,1144.5 1048.2,1144.1 1049.1,1144.0 1049.2,1143.5 1050.2,1143.2 1051.2,1142.7 1052.2,1142.5 1053.2,1143.0 1054.0,1142.9 1054.2,1141.7 1055.2,1142.1 1056.2,1142.2 1057.2,1142.2 1058.2,1141.3 1059.0,1141.4 1059.2,1140.5 1060.2,1140.0 1061.2,1138.4 1062.0,1138.6 1062.2,1137.6 1063.2,1137.6 1064.2,1136.4 1064.4,1137.0 1065.2,1137.2 1066.2,1137.7 1066.9,1137.8 1067.2,1138.6 1068.2,1139.1 1069.2,1140.6 1069.9,1141.0 1070.2,1140.9 1071.2,1140.1 1072.2,1141.1 1073.2,1140.9 1073.9,1141.1 1074.2,1141.1 1075.2,1141.2 1076.2,1141.4 1077.2,1141.7 1078.2,1141.5 1078.8,1140.7 1079.2,1140.8 1080.2,1140.4 1081.2,1140.9 1082.2,1139.7 1083.2,1139.9 1083.8,1138.8 1084.2,1138.5 1085.2,1138.7 1086.2,1138.3 1087.2,1137.5 1088.2,1137.1 1088.7,1137.1 1089.2,1137.1 1090.2,1136.9 1091.2,1135.8 1092.2,1134.4 1093.2,1134.8 1093.7,1133.5 1094.2,1133.7 1095.2,1133.0 1096.2,1132.5 1097.2,1132.0 1098.2,1130.6 1098.7,1131.1 1099.2,1130.1 1100.0,1129.1 1100.2,1128.6 1101.2,1128.4 1102.2,1128.5 1103.2,1127.8 1104.0,1127.4 1104.2,1127.1 1105.2,1126.9 1106.2,1125.7 1107.2,1125.8 1107.9,1125.8 1108.2,1126.0 1109.2,1125.2 1110.2,1125.0 1111.2,1124.7 1111.9,1125.7 1112.2,1124.8 1113.2,1125.2 1114.2,1125.7 1115.2,1124.8 1115.9,1125.0 1116.2,1125.0 1117.2,1125.2 1118.2,1124.8 1119.2,1125.3 1119.8,1124.3 1120.2,1124.9 1121.2,1123.5 1122.2,1123.4 1123.2,1122.8 1123.8,1123.0 1124.2,1121.9 1125.2,1121.8 1126.2,1120.5 1127.2,1120.8 1127.8,1120.6 1128.2,1119.4 1129.2,1119.0 1130.2,1117.9 1131.2,1117.1 1131.7,1115.8 1132.2,1115.3 1133.2,1114.5 1134.2,1112.8 1135.2,1111.8 1135.7,1111.7 1136.2,1111.7 1137.2,1110.7 1138.2,1110.2 1139.2,1109.2 1139.7,1108.5 1140.2,1109.3 1141.2,1108.6 1142.2,1108.8 1143.2,1107.6 1143.6,1107.7 1144.2,1107.6 1145.2,1107.1 1146.2,1107.3 1147.2,1107.5 1147.6,1107.5 1148.2,1107.3 1149.2,1107.6 1150.2,1108.3 1151.2,1108.3 1151.6,1108.5 1152.2,1108.9 1153.2,1110.3 1154.2,1110.4 1155.2,1111.2 1155.5,1112.1 1156.2,1111.9 1157.2,1112.3 1158.2,1113.3 1159.2,1113.9 1159.5,1114.2 1160.2,1114.2 1161.2,1115.4 1162.2,1116.5 1163.2,1116.2 1163.5,1117.3 1164.2,1116.9 1165.2,1116.7 1166.2,1117.3 1167.2,1118.0 1167.4,1117.1 1168.2,1117.8 1169.2,1117.4 1170.2,1116.8 1171.2,1118.0 1171.4,1118.1 1172.2,1116.8 1173.2,1116.4 1174.2,1117.2 1175.2,1116.2 1175.4,1116.8 1176.2,1116.2 1177.2,1116.0 1178.2,1115.4 1179.2,1114.7 1179.3,1114.9 1180.2,1114.6 1181.2,1113.8 1182.2,1114.8 1183.2,1114.4 1183.3,1114.5 1184.2,1113.7 1185.2,1113.7 1186.2,1114.0 1187.2,1114.7 1187.3,1115.1 1188.2,1115.3 1189.2,1115.3 1190.2,1114.5 1191.2,1114.7 1191.2,1115.5 1192.2,1115.6 1193.2,1115.2 1194.2,1115.1 1195.2,1115.3 1195.2,1115.5 1196.2,1115.2 1197.2,1115.5 1198.2,1116.3 1199.2,1116.0 1199.2,1116.1 1200.2,1116.1 1201.2,1115.5 1202.2,1115.7 1203.1,1114.5 1203.2,1115.2 1204.2,1115.4 1205.2,1115.1 1206.2,1115.0 1207.1,1113.9 1207.2,1114.2 1208.2,1113.8 1209.2,1114.9 1210.2,1115.1 1211.1,1115.1 1211.2,1114.5 1212.2,1114.5 1213.2,1114.8 1214.2,1114.5 1215.0,1114.3 1215.2,1113.3 1216.2,1113.5 1217.2,1113.5 1218.2,1112.2 1219.0,1112.2 1219.2,1112.5 1220.2,1112.4 1221.2,1112.0 1222.2,1111.7 1223.0,1111.1 1223.2,1110.7 1224.2,1110.2 1225.2,1110.0 1226.2,1110.0 1226.9,1108.8 1227.2,1109.3 1228.2,1108.5 1229.2,1107.1 1230.2,1107.8 1230.9,1106.5 1231.2,1106.6 1232.2,1104.9 1233.2,1104.3 1234.2,1103.2 1234.8,1101.8 1235.2,1101.9 1236.2,1100.5 1237.2,1099.4 1237.8,1099.0 1238.2,1098.5 1239.2,1098.2 1240.2,1098.9 1241.2,1098.4 1241.8,1098.3 1242.2,1098.3 1243.2,1098.0 1244.2,1097.7 1245.2,1097.3 1245.8,1097.8 1246.2,1097.0 1247.2,1097.3 1248.2,1097.4 1248.7,1096.5 1249.2,1096.3 1250.2,1095.8 1250.9,1095.5 1251.2,1103.5"/>
<polyline stroke="#7e2f8e" points="1610.9,1292.7 1611.9,1295.2 1612.9,1298.0 1613.9,1299.6 1614.9,1301.3 1614.9,1302.0 1615.9,1301.7 1616.9,1302.3 1617.9,1302.0 1618.9,1303.0 1619.8,1302.2 1619.9,1302.5 1620.9,1303.7 1621.9,1302.9 1622.9,1303.6 1623.9,1303.7 1624.8,1304.2 1624.9,1304.5 1625.9,1305.3 1626.9,1305.5 1627.9,1304.8 1628.9,1305.7 1629.8,1305.4 1629.9,1304.9 1630.9,1305.3 1631.9,1305.5 1632.9,1305.7 1633.9,1306.7 1634.7,1306.5 1634.9,1305.6 1635.9,1306.7 1636.9,1306.7 1637.9,1307.1 1638.9,1308.3 1639.7,1307.5 1639.9,1308.5 1640.9,1309.1 1641.9,1308.2 1642.9,1308.9 1643.9,1309.9 1644.6,1309.1 1644.9,1309.6 1645.9,1309.9 1646.9,1311.2 1647.9,1311.5 1648.9,1311.9 1649.6,1311.5 1649.9,1311.3 1650.9,1312.8 1651.9,1312.2 1652.9,1312.5 1653.9,1312.6 1654.5,1313.8 1654.9,1313.4 1655.9,1313.3 1656.9,1313.4 1657.9,1314.3 1658.9,1314.0 1659.5,1314.1 1659.9,1314.8 1660.9,1315.1 1661.9,1315.2 1662.9,1315.9 1663.9,1314.8 1664.5,1314.9 1664.9,1315.1 1665.9,1316.0 1666.9,1316.2 1667.9,1315.8 1668.9,1316.5 1669.4,1315.8 1669.9,1315.9 1670.9,1316.2 1671.9,1316.1 1672.9,1316.3 1673.9,1316.4 1674.4,1316.6 1674.9,1317.2 1675.9,1317.0 1676.9,1317.1 1677.9,1316.2 1678.9,1317.0 1679.3,1316.5 1679.9,1317.1 1680.9,1316.6 1681.9,1316.5 1682.9,1316.2 1683.9,1315.3 1684.3,1315.6 1684.9,1315.3 1685.9,1315.2 1686.9,1315.7 1687.9,1315.0 1688.9,1314.4 1689.2,1315.2 1689.9,1314.4 1690.9,1314.0 1691.9,1314.2 1692.9,1314.0 1693.9,1314.0 1694.2,1314.2 1694.9,1314.2 1695.9,1313.8 1696.9,1313.4 1697.9,1313.0 1698.9,1313.3 1699.2,1313.3 1699.9,1313.5 1700.9,1313.1 1701.9,1313.3 1702.9,1312.1 1703.9,1312.4 1704.1,1312.4 1704.9,1312.9 1705.9,1313.2 1706.9,1313.0 1707.9,1312.5 1708.9,1313.1 1709.1,1312.5 1709.9,1313.1 1710.9,1312.6 1711.9,1313.8 1712.9,1314.2 1713.9,1313.3 1714.0,1314.0 1714.9,1313.4 1715.9,1313.7 1716.9,1314.7 1717.9,1314.2 1718.9,1315.0 1719.0,1315.1 1719.9,1315.8 1720.9,1316.4 1721.9,1316.1 1722.9,1315.9 1723.9,1316.7 1724.0,1316.4 1724.9,1317.2 1725.9,1317.2 1726.9,1317.5 1727.9,1318.0 1728.9,1318.2 1728.9,1317.7 1729.9,1319.0 1730.9,1318.5 1731.9,1318.5 1732.9,1319.1 1733.9,1319.8 1733.9,1319.2 1734.9,1319.0 1735.9,1320.0 1736.9,1320.5 1737.9,1320.5 1738.8,1320.4 1738.9,1320.1 1739.9,1320.1 1740.9,1321.1 1741.9,1320.7 1742.9,1322.0 1743.8,1321.4 1743.9,1321.6 1744.9,1321.3 1745.9,1322.1 1746.9,1322.2 1747.9,1322.8 1748.7,1323.3 1748.9,1322.2 1749.9,1323.4 1750.9,1322.8 1751.9,1323.4 1752.9,1324.1 1753.7,1323.6 1753.9,1323.6 1754.9,1323.9 1755.9,1323.9 1756.9,1324.1 1757.9,1324.4 1758.7,1324.7 1758.9,1324.8 1759.9,1324.3 1760.9,1324.6 1761.9,1325.0 1762.9,1325.3 1763.6,1325.5 1763.9,1325.8 1764.9,1326.5 1765.9,1326.4 1766.9,1326.7 1767.9,1326.0 1768.6,1326.2 1768.9,1326.7 1769.9,1325.9 1770.9,1327.2 1771.9,1326.8 1772.9,1326.6 1773.5,1327.4 1773.9,1327.4 1774.9,1327.3 1775.9,1327.7 1776.9,1327.2 1777.9,1327.0 1778.5,1327.1 1778.9,1328.2 1779.9,1327.4 1780.0,1328.2 1780.9,1328.0 1781.9,1328.0 1782.9,1327.0 1783.9,1327.5 1784.9,1326.8 1785.0,1326.7 1785.9,1326.7 1786.9,1326.7 1787.9,1325.5 1788.9,1325.2 1789.9,1325.7 1789.9,1326.0 1790.9,1325.7 1791.9,1325.0 1792.9,1323.8 1793.9,1324.0 1794.9,1323.1 1794.9,1322.9 1795.9,1323.3 1796.9,1322.5 1797.9,1322.2 1798.9,1321.6 1799.8,1321.8 1799.9,1321.4 1800.9,1321.2 1801.9,1320.5 1802.9,1320.1 1803.9,1320.1 1804.8,1320.2 1804.9,1320.3 1805.9,1319.6 1806.9,1318.2 1807.9,1318.7 1808.9,1318.1 1809.8,1317.6 1809.9,1317.1 1810.9,1317.5 1811.9,1316.8 1812.9,1316.6 1813.9,1315.6 1814.7,1316.5 1814.9,1315.4 1815.9,1315.3 1816.9,1315.7 1817.9,1315.4 1818.9,1314.9 1819.7,1314.6 1819.9,1314.7 1820.9,1312.9 1821.9,1312.8 1822.9,1312.1 1823.9,1311.4 1824.6,1312.4 1824.9,1311.8 1825.9,1311.4 1826.9,1310.1 1827.9,1310.3 1828.9,1309.7 1829.6,1310.3 1829.9,1309.5 1830.9,1309.2 1831.9,1309.8 1832.9,1309.4 1833.9,1309.1 1834.5,1309.7 1834.9,1309.6 1835.9,1309.5 1836.9,1309.7 1837.9,1309.6 1838.9,1309.8 1839.5,1309.7 1839.9,1308.8 1840.9,1309.2 1841.9,1310.0 1842.5,1310.7 1842.9,1309.8 1843.9,1309.5 1844.9,1309.5 1845.9,1310.2 1846.9,1309.7 1847.4,1309.2 1847.9,1308.6 1848.9,1309.2 1849.9,1309.8 1850.9,1308.5 1851.4,1309.2 1851.9,1308.8 1852.9,1310.0 1853.9,1309.5 1854.9,1309.7 1855.9,1310.3 1856.3,1311.0 1856.9,1310.3 1857.9,1310.8 1858.9,1311.0 1859.9,1309.8 1860.9,1310.9 1861.3,1310.5 1861.9,1310.9 1862.9,1311.0 1863.9,1311.1 1864.9,1311.4 1865.3,1311.2 1865.9,1311.3 1866.9,1311.0 1867.9,1310.6 1868.9,1310.6 1869.2,1311.2 1869.9,1311.6 1870.9,1311.4 1871.9,1310.2 1872.9,1310.0 1873.9,1309.9 1874.2,1311.0 1874.9,1310.6 1875.9,1310.5 1876.9,1311.5 1877.9,1311.6 1878.2,1311.6 1878.9,1311.7 1879.9,1310.6 1880.9,1310.5 1881.9,1309.4 1882.1,1309.9 1882.9,1309.1 1883.9,1308.6 1884.9,1309.5 1885.9,1308.5 1886.1,1308.7 1886.9,1308.7 1887.9,1309.5 1888.9,1309.1 1889.9,1309.8 1890.1,1310.3 1890.9,1309.6 1891.9,1309.2 1892.9,1308.8 1893.9,1308.9 1894.0,1309.0 1894.9,1308.8 1895.9,1307.7 1896.0,1308.5 1896.9,1308.3 1897.9,1309.1 1898.9,1309.2 1899.0,1309.5 1899.9,1309.0 1900.9,1309.5 1901.9,1308.3 1902.9,1308.7 1903.9,1307.9 1904.0,1308.5 1904.9,1307.8 1905.9,1308.8 1906.9,1308.7 1907.9,1308.8 1908.9,1309.4 1908.9,1308.8 1909.9,1309.8 1910.9,1309.3 1911.9,1310.7 1912.9,1311.5 1912.9,1310.5 1913.9,1310.3 1914.9,1311.0 1915.9,1310.7 1916.8,1310.5 1916.9,1311.2 1917.9,1311.1 1918.9,1311.3 1919.9,1312.3 1920.9,1312.5 1921.8,1312.5 1921.9,1312.1 1922.9,1312.5 1923.9,1312.7 1924.9,1314.0 1925.8,1313.3 1925.9,1314.0 1926.9,1315.0 1927.9,1315.8 1928.9,1315.8 1929.7,1315.7 1929.9,1316.8 1930.9,1315.4 1931.9,1316.0 1932.9,1314.6 1933.7,1315.5 1933.9,1315.4 1934.9,1315.1 1935.9,1315.9 1936.9,1316.1 1937.9,1315.5 1938.7,1316.6 1938.9,1316.3 1939.9,1315.7 1940.9,1316.1 1941.9,1315.7 1942.9,1314.4 1943.6,1315.5 1943.9,1314.4 1944.9,1315.2 1945.9,1314.3 1946.9,1314.6 1947.9,1313.7 1948.6,1313.4 1948.9,1314.3 1949.9,1314.1 1950.9,1313.2 1951.9,1312.2 1952.5,1312.9 1952.9,1312.0 1953.9,1312.3 1954.9,1312.0 1955.9,1311.3 1956.5,1311.3 1956.9,1310.1 1957.9,1310.3 1958.9,1308.4 1959.5,1307.8 1959.9,1307.2 1960.9,1305.6 1961.0,1305.5"/>
<polyline stroke="#77ac30" points="276.0,839.0 277.0,857.3 277.0,858.2 278.0,864.2 278.2,864.6 279.0,869.7 279.4,871.8 280.0,875.1 280.5,878.9 281.0,882.7 281.5,885.6 282.0,889.4 282.6,893.0 283.0,895.5 283.6,900.2 284.0,902.6 284.6,907.3 285.0,910.1 285.7,915.0 286.0,916.0 286.7,922.2 287.0,923.3 287.8,929.2 288.0,930.7 288.6,935.6 289.0,938.2 289.8,945.4 290.0,947.6 290.7,954.9 291.0,955.7 292.0,963.5 292.2,965.2 293.0,969.1 294.0,974.4 294.2,975.7 295.0,978.5 296.0,982.1 296.7,985.3 297.0,986.2 298.0,990.0 299.0,993.3 299.7,996.0 300.0,996.4 301.0,999.4 302.0,1002.8 303.0,1005.4 303.1,1006.1 304.0,1007.7 305.0,1009.1 306.0,1011.8 306.6,1013.1 307.0,1013.6 308.0,1014.8 309.0,1016.2 310.0,1018.1 311.0,1019.9 311.6,1020.9 312.0,1021.3 313.0,1021.6 314.0,1021.6 315.0,1022.6 316.0,1023.3 316.5,1024.8 317.0,1024.3 318.0,1025.5 319.0,1025.7 320.0,1026.5 321.0,1027.5 321.5,1027.5 322.0,1027.1 323.0,1028.7 324.0,1029.1 325.0,1030.8 326.0,1030.6 326.4,1030.9 327.0,1032.4 328.0,1032.7 329.0,1033.2 330.0,1035.2 331.0,1036.4 331.4,1036.2 332.0,1036.5 333.0,1038.6 334.0,1039.1 335.0,1040.2 336.0,1041.1 336.4,1042.7 337.0,1042.3 338.0,1043.0 339.0,1044.2 339.3,1044.9 340.0,1045.5 341.0,1044.8 342.0,1045.6 343.0,1045.4 344.0,1046.6 344.3,1046.1 345.0,1046.4 346.0,1046.7 347.0,1046.3 348.0,1046.3 349.0,1045.7 349.2,1045.9 350.0,1046.6 351.0,1046.6 352.0,1046.3 353.0,1045.6 354.0,1046.5 354.2,1046.6 355.0,1046.8 356.0,1046.8 357.0,1046.9 358.0,1046.7 359.0,1046.9 359.2,1046.7 360.0,1047.7 361.0,1047.6 362.0,1048.7 363.0,1048.3 364.0,1048.7 364.1,1048.5 365.0,1049.1 366.0,1050.1 367.0,1050.4 368.0,1050.9 369.0,1049.9 369.1,1050.9 370.0,1050.9 371.0,1050.8 372.0,1051.8 373.0,1051.6 374.0,1051.3 374.0,1052.1 375.0,1051.8 376.0,1052.1 377.0,1052.5 378.0,1052.8 379.0,1052.4 379.0,1053.5 380.0,1053.2 381.0,1053.7 382.0,1053.7 383.0,1054.6 383.9,1054.3 384.0,1054.3 385.0,1055.3 386.0,1057.0 387.0,1057.5 388.0,1058.3 388.9,1058.1 389.0,1058.7 390.0,1059.8 391.0,1060.5 392.0,1060.8 392.9,1061.0 393.0,1061.4 394.0,1062.5 395.0,1062.8 396.0,1062.8 396.8,1062.7 397.0,1063.0 398.0,1062.8 399.0,1062.5 400.0,1062.9 400.8,1062.3 401.0,1061.6 402.0,1062.0 403.0,1061.4 404.0,1060.0 404.8,1060.2 405.0,1060.7 406.0,1059.6 407.0,1058.9 408.0,1058.0 408.7,1057.4 409.0,1058.1 410.0,1056.7 411.0,1056.5 412.0,1055.6 413.0,1055.7 413.7,1055.6 414.0,1055.6 415.0,1055.8 416.0,1054.6 417.0,1054.4 418.0,1054.4 418.6,1054.3 419.0,1055.1 420.0,1054.3 421.0,1054.8 422.0,1055.8 423.0,1055.1 423.6,1055.3 424.0,1055.3 425.0,1055.5 426.0,1055.8 427.0,1056.8 428.0,1056.0 428.6,1056.2 429.0,1057.3 430.0,1057.2 431.0,1056.9 432.0,1057.0 433.0,1057.1 433.5,1056.8 434.0,1057.0 435.0,1056.6 436.0,1056.7 437.0,1056.1 438.0,1056.3 438.5,1055.4 439.0,1056.4 440.0,1054.5 441.0,1054.7 442.0,1054.0 443.0,1053.1 443.4,1054.0 444.0,1053.1 445.0,1052.4 446.0,1052.3 447.0,1051.8 448.0,1051.9 448.4,1052.4 449.0,1052.3 450.0,1051.3 451.0,1051.9 452.0,1051.7 453.0,1051.9 453.4,1051.1 454.0,1051.0 455.0,1051.2 456.0,1052.5 457.0,1051.4 458.0,1051.5 459.0,1052.2 460.0,1051.8 460.0,1052.0 461.0,1053.6 462.0,1053.1 463.0,1054.5 464.0,1055.2 464.8,1055.1 465.0,1055.2 466.0,1055.4 467.0,1056.1 468.0,1056.9 469.0,1057.5 470.0,1058.0 471.0,1058.3 472.0,1059.6 472.7,1059.4 473.0,1059.4 474.0,1059.8 475.0,1060.7 476.0,1060.7 477.0,1061.2 478.0,1061.7 479.0,1061.4 479.7,1062.1 480.0,1061.4 481.0,1062.4 482.0,1062.8 483.0,1063.2 484.0,1063.4 485.0,1064.8 486.0,1064.6 486.6,1065.0 487.0,1064.7 488.0,1066.1 489.0,1066.4 490.0,1065.8 491.0,1066.5 492.0,1066.6 493.0,1066.8 493.5,1067.9 494.0,1067.7 495.0,1068.4 496.0,1068.3 497.0,1068.0 498.0,1068.9 499.0,1068.2 499.5,1069.0 500.0,1068.9 501.0,1068.4 502.0,1068.8 503.0,1069.2 504.0,1068.8 505.0,1068.8 506.0,1069.7 507.0,1070.3 507.4,1069.8 508.0,1070.3 509.0,1069.4 510.0,1068.7 511.0,1068.6 512.0,1068.8 513.0,1069.2 513.4,1069.0 514.0,1069.0 515.0,1067.9 516.0,1067.6 517.0,1066.8 518.0,1065.7 519.0,1065.7 519.3,1065.2 520.0,1065.7 521.0,1065.2 522.0,1064.0 523.0,1063.4 524.0,1063.2 525.0,1062.4 525.3,1062.5 526.0,1063.5 527.0,1063.3 528.0,1062.5 529.0,1063.1 530.0,1062.0 531.0,1063.0 531.2,1062.4 532.0,1062.7 533.0,1062.5 534.0,1062.5 535.0,1063.5 536.0,1064.0 537.0,1064.4 537.2,1064.6 538.0,1064.9 539.0,1063.8 540.0,1064.8 541.0,1064.2 542.0,1065.4 543.0,1065.1 543.1,1064.4 544.0,1065.0 545.0,1065.7 546.0,1065.8 547.0,1065.9 548.0,1065.4 549.0,1065.7 549.1,1065.7 550.0,1065.3 551.0,1065.5 552.0,1064.5 553.0,1064.4 554.0,1064.7 555.0,1064.7 555.0,1065.0 556.0,1063.7 557.0,1064.9 558.0,1063.8 559.0,1063.8 560.0,1064.2 561.0,1064.5 561.0,1063.4 562.0,1063.9 563.0,1064.8 564.0,1065.0 565.0,1064.6 566.0,1064.6 566.9,1065.6 567.0,1064.8 568.0,1065.3 569.0,1065.1 570.0,1065.7 571.0,1066.4 572.0,1066.8 572.9,1067.4 573.0,1067.2 574.0,1066.9 575.0,1067.4 576.0,1067.4 577.0,1067.5 578.0,1067.8 578.8,1069.1 579.0,1068.9 580.0,1069.0 581.0,1068.9 582.0,1068.3 583.0,1069.1 584.0,1068.8 584.8,1069.2 585.0,1069.0 586.0,1069.0 587.0,1068.3 588.0,1069.3 589.0,1069.1 590.0,1068.8 590.7,1068.4 591.0,1068.9 592.0,1068.7 593.0,1068.5 594.0,1069.3 595.0,1069.3 596.0,1069.6 596.7,1069.9 597.0,1069.1 598.0,1069.4 599.0,1068.8 600.0,1069.7 601.0,1070.0 602.0,1069.5 602.6,1069.0 603.0,1069.9 604.0,1069.1 605.0,1068.5 606.0,1068.9 607.0,1068.1 608.0,1067.9 608.6,1067.8 609.0,1067.4 610.0,1067.0 611.0,1065.8 612.0,1065.1 613.0,1064.7 614.0,1064.5 614.5,1063.5 615.0,1063.1 616.0,1062.8 617.0,1062.6 618.0,1061.9 619.0,1062.0 619.5,1062.0 620.0,1062.7 621.0,1061.9 622.0,1062.7 623.0,1063.0 624.0,1063.8 624.4,1064.6 625.0,1064.0 626.0,1065.1 627.0,1065.5 628.0,1066.7 628.4,1066.6 629.0,1067.3 630.0,1067.3 631.0,1067.5 632.0,1067.5 633.0,1066.8 633.4,1066.8 634.0,1067.5 635.0,1065.7 636.0,1064.7 637.0,1064.7 637.3,1064.4 638.0,1063.1 639.0,1062.3 640.0,1061.1 640.0,1061.2 641.0,1059.7 641.5,1058.7 642.0,1058.8 643.0,1056.9 644.0,1056.3 644.5,1055.8 645.0,1053.8 646.0,1053.5 647.0,1052.1 647.4,1050.8 648.0,1050.9 649.0,1050.0 650.0,1050.3 651.0,1049.0 651.4,1049.2 652.0,1048.9 653.0,1050.2 654.0,1049.8 655.0,1051.3 655.4,1050.4 656.0,1050.8 657.0,1051.3 658.0,1051.0 659.0,1051.6 659.3,1050.8 660.0,1051.5 661.0,1050.2 662.0,1050.0 663.0,1048.4 663.3,1048.5 664.0,1047.7 665.0,1047.0 666.0,1045.7 666.3,1044.4 667.0,1043.3 668.0,1041.6 668.8,1039.9 669.0,1039.5 670.0,1038.0 670.4,1036.0"/>
<polyline stroke="#77ac30" points="772.4,1124.9 772.5,1134.9 772.9,1127.9 773.2,1130.9 774.2,1134.2 774.9,1135.8 775.2,1136.1 776.2,1137.7 777.2,1137.9 777.9,1139.6 778.2,1139.2 779.2,1139.4 780.2,1141.0 781.2,1141.1 781.8,1142.6 782.2,1142.4 783.2,1142.2 784.2,1143.8 785.2,1143.4 785.8,1144.6 786.2,1143.3 787.2,1143.9 788.2,1144.5 789.2,1144.1 789.8,1144.3 790.2,1144.0 791.2,1144.8 792.2,1145.2 793.2,1144.5 794.2,1145.1 794.7,1145.0 795.2,1145.2 796.2,1145.8 797.2,1145.2 798.2,1145.0 799.2,1145.3 799.7,1145.7 800.2,1146.1 801.2,1146.2 802.2,1145.3 803.2,1145.1 804.2,1146.4 804.6,1145.4 805.2,1146.2 806.2,1145.9 807.2,1146.8 808.2,1147.5 809.2,1148.2 809.6,1147.5 810.2,1147.7 811.2,1148.4 812.2,1148.2 813.2,1147.8 814.2,1148.3 814.5,1148.2 815.2,1149.1 816.2,1149.0 817.2,1148.4 818.2,1149.1 819.2,1149.7 819.5,1149.8 820.2,1149.6 821.2,1149.5 822.2,1149.4 823.2,1150.1 824.2,1149.5 824.5,1149.2 825.2,1149.1 826.2,1149.0 827.2,1148.9 828.2,1148.5 829.2,1148.5 829.4,1149.1 830.2,1147.9 831.2,1147.6 832.2,1147.5 833.2,1147.1 834.2,1148.0 834.4,1147.7 835.2,1147.5 836.2,1146.2 837.2,1147.0 838.2,1146.8 839.2,1145.9 839.3,1146.0 840.2,1146.3 841.2,1146.2 842.2,1146.2 843.2,1146.4 844.2,1146.8 844.3,1146.8 845.2,1147.3 846.2,1147.6 847.2,1147.2 848.2,1148.2 849.2,1148.1 849.2,1148.5 850.2,1148.9 851.2,1150.3 852.2,1150.2 853.2,1150.9 854.2,1151.2 855.2,1152.0 856.2,1152.7 857.2,1152.5 858.2,1154.2 859.2,1154.1 859.2,1153.7 860.2,1155.0 861.2,1154.4 862.2,1155.8 863.2,1155.8 864.1,1157.0 864.2,1155.8 865.2,1157.0 866.2,1156.7 867.2,1156.9 868.1,1156.6 868.2,1156.4 869.2,1156.6 870.2,1155.9 871.2,1156.5 872.0,1155.8 872.2,1156.1 873.2,1155.4 874.2,1154.1 875.2,1153.8 876.0,1152.8 876.2,1152.7 877.2,1151.9 878.2,1152.4 879.2,1151.0 880.0,1150.3 880.2,1150.6 881.2,1149.3 882.2,1148.6 883.2,1147.9 884.0,1147.5 884.2,1147.7 885.2,1147.2 886.2,1147.1 887.2,1146.5 887.9,1147.0 888.2,1146.4 889.2,1146.8 890.2,1146.2 891.2,1146.1 891.9,1146.6 892.2,1145.3 893.2,1146.7 894.2,1146.7 895.2,1145.6 895.9,1145.6 896.2,1146.2 897.2,1146.5 898.2,1147.4 899.2,1147.3 899.8,1148.1 900.2,1148.0 901.2,1148.1 902.2,1148.3 903.2,1149.2 903.8,1148.7 904.2,1149.2 905.2,1148.8 906.2,1149.5 907.2,1149.6 908.2,1149.4 908.7,1149.8 909.2,1149.8 910.2,1148.7 911.2,1149.4 912.2,1149.2 913.2,1149.2 913.7,1149.0 914.2,1149.5 915.2,1149.1 916.2,1148.9 917.2,1147.8 918.2,1148.1 918.6,1147.7 919.2,1148.7 920.2,1148.1 921.2,1147.3 922.2,1148.1 923.2,1147.1 923.6,1147.6 924.2,1147.3 925.2,1147.4 926.2,1148.3 927.2,1148.8 928.2,1147.9 928.6,1147.9 929.2,1149.1 930.2,1149.3 931.2,1149.3 932.2,1149.5 933.2,1148.9 933.5,1148.8 934.2,1149.0 935.2,1149.7 936.2,1149.0 937.2,1150.1 938.2,1149.3 938.5,1150.6 939.2,1150.4 940.0,1150.6 940.2,1150.1 941.2,1150.5 942.2,1150.6 943.2,1150.2 944.2,1149.8 945.0,1149.9 945.2,1150.2 946.2,1149.0 947.2,1149.7 948.2,1148.8 949.2,1149.3 949.9,1148.5 950.2,1149.6 951.2,1149.0 952.2,1149.1 953.2,1149.1 954.2,1148.7 954.9,1148.5 955.2,1149.2 956.2,1148.5 957.2,1148.8 958.2,1148.8 959.2,1148.4 959.8,1149.5 960.2,1149.2 961.2,1149.3 962.2,1148.3 963.2,1148.8 964.2,1149.0 964.8,1148.6 965.2,1149.0 966.2,1148.0 967.2,1148.6 968.2,1147.9 969.2,1148.3 969.8,1147.6 970.2,1147.3 971.2,1147.6 972.2,1147.7 973.2,1146.7 974.2,1147.1 974.7,1146.1 975.2,1147.1 976.2,1145.9 977.2,1146.0 978.2,1145.2 979.2,1145.5 979.7,1144.6 980.2,1145.6 981.2,1144.6 982.2,1144.9 983.2,1144.7 984.2,1144.9 984.6,1144.8 985.2,1144.5 986.2,1143.9 987.2,1142.5 988.2,1142.0 989.2,1141.8 989.6,1141.5 990.2,1141.2 991.2,1141.0 992.2,1141.0 993.2,1141.2 993.5,1141.0 994.2,1141.7 995.2,1141.5 996.2,1141.0 996.5,1140.5 997.2,1141.6 998.2,1141.1 999.2,1142.0 1000.2,1141.4 1000.5,1141.5 1001.2,1142.3 1002.2,1142.2 1003.2,1142.8 1004.2,1143.7 1004.5,1143.6 1005.2,1143.0 1006.2,1143.7 1007.2,1144.1 1008.2,1143.5 1009.2,1144.4 1009.4,1144.5 1010.2,1144.4 1011.2,1145.6 1012.2,1144.8 1013.2,1146.2 1014.2,1145.5 1014.4,1146.3 1015.2,1146.2 1016.2,1146.6 1017.2,1146.9 1018.2,1146.9 1019.2,1148.4 1019.3,1147.9 1020.2,1148.3 1021.2,1147.6 1022.2,1149.0 1023.2,1148.4 1024.2,1148.5 1024.3,1149.6 1025.2,1148.6 1026.2,1149.0 1027.2,1149.9 1028.2,1149.9 1029.2,1149.4 1029.2,1150.2 1030.2,1149.2 1031.2,1149.2 1032.2,1149.7 1033.2,1149.8 1034.2,1149.9 1035.2,1148.9 1036.2,1150.0 1037.2,1149.7 1038.2,1148.2 1039.2,1148.1 1039.2,1149.4 1040.2,1148.3 1041.2,1148.5 1042.2,1147.7 1043.2,1148.0 1044.1,1147.4 1044.2,1147.2 1045.2,1146.9 1046.2,1147.4 1047.2,1146.5 1048.2,1147.4 1049.1,1147.2 1049.2,1146.9 1050.2,1146.1 1051.2,1146.5 1052.2,1146.5 1053.2,1145.9 1054.0,1145.1 1054.2,1145.1 1055.2,1145.5 1056.2,1144.5 1057.2,1145.6 1058.2,1144.5 1059.0,1145.0 1059.2,1144.8 1060.2,1142.9 1061.2,1142.0 1062.0,1141.2 1062.2,1140.9 1063.2,1141.2 1064.2,1140.7 1064.4,1140.4 1065.2,1141.0 1066.2,1141.2 1066.9,1142.2 1067.2,1142.6 1068.2,1143.2 1069.2,1143.3 1069.9,1144.4 1070.2,1143.6 1071.2,1144.0 1072.2,1145.2 1073.2,1144.4 1073.9,1144.5 1074.2,1145.3 1075.2,1145.2 1076.2,1145.3 1077.2,1144.6 1078.2,1145.3 1078.8,1145.3 1079.2,1145.0 1080.2,1144.4 1081.2,1144.6 1082.2,1144.3 1083.2,1143.5 1083.8,1143.7 1084.2,1143.7 1085.2,1142.2 1086.2,1142.0 1087.2,1142.5 1088.2,1141.7 1088.7,1141.5 1089.2,1141.6 1090.2,1139.8 1091.2,1139.3 1092.2,1139.3 1093.2,1138.1 1093.7,1137.5 1094.2,1138.1 1095.2,1137.2 1096.2,1136.1 1097.2,1135.7 1098.2,1135.4 1098.7,1135.8 1099.2,1133.9 1100.0,1132.9 1100.2,1133.3 1101.2,1133.5 1102.2,1131.9 1103.2,1132.5 1104.0,1131.1 1104.2,1131.9 1105.2,1131.7 1106.2,1130.2 1107.2,1130.0 1107.9,1130.5 1108.2,1130.7 1109.2,1130.7 1110.2,1130.1 1111.2,1129.9 1111.9,1130.2 1112.2,1130.4 1113.2,1129.8 1114.2,1129.9 1115.2,1129.8 1115.9,1129.8 1116.2,1129.7 1117.2,1130.0 1118.2,1130.1 1119.2,1129.0 1119.8,1129.9 1120.2,1128.6 1121.2,1128.7 1122.2,1128.5 1123.2,1127.3 1123.8,1127.6 1124.2,1127.8 1125.2,1126.9 1126.2,1126.3 1127.2,1125.4 1127.8,1125.4 1128.2,1125.1 1129.2,1123.3 1130.2,1123.0 1131.2,1121.1 1131.7,1120.6 1132.2,1121.2 1133.2,1120.2 1134.2,1119.3 1135.2,1117.3 1135.7,1117.0 1136.2,1116.8 1137.2,1116.3 1138.2,1115.0 1139.2,1114.6 1139.7,1113.9 1140.2,1114.0 1141.2,1113.3 1142.2,1114.3 1143.2,1113.0 1143.6,1112.7 1144.2,1113.3 1145.2,1112.9 1146.2,1114.1 1147.2,1113.0 1147.6,1113.5 1148.2,1114.1 1149.2,1114.7 1150.2,1114.9 1151.2,1114.5 1151.6,1114.9 1152.2,1115.5 1153.2,1116.1 1154.2,1117.3 1155.2,1117.2 1155.5,1118.0 1156.2,1118.2 1157.2,1119.3 1158.2,1119.3 1159.2,1120.2 1159.5,1121.6 1160.2,1121.5 1161.2,1121.7 1162.2,1123.2 1163.2,1122.8 1163.5,1124.3 1164.2,1123.5 1165.2,1123.4 1166.2,1124.6 1167.2,1124.7 1167.4,1124.8 1168.2,1125.2 1169.2,1125.4 1170.2,1124.6 1171.2,1124.8 1171.4,1125.2 1172.2,1125.2 1173.2,1124.0 1174.2,1124.1 1175.2,1124.0 1175.4,1124.0 1176.2,1123.0 1177.2,1123.6 1178.2,1122.4 1179.2,1121.6 1179.3,1122.0 1180.2,1122.3 1181.2,1121.5 1182.2,1122.5 1183.2,1121.1 1183.3,1122.4 1184.2,1122.5 1185.2,1121.5 1186.2,1122.4 1187.2,1122.3 1187.3,1121.4 1188.2,1122.8 1189.2,1122.4 1190.2,1122.7 1191.2,1122.2 1191.2,1122.6 1192.2,1122.7 1193.2,1123.1 1194.2,1122.4 1195.2,1122.5 1195.2,1122.7 1196.2,1123.8 1197.2,1123.4 1198.2,1124.0 1199.2,1122.8 1199.2,1123.5 1200.2,1123.4 1201.2,1123.7 1202.2,1123.1 1203.1,1123.3 1203.2,1122.5 1204.2,1123.2 1205.2,1122.2 1206.2,1122.9 1207.1,1122.3 1207.2,1121.6 1208.2,1122.5 1209.2,1122.8 1210.2,1122.7 1211.1,1123.2 1211.2,1122.0 1212.2,1122.0 1213.2,1121.8 1214.2,1122.0 1215.0,1122.3 1215.2,1122.0 1216.2,1121.6 1217.2,1120.8 1218.2,1119.9 1219.0,1119.8 1219.2,1119.7 1220.2,1119.7 1221.2,1120.1 1222.2,1120.0 1223.0,1118.8 1223.2,1119.5 1224.2,1118.8 1225.2,1118.5 1226.2,1117.3 1226.9,1117.6 1227.2,1118.0 1228.2,1116.2 1229.2,1115.5 1230.2,1114.9 1230.9,1114.6 1231.2,1114.8 1232.2,1113.5 1233.2,1112.6 1234.2,1112.1 1234.8,1110.6 1235.2,1110.0 1236.2,1109.3 1237.2,1108.7 1237.8,1107.7 1238.2,1107.0 1239.2,1106.9 1240.2,1107.6 1241.2,1106.1 1241.8,1106.7 1242.2,1106.9 1243.2,1106.0 1244.2,1105.7 1245.2,1106.9 1245.8,1105.8 1246.2,1106.2 1247.2,1106.4 1248.2,1105.3 1248.7,1106.4 1249.2,1105.3 1250.2,1105.6 1250.9,1105.2 1251.2,1113.2"/>
<polyline stroke="#77ac30" points="1610.9,1300.8 1611.9,1303.5 1612.9,1305.7 1613.9,1307.4 1614.9,1309.3 1614.9,1310.2 1615.9,1310.2 1616.9,1309.8 1617.9,1310.6 1618.9,1311.0 1619.8,1311.3 1619.9,1311.5 1620.9,1312.0 1621.9,1312.0 1622.9,1312.7 1623.9,1312.4 1624.8,1312.3 1624.9,1313.3 1625.9,1312.6 1626.9,1312.7 1627.9,1312.9 1628.9,1313.7 1629.8,1314.4 1629.9,1313.7 1630.9,1314.7 1631.9,1314.7 1632.9,1314.0 1633.9,1314.4 1634.7,1314.7 1634.9,1314.9 1635.9,1315.3 1636.9,1314.9 1637.9,1316.2 1638.9,1315.9 1639.7,1316.7 1639.9,1316.9 1640.9,1316.6 1641.9,1317.7 1642.9,1317.9 1643.9,1317.8 1644.6,1318.8 1644.9,1318.0 1645.9,1319.6 1646.9,1318.8 1647.9,1320.3 1648.9,1320.3 1649.6,1320.1 1649.9,1320.4 1650.9,1321.7 1651.9,1321.6 1652.9,1321.8 1653.9,1322.3 1654.5,1321.8 1654.9,1322.4 1655.9,1323.2 1656.9,1322.7 1657.9,1323.2 1658.9,1324.3 1659.5,1324.3 1659.9,1323.6 1660.9,1324.6 1661.9,1323.5 1662.9,1324.4 1663.9,1325.0 1664.5,1325.0 1664.9,1324.9 1665.9,1324.6 1666.9,1325.8 1667.9,1325.4 1668.9,1326.1 1669.4,1326.2 1669.9,1326.0 1670.9,1325.7 1671.9,1326.1 1672.9,1325.5 1673.9,1325.8 1674.4,1326.7 1674.9,1325.5 1675.9,1325.4 1676.9,1326.6 1677.9,1326.0 1678.9,1325.7 1679.3,1326.6 1679.9,1326.3 1680.9,1325.8 1681.9,1325.7 1682.9,1325.3 1683.9,1325.4 1684.3,1325.7 1684.9,1325.5 1685.9,1324.8 1686.9,1325.5 1687.9,1324.1 1688.9,1325.2 1689.2,1324.8 1689.9,1323.9 1690.9,1324.5 1691.9,1324.7 1692.9,1324.1 1693.9,1323.5 1694.2,1324.1 1694.9,1323.7 1695.9,1323.7 1696.9,1322.5 1697.9,1323.0 1698.9,1323.4 1699.2,1322.8 1699.9,1323.4 1700.9,1322.8 1701.9,1322.2 1702.9,1322.9 1703.9,1322.0 1704.1,1322.2 1704.9,1323.1 1705.9,1322.9 1706.9,1322.2 1707.9,1322.2 1708.9,1322.9 1709.1,1322.3 1709.9,1322.6 1710.9,1323.2 1711.9,1323.2 1712.9,1323.5 1713.9,1324.0 1714.0,1323.5 1714.9,1324.2 1715.9,1323.8 1716.9,1324.9 1717.9,1325.3 1718.9,1325.7 1719.0,1324.8 1719.9,1326.2 1720.9,1326.3 1721.9,1326.8 1722.9,1326.7 1723.9,1327.3 1724.0,1326.5 1724.9,1328.0 1725.9,1327.0 1726.9,1327.9 1727.9,1327.8 1728.9,1329.2 1728.9,1328.6 1729.9,1328.6 1730.9,1329.1 1731.9,1329.6 1732.9,1328.9 1733.9,1329.4 1733.9,1329.5 1734.9,1330.1 1735.9,1329.6 1736.9,1330.6 1737.9,1330.6 1738.8,1331.1 1738.9,1330.8 1739.9,1330.5 1740.9,1331.4 1741.9,1331.0 1742.9,1331.7 1743.8,1331.4 1743.9,1332.6 1744.9,1332.4 1745.9,1332.3 1746.9,1332.4 1747.9,1332.8 1748.7,1332.9 1748.9,1333.7 1749.9,1333.5 1750.9,1333.4 1751.9,1333.5 1752.9,1334.4 1753.7,1334.0 1753.9,1335.0 1754.9,1334.8 1755.9,1334.9 1756.9,1334.4 1757.9,1335.7 1758.7,1335.0 1758.9,1335.5 1759.9,1336.0 1760.9,1336.3 1761.9,1335.6 1762.9,1336.8 1763.6,1335.7 1763.9,1335.9 1764.9,1336.8 1765.9,1336.9 1766.9,1337.5 1767.9,1336.5 1768.6,1336.8 1768.9,1336.7 1769.9,1337.0 1770.9,1336.7 1771.9,1337.5 1772.9,1338.2 1773.5,1338.4 1773.9,1337.5 1774.9,1337.8 1775.9,1337.6 1776.9,1338.3 1777.9,1338.7 1778.5,1338.7 1778.9,1337.8 1779.9,1338.2 1780.0,1338.3 1780.9,1338.3 1781.9,1338.8 1782.9,1337.7 1783.9,1338.5 1784.9,1337.5 1785.0,1338.3 1785.9,1338.1 1786.9,1336.9 1787.9,1337.4 1788.9,1337.5 1789.9,1337.0 1789.9,1336.8 1790.9,1336.7 1791.9,1335.8 1792.9,1335.3 1793.9,1335.6 1794.9,1334.5 1794.9,1334.5 1795.9,1335.0 1796.9,1333.5 1797.9,1333.6 1798.9,1333.4 1799.8,1332.6 1799.9,1332.2 1800.9,1332.9 1801.9,1332.4 1802.9,1332.0 1803.9,1331.1 1804.8,1331.3 1804.9,1331.0 1805.9,1331.2 1806.9,1330.6 1807.9,1330.2 1808.9,1328.9 1809.8,1328.2 1809.9,1328.8 1810.9,1328.9 1811.9,1328.0 1812.9,1328.3 1813.9,1328.1 1814.7,1327.1 1814.9,1326.9 1815.9,1327.5 1816.9,1326.2 1817.9,1326.0 1818.9,1325.5 1819.7,1325.8 1819.9,1325.8 1820.9,1325.5 1821.9,1324.0 1822.9,1324.6 1823.9,1323.9 1824.6,1323.1 1824.9,1323.1 1825.9,1322.5 1826.9,1323.0 1827.9,1322.5 1828.9,1321.6 1829.6,1321.9 1829.9,1320.7 1830.9,1320.7 1831.9,1321.0 1832.9,1321.1 1833.9,1321.0 1834.5,1321.2 1834.9,1321.5 1835.9,1321.0 1836.9,1321.7 1837.9,1321.5 1838.9,1321.6 1839.5,1320.7 1839.9,1321.8 1840.9,1322.0 1841.9,1321.9 1842.5,1322.8 1842.9,1322.5 1843.9,1322.0 1844.9,1321.5 1845.9,1321.0 1846.9,1320.9 1847.4,1321.8 1847.9,1321.7 1848.9,1321.0 1849.9,1320.8 1850.9,1321.2 1851.4,1321.2 1851.9,1321.5 1852.9,1321.1 1853.9,1322.0 1854.9,1322.8 1855.9,1323.0 1856.3,1322.8 1856.9,1322.5 1857.9,1323.3 1858.9,1322.3 1859.9,1323.1 1860.9,1322.9 1861.3,1322.9 1861.9,1322.3 1862.9,1322.7 1863.9,1323.4 1864.9,1324.2 1865.3,1323.7 1865.9,1323.7 1866.9,1324.1 1867.9,1323.2 1868.9,1323.5 1869.2,1323.2 1869.9,1323.6 1870.9,1323.0 1871.9,1322.6 1872.9,1323.1 1873.9,1323.0 1874.2,1322.9 1874.9,1323.6 1875.9,1323.3 1876.9,1324.0 1877.9,1323.5 1878.2,1323.7 1878.9,1322.8 1879.9,1322.5 1880.9,1322.7 1881.9,1323.1 1882.1,1322.8 1882.9,1322.8 1883.9,1322.2 1884.9,1320.8 1885.9,1320.5 1886.1,1321.2 1886.9,1321.6 1887.9,1321.2 1888.9,1321.5 1889.9,1322.2 1890.1,1322.9 1890.9,1322.6 1891.9,1322.5 1892.9,1322.2 1893.9,1321.8 1894.0,1321.9 1894.9,1321.0 1895.9,1320.5 1896.0,1321.0 1896.9,1322.0 1897.9,1322.4 1898.9,1322.4 1899.0,1322.2 1899.9,1321.3 1900.9,1321.7 1901.9,1321.9 1902.9,1321.8 1903.9,1320.6 1904.0,1320.8 1904.9,1320.9 1905.9,1322.1 1906.9,1321.0 1907.9,1321.7 1908.9,1322.4 1908.9,1322.2 1909.9,1322.2 1910.9,1323.2 1911.9,1323.7 1912.9,1323.7 1912.9,1323.6 1913.9,1324.5 1914.9,1324.7 1915.9,1324.8 1916.8,1324.3 1916.9,1323.7 1917.9,1324.8 1918.9,1324.6 1919.9,1324.6 1920.9,1325.8 1921.8,1326.6 1921.9,1325.5 1922.9,1326.3 1923.9,1326.1 1924.9,1326.7 1925.8,1326.9 1925.9,1327.3 1926.9,1328.3 1927.9,1329.4 1928.9,1330.1 1929.7,1330.4 1929.9,1330.0 1930.9,1329.1 1931.9,1328.9 1932.9,1328.8 1933.7,1328.9 1933.9,1329.1 1934.9,1329.5 1935.9,1329.7 1936.9,1329.8 1937.9,1329.4 1938.7,1330.6 1938.9,1329.8 1939.9,1330.4 1940.9,1330.3 1941.9,1329.5 1942.9,1328.5 1943.6,1328.7 1943.9,1329.4 1944.9,1328.4 1945.9,1329.3 1946.9,1328.6 1947.9,1327.8 1948.6,1328.3 1948.9,1327.6 1949.9,1328.1 1950.9,1328.2 1951.9,1326.9 1952.5,1326.7 1952.9,1326.4 1953.9,1326.7 1954.9,1326.3 1955.9,1326.4 1956.5,1325.8 1956.9,1325.8 1957.9,1324.7 1958.9,1323.8 1959.5,1323.3 1959.9,1322.8 1960.9,1320.7 1961.0,1320.7"/>
<polyline stroke="#4dbeee" points="276.0,859.3 277.0,867.8 277.0,866.9 278.0,873.7 278.2,874.8 279.0,878.0 279.4,881.6 280.0,885.0 280.5,887.5 281.0,891.8 281.5,894.6 282.0,897.6 282.6,901.8 283.0,904.5 283.6,908.7 284.0,910.5 284.6,915.2 285.0,916.8 285.7,921.7 286.0,923.9 286.7,928.2 287.0,930.2 287.8,936.1 288.0,936.8 288.6,942.4 289.0,944.6 289.8,951.6 290.0,952.8 290.7,960.6 291.0,962.9 292.0,969.0 292.2,970.9 293.0,974.5 294.0,979.2 294.2,980.4 295.0,982.9 296.0,986.8 296.7,989.7 297.0,990.6 298.0,993.9 299.0,997.9 299.7,999.2 300.0,999.9 301.0,1002.9 302.0,1005.6 303.0,1009.4 303.1,1010.1 304.0,1011.7 305.0,1014.2 306.0,1015.9 306.6,1017.2 307.0,1017.6 308.0,1019.4 309.0,1020.2 310.0,1022.0 311.0,1023.2 311.6,1024.4 312.0,1025.0 313.0,1025.5 314.0,1025.5 315.0,1026.9 316.0,1027.9 316.5,1028.1 317.0,1027.7 318.0,1028.3 319.0,1029.5 320.0,1030.3 321.0,1030.6 321.5,1031.2 322.0,1031.3 323.0,1032.5 324.0,1032.4 325.0,1034.1 326.0,1034.8 326.4,1034.2 327.0,1034.9 328.0,1036.0 329.0,1037.7 330.0,1038.4 331.0,1038.6 331.4,1040.0 332.0,1040.0 333.0,1042.0 334.0,1042.4 335.0,1043.3 336.0,1044.8 336.4,1045.4 337.0,1045.9 338.0,1046.8 339.0,1047.1 339.3,1047.6 340.0,1047.5 341.0,1049.1 342.0,1048.6 343.0,1048.6 344.0,1048.8 344.3,1049.5 345.0,1048.6 346.0,1048.9 347.0,1049.6 348.0,1049.4 349.0,1049.7 349.2,1049.9 350.0,1049.1 351.0,1049.7 352.0,1049.7 353.0,1049.7 354.0,1049.2 354.2,1049.5 355.0,1048.6 356.0,1049.0 357.0,1049.7 358.0,1049.9 359.0,1050.1 359.2,1049.9 360.0,1049.7 361.0,1050.5 362.0,1050.7 363.0,1051.7 364.0,1051.5 364.1,1052.3 365.0,1052.2 366.0,1052.3 367.0,1052.9 368.0,1053.5 369.0,1053.0 369.1,1052.7 370.0,1054.0 371.0,1053.3 372.0,1054.4 373.0,1054.0 374.0,1054.0 374.0,1054.7 375.0,1053.9 376.0,1055.2 377.0,1054.7 378.0,1055.7 379.0,1056.2 379.0,1056.1 380.0,1055.7 381.0,1057.0 382.0,1056.8 383.0,1056.8 383.9,1057.3 384.0,1056.9 385.0,1058.4 386.0,1059.0 387.0,1059.9 388.0,1061.1 388.9,1061.3 389.0,1060.7 390.0,1062.2 391.0,1062.3 392.0,1063.7 392.9,1064.3 393.0,1064.2 394.0,1064.8 395.0,1064.4 396.0,1065.1 396.8,1065.2 397.0,1065.2 398.0,1064.9 399.0,1064.9 400.0,1065.7 400.8,1065.7 401.0,1065.1 402.0,1064.8 403.0,1063.3 404.0,1063.2 404.8,1063.3 405.0,1063.4 406.0,1061.6 407.0,1062.3 408.0,1061.6 408.7,1059.9 409.0,1060.2 410.0,1060.5 411.0,1059.3 412.0,1058.6 413.0,1058.8 413.7,1058.5 414.0,1058.7 415.0,1057.8 416.0,1058.0 417.0,1057.4 418.0,1058.3 418.6,1058.1 419.0,1058.2 420.0,1057.3 421.0,1057.5 422.0,1058.6 423.0,1058.3 423.6,1058.9 424.0,1058.8 425.0,1058.2 426.0,1058.7 427.0,1059.8 428.0,1059.5 428.6,1059.9 429.0,1060.2 430.0,1059.5 431.0,1059.7 432.0,1060.3 433.0,1059.7 433.5,1060.2 434.0,1060.2 435.0,1059.5 436.0,1059.3 437.0,1060.0 438.0,1059.7 438.5,1059.3 439.0,1059.0 440.0,1059.1 441.0,1058.0 442.0,1057.1 443.0,1057.0 443.4,1056.7 444.0,1056.7 445.0,1056.0 446.0,1055.9 447.0,1055.0 448.0,1055.5 448.4,1055.7 449.0,1055.5 450.0,1055.6 451.0,1055.8 452.0,1055.1 453.0,1054.9 453.4,1055.4 454.0,1054.7 455.0,1055.0 456.0,1055.5 457.0,1054.8 458.0,1056.2 459.0,1056.3 460.0,1055.8 460.0,1056.0 461.0,1056.1 462.0,1056.8 463.0,1056.9 464.0,1057.8 464.8,1058.0 465.0,1058.4 466.0,1059.3 467.0,1060.1 468.0,1059.6 469.0,1060.2 470.0,1061.4 471.0,1062.4 472.0,1062.4 472.7,1062.7 473.0,1063.3 474.0,1062.7 475.0,1062.7 476.0,1063.8 477.0,1064.2 478.0,1063.9 479.0,1065.0 479.7,1065.1 480.0,1065.5 481.0,1065.3 482.0,1065.4 483.0,1066.1 484.0,1066.6 485.0,1067.2 486.0,1068.1 486.6,1067.9 487.0,1069.0 488.0,1068.2 489.0,1069.5 490.0,1068.9 491.0,1070.2 492.0,1069.5 493.0,1070.3 493.5,1070.1 494.0,1070.8 495.0,1070.9 496.0,1071.3 497.0,1071.1 498.0,1070.9 499.0,1071.4 499.5,1072.2 500.0,1071.8 501.0,1071.4 502.0,1071.4 503.0,1072.1 504.0,1072.6 505.0,1072.5 506.0,1072.7 507.0,1071.8 507.4,1072.4 508.0,1072.1 509.0,1071.8 510.0,1072.6 511.0,1072.3 512.0,1071.4 513.0,1072.1 513.4,1070.9 514.0,1071.5 515.0,1070.4 516.0,1069.8 517.0,1070.1 518.0,1069.3 519.0,1068.6 519.3,1068.3 520.0,1068.0 521.0,1067.8 522.0,1067.2 523.0,1066.3 524.0,1066.2 525.0,1065.5 525.3,1065.0 526.0,1064.8 527.0,1065.8 528.0,1065.0 529.0,1065.1 530.0,1064.5 531.0,1064.9 531.2,1065.3 532.0,1065.3 533.0,1065.5 534.0,1065.7 535.0,1065.2 536.0,1065.5 537.0,1065.9 537.2,1066.7 538.0,1067.1 539.0,1067.4 540.0,1067.3 541.0,1067.4 542.0,1066.8 543.0,1066.7 543.1,1067.7 544.0,1067.1 545.0,1067.7 546.0,1068.0 547.0,1066.9 548.0,1068.0 549.0,1067.4 549.1,1067.7 550.0,1067.4 551.0,1067.7 552.0,1067.3 553.0,1067.5 554.0,1067.0 555.0,1066.9 555.0,1066.9 556.0,1066.3 557.0,1066.3 558.0,1066.2 559.0,1065.5 560.0,1065.2 561.0,1065.5 561.0,1065.6 562.0,1065.4 563.0,1066.5 564.0,1066.1 565.0,1066.6 566.0,1067.4 566.9,1067.5 567.0,1067.0 568.0,1067.3 569.0,1067.0 570.0,1067.3 571.0,1068.3 572.0,1067.9 572.9,1069.1 573.0,1068.3 574.0,1068.7 575.0,1069.7 576.0,1069.0 577.0,1070.1 578.0,1069.3 578.8,1070.1 579.0,1070.0 580.0,1069.8 581.0,1070.0 582.0,1070.8 583.0,1069.9 584.0,1070.0 584.8,1070.3 585.0,1070.3 586.0,1070.3 587.0,1070.4 588.0,1070.4 589.0,1069.9 590.0,1070.3 590.7,1070.3 591.0,1070.8 592.0,1070.2 593.0,1070.2 594.0,1070.6 595.0,1071.5 596.0,1071.2 596.7,1071.2 597.0,1071.5 598.0,1071.0 599.0,1071.5 600.0,1072.6 601.0,1072.1 602.0,1072.5 602.6,1071.9 603.0,1071.8 604.0,1072.8 605.0,1071.3 606.0,1072.0 607.0,1070.9 608.0,1071.3 608.6,1071.0 609.0,1070.4 610.0,1070.2 611.0,1070.4 612.0,1069.3 613.0,1068.9 614.0,1067.3 614.5,1068.3 615.0,1067.5 616.0,1067.4 617.0,1066.9 618.0,1066.3 619.0,1066.1 619.5,1066.7 620.0,1067.2 621.0,1067.4 622.0,1068.2 623.0,1068.1 624.0,1068.2 624.4,1068.8 625.0,1068.5 626.0,1069.1 627.0,1069.8 628.0,1071.0 628.4,1071.8 629.0,1071.4 630.0,1071.6 631.0,1071.9 632.0,1071.3 633.0,1072.4 633.4,1072.7 634.0,1071.1 635.0,1071.6 636.0,1070.4 637.0,1069.5 637.3,1068.6 638.0,1068.7 639.0,1067.7 640.0,1066.9 640.0,1065.9 641.0,1064.7 641.5,1064.9 642.0,1064.4 643.0,1062.2 644.0,1061.2 644.5,1059.9 645.0,1060.1 646.0,1059.0 647.0,1056.6 647.4,1056.2 648.0,1056.7 649.0,1055.2 650.0,1055.5 651.0,1054.7 651.4,1054.8 652.0,1054.6 653.0,1055.8 654.0,1056.1 655.0,1056.4 655.4,1056.0 656.0,1057.0 657.0,1057.3 658.0,1056.7 659.0,1056.2 659.3,1056.7 660.0,1056.7 661.0,1056.4 662.0,1055.8 663.0,1054.6 663.3,1054.3 664.0,1053.7 665.0,1052.7 666.0,1051.1 666.3,1050.6 667.0,1049.2 668.0,1048.1 668.8,1046.2 669.0,1045.7 670.0,1043.1 670.4,1042.7"/>
<polyline stroke="#4dbeee" points="772.4,1128.3 772.5,1138.3 772.9,1131.3 773.2,1134.3 774.2,1137.6 774.9,1140.1 775.2,1140.6 776.2,1141.7 777.2,1142.9 777.9,1142.5 778.2,1142.9 779.2,1144.0 780.2,1144.9 781.2,1145.0 781.8,1146.3 782.2,1145.8 783.2,1146.9 784.2,1147.4 785.2,1147.4 785.8,1147.9 786.2,1148.3 787.2,1148.2 788.2,1148.0 789.2,1149.0 789.8,1148.3 790.2,1148.3 791.2,1148.1 792.2,1149.3 793.2,1149.1 794.2,1149.1 794.7,1148.9 795.2,1148.5 796.2,1148.4 797.2,1149.2 798.2,1149.7 799.2,1150.0 799.7,1148.8 800.2,1148.8 801.2,1148.9 802.2,1149.1 803.2,1150.0 804.2,1150.0 804.6,1150.2 805.2,1149.8 806.2,1149.9 807.2,1151.3 808.2,1151.8 809.2,1151.0 809.6,1151.1 810.2,1151.2 811.2,1151.7 812.2,1152.4 813.2,1152.6 814.2,1152.2 814.5,1152.1 815.2,1152.8 816.2,1153.5 817.2,1153.7 818.2,1152.5 819.2,1152.7 819.5,1152.7 820.2,1153.3 821.2,1153.3 822.2,1153.7 823.2,1153.2 824.2,1154.0 824.5,1153.8 825.2,1153.0 826.2,1153.7 827.2,1153.1 828.2,1152.0 829.2,1152.9 829.4,1152.7 830.2,1152.6 831.2,1152.1 832.2,1151.5 833.2,1151.7 834.2,1151.3 834.4,1150.4 835.2,1150.8 836.2,1150.6 837.2,1150.2 838.2,1150.5 839.2,1149.7 839.3,1150.7 840.2,1150.2 841.2,1149.6 842.2,1149.8 843.2,1149.6 844.2,1150.0 844.3,1149.9 845.2,1150.1 846.2,1150.5 847.2,1151.0 848.2,1152.3 849.2,1151.5 849.2,1152.7 850.2,1152.3 851.2,1153.0 852.2,1153.2 853.2,1154.5 854.2,1155.6 855.2,1155.7 856.2,1155.3 857.2,1156.5 858.2,1156.5 859.2,1157.0 859.2,1157.1 860.2,1158.2 861.2,1158.0 862.2,1159.3 863.2,1159.3 864.1,1159.3 864.2,1159.1 865.2,1160.2 866.2,1159.9 867.2,1160.4 868.1,1159.6 868.2,1160.2 869.2,1160.3 870.2,1159.5 871.2,1160.0 872.0,1159.3 872.2,1158.7 873.2,1158.9 874.2,1157.8 875.2,1157.3 876.0,1157.2 876.2,1157.0 877.2,1155.7 878.2,1155.0 879.2,1154.8 880.0,1154.1 880.2,1153.1 881.2,1153.5 882.2,1152.6 883.2,1151.6 884.0,1150.7 884.2,1151.5 885.2,1150.8 886.2,1150.3 887.2,1149.8 887.9,1150.0 888.2,1149.5 889.2,1149.6 890.2,1148.9 891.2,1148.3 891.9,1148.4 892.2,1148.2 893.2,1149.3 894.2,1148.6 895.2,1148.5 895.9,1149.7 896.2,1149.5 897.2,1149.0 898.2,1149.4 899.2,1150.8 899.8,1151.3 900.2,1151.2 901.2,1151.5 902.2,1151.6 903.2,1151.4 903.8,1152.7 904.2,1152.7 905.2,1152.2 906.2,1151.5 907.2,1152.7 908.2,1152.3 908.7,1152.6 909.2,1151.9 910.2,1151.4 911.2,1152.5 912.2,1151.4 913.2,1152.3 913.7,1151.8 914.2,1151.8 915.2,1151.7 916.2,1151.7 917.2,1150.3 918.2,1150.2 918.6,1150.8 919.2,1150.2 920.2,1150.7 921.2,1151.0 922.2,1150.6 923.2,1149.9 923.6,1150.6 924.2,1150.9 925.2,1150.3 926.2,1150.2 927.2,1150.7 928.2,1150.4 928.6,1150.7 929.2,1150.8 930.2,1150.5 931.2,1151.6 932.2,1151.3 933.2,1151.9 933.5,1151.7 934.2,1151.7 935.2,1152.3 936.2,1151.6 937.2,1152.1 938.2,1151.7 938.5,1152.5 939.2,1152.1 940.0,1152.8 940.2,1152.4 941.2,1152.4 942.2,1152.5 943.2,1151.5 944.2,1152.4 945.0,1152.7 945.2,1152.4 946.2,1152.1 947.2,1152.2 948.2,1151.5 949.2,1151.7 949.9,1150.8 950.2,1151.2 951.2,1151.5 952.2,1151.6 953.2,1151.0 954.2,1150.5 954.9,1151.3 955.2,1151.1 956.2,1151.1 957.2,1150.1 958.2,1151.5 959.2,1151.3 959.8,1150.2 960.2,1151.3 961.2,1150.0 962.2,1150.7 963.2,1150.2 964.2,1150.9 964.8,1150.3 965.2,1151.0 966.2,1150.4 967.2,1150.3 968.2,1149.6 969.2,1149.3 969.8,1149.2 970.2,1150.2 971.2,1150.0 972.2,1149.1 973.2,1148.2 974.2,1148.3 974.7,1148.2 975.2,1148.3 976.2,1147.9 977.2,1148.0 978.2,1147.8 979.2,1147.1 979.7,1147.1 980.2,1147.4 981.2,1146.2 982.2,1145.8 983.2,1145.7 984.2,1145.8 984.6,1145.2 985.2,1146.0 986.2,1145.7 987.2,1144.1 988.2,1143.6 989.2,1143.7 989.6,1143.6 990.2,1142.7 991.2,1142.8 992.2,1142.3 993.2,1142.3 993.5,1142.6 994.2,1142.3 995.2,1142.0 996.2,1142.4 996.5,1142.4 997.2,1142.8 998.2,1142.5 999.2,1142.5 1000.2,1143.0 1000.5,1142.8 1001.2,1143.3 1002.2,1143.2 1003.2,1144.0 1004.2,1144.8 1004.5,1144.9 1005.2,1144.1 1006.2,1144.5 1007.2,1145.6 1008.2,1145.1 1009.2,1146.1 1009.4,1145.4 1010.2,1145.7 1011.2,1146.0 1012.2,1146.3 1013.2,1147.5 1014.2,1147.6 1014.4,1147.2 1015.2,1147.8 1016.2,1147.9 1017.2,1148.3 1018.2,1148.1 1019.2,1149.0 1019.3,1149.3 1020.2,1149.8 1021.2,1149.8 1022.2,1149.1 1023.2,1149.7 1024.2,1150.8 1024.3,1150.8 1025.2,1150.5 1026.2,1151.0 1027.2,1150.2 1028.2,1150.5 1029.2,1150.4 1029.2,1150.7 1030.2,1151.3 1031.2,1150.1 1032.2,1151.2 1033.2,1150.7 1034.2,1150.9 1035.2,1150.3 1036.2,1150.7 1037.2,1149.6 1038.2,1150.2 1039.2,1148.9 1039.2,1150.0 1040.2,1148.5 1041.2,1149.5 1042.2,1148.9 1043.2,1148.7 1044.1,1148.7 1044.2,1148.6 1045.2,1147.9 1046.2,1147.7 1047.2,1147.2 1048.2,1147.7 1049.1,1147.3 1049.2,1147.3 1050.2,1147.1 1051.2,1146.3 1052.2,1146.2 1053.2,1146.3 1054.0,1145.7 1054.2,1145.4 1055.2,1145.1 1056.2,1145.5 1057.2,1145.7 1058.2,1144.4 1059.0,1144.1 1059.2,1144.7 1060.2,1143.2 1061.2,1143.0 1062.0,1141.0 1062.2,1141.2 1063.2,1140.8 1064.2,1139.8 1064.4,1140.1 1065.2,1140.5 1066.2,1141.2 1066.9,1142.3 1067.2,1141.3 1068.2,1143.1 1069.2,1144.0 1069.9,1143.9 1070.2,1144.5 1071.2,1144.1 1072.2,1144.8 1073.2,1144.1 1073.9,1144.2 1074.2,1145.0 1075.2,1144.0 1076.2,1144.8 1077.2,1144.5 1078.2,1144.2 1078.8,1145.2 1079.2,1144.9 1080.2,1144.5 1081.2,1143.4 1082.2,1143.0 1083.2,1142.3 1083.8,1143.0 1084.2,1141.9 1085.2,1142.0 1086.2,1141.2 1087.2,1141.6 1088.2,1140.9 1088.7,1141.4 1089.2,1140.6 1090.2,1140.2 1091.2,1139.6 1092.2,1137.9 1093.2,1137.3 1093.7,1136.7 1094.2,1137.5 1095.2,1136.6 1096.2,1136.1 1097.2,1135.8 1098.2,1134.9 1098.7,1134.8 1099.2,1134.0 1100.0,1132.6 1100.2,1132.1 1101.2,1131.4 1102.2,1132.2 1103.2,1131.3 1104.0,1130.4 1104.2,1130.8 1105.2,1130.6 1106.2,1129.5 1107.2,1129.0 1107.9,1129.3 1108.2,1129.1 1109.2,1129.4 1110.2,1128.3 1111.2,1128.2 1111.9,1129.1 1112.2,1129.0 1113.2,1128.2 1114.2,1128.2 1115.2,1128.0 1115.9,1129.0 1116.2,1128.1 1117.2,1128.1 1118.2,1128.6 1119.2,1128.3 1119.8,1127.7 1120.2,1128.0 1121.2,1127.5 1122.2,1127.5 1123.2,1125.9 1123.8,1126.1 1124.2,1125.8 1125.2,1125.8 1126.2,1124.8 1127.2,1123.9 1127.8,1123.6 1128.2,1122.7 1129.2,1121.3 1130.2,1120.7 1131.2,1120.0 1131.7,1119.9 1132.2,1119.0 1133.2,1118.4 1134.2,1116.3 1135.2,1115.4 1135.7,1114.9 1136.2,1114.6 1137.2,1113.7 1138.2,1113.5 1139.2,1112.6 1139.7,1112.0 1140.2,1112.6 1141.2,1112.6 1142.2,1112.0 1143.2,1112.0 1143.6,1111.7 1144.2,1110.6 1145.2,1111.0 1146.2,1111.1 1147.2,1111.3 1147.6,1111.8 1148.2,1110.9 1149.2,1111.8 1150.2,1111.6 1151.2,1112.3 1151.6,1112.2 1152.2,1113.0 1153.2,1113.9 1154.2,1114.4 1155.2,1116.1 1155.5,1115.0 1156.2,1116.4 1157.2,1117.2 1158.2,1117.4 1159.2,1118.8 1159.5,1118.8 1160.2,1118.8 1161.2,1119.7 1162.2,1120.4 1163.2,1121.5 1163.5,1120.7 1164.2,1121.0 1165.2,1121.9 1166.2,1121.4 1167.2,1122.6 1167.4,1123.1 1168.2,1122.6 1169.2,1122.3 1170.2,1123.2 1171.2,1122.1 1171.4,1122.8 1172.2,1122.2 1173.2,1121.7 1174.2,1122.0 1175.2,1121.8 1175.4,1122.0 1176.2,1121.3 1177.2,1120.6 1178.2,1120.5 1179.2,1119.4 1179.3,1119.2 1180.2,1119.8 1181.2,1119.9 1182.2,1118.9 1183.2,1119.2 1183.3,1118.6 1184.2,1119.6 1185.2,1119.9 1186.2,1119.2 1187.2,1119.7 1187.3,1119.8 1188.2,1119.8 1189.2,1119.5 1190.2,1119.5 1191.2,1119.5 1191.2,1120.6 1192.2,1119.9 1193.2,1119.6 1194.2,1120.3 1195.2,1120.2 1195.2,1119.6 1196.2,1119.9 1197.2,1120.1 1198.2,1120.0 1199.2,1119.8 1199.2,1121.1 1200.2,1119.9 1201.2,1120.3 1202.2,1119.9 1203.1,1119.8 1203.2,1120.3 1204.2,1119.4 1205.2,1120.0 1206.2,1119.0 1207.1,1119.7 1207.2,1119.4 1208.2,1119.6 1209.2,1119.2 1210.2,1119.5 1211.1,1119.5 1211.2,1118.7 1212.2,1119.2 1213.2,1119.0 1214.2,1118.2 1215.0,1118.2 1215.2,1118.7 1216.2,1118.3 1217.2,1118.2 1218.2,1117.5 1219.0,1117.4 1219.2,1116.3 1220.2,1116.9 1221.2,1115.8 1222.2,1115.5 1223.0,1116.3 1223.2,1115.6 1224.2,1115.2 1225.2,1114.1 1226.2,1113.7 1226.9,1113.7 1227.2,1113.5 1228.2,1112.6 1229.2,1112.3 1230.2,1111.1 1230.9,1110.6 1231.2,1111.0 1232.2,1109.5 1233.2,1109.1 1234.2,1107.5 1234.8,1107.5 1235.2,1107.0 1236.2,1105.6 1237.2,1104.7 1237.8,1103.6 1238.2,1103.8 1239.2,1103.9 1240.2,1103.1 1241.2,1102.4 1241.8,1101.9 1242.2,1103.0 1243.2,1102.3 1244.2,1102.4 1245.2,1101.6 1245.8,1102.5 1246.2,1102.2 1247.2,1101.7 1248.2,1101.5 1248.7,1101.5 1249.2,1101.5 1250.2,1101.0 1250.9,1099.9 1251.2,1107.9"/>
<polyline stroke="#4dbeee" points="1610.9,1287.1 1611.9,1289.4 1612.9,1291.1 1613.9,1294.1 1614.9,1295.4 1614.9,1296.2 1615.9,1295.9 1616.9,1296.6 1617.9,1297.0 1618.9,1296.2 1619.8,1297.7 1619.9,1296.5 1620.9,1298.0 1621.9,1297.2 1622.9,1298.6 1623.9,1298.6 1624.8,1298.9 1624.9,1299.0 1625.9,1299.7 1626.9,1299.2 1627.9,1300.1 1628.9,1299.2 1629.8,1299.7 1629.9,1300.2 1630.9,1300.3 1631.9,1300.8 1632.9,1300.8 1633.9,1300.3 1634.7,1300.5 1634.9,1300.7 1635.9,1300.9 1636.9,1302.2 1637.9,1302.7 1638.9,1302.6 1639.7,1303.0 1639.9,1302.3 1640.9,1303.8 1641.9,1303.7 1642.9,1303.6 1643.9,1304.8 1644.6,1304.7 1644.9,1304.2 1645.9,1305.2 1646.9,1305.2 1647.9,1305.5 1648.9,1306.2 1649.6,1307.0 1649.9,1307.5 1650.9,1306.8 1651.9,1307.5 1652.9,1308.3 1653.9,1307.9 1654.5,1309.1 1654.9,1308.7 1655.9,1309.2 1656.9,1308.6 1657.9,1309.6 1658.9,1309.5 1659.5,1309.6 1659.9,1310.2 1660.9,1310.8 1661.9,1310.0 1662.9,1310.9 1663.9,1310.9 1664.5,1311.1 1664.9,1310.7 1665.9,1311.4 1666.9,1310.9 1667.9,1311.3 1668.9,1311.6 1669.4,1312.2 1669.9,1312.2 1670.9,1312.6 1671.9,1311.9 1672.9,1313.0 1673.9,1312.0 1674.4,1312.3 1674.9,1313.0 1675.9,1312.1 1676.9,1312.9 1677.9,1312.1 1678.9,1311.9 1679.3,1312.6 1679.9,1312.9 1680.9,1312.5 1681.9,1312.2 1682.9,1312.7 1683.9,1311.8 1684.3,1312.6 1684.9,1312.2 1685.9,1311.3 1686.9,1310.8 1687.9,1311.8 1688.9,1311.5 1689.2,1310.9 1689.9,1310.9 1690.9,1310.5 1691.9,1311.0 1692.9,1310.3 1693.9,1310.1 1694.2,1310.1 1694.9,1310.3 1695.9,1310.1 1696.9,1309.2 1697.9,1309.3 1698.9,1309.5 1699.2,1308.9 1699.9,1309.7 1700.9,1309.0 1701.9,1308.7 1702.9,1309.0 1703.9,1309.8 1704.1,1309.2 1704.9,1308.6 1705.9,1309.2 1706.9,1309.3 1707.9,1308.6 1708.9,1309.2 1709.1,1309.3 1709.9,1309.0 1710.9,1309.4 1711.9,1310.2 1712.9,1309.9 1713.9,1309.9 1714.0,1310.1 1714.9,1310.0 1715.9,1310.3 1716.9,1311.1 1717.9,1311.3 1718.9,1310.7 1719.0,1311.6 1719.9,1310.8 1720.9,1311.9 1721.9,1312.7 1722.9,1312.6 1723.9,1312.7 1724.0,1313.0 1724.9,1312.7 1725.9,1313.1 1726.9,1313.8 1727.9,1313.5 1728.9,1313.8 1728.9,1314.2 1729.9,1314.5 1730.9,1314.0 1731.9,1314.5 1732.9,1314.4 1733.9,1315.3 1733.9,1314.2 1734.9,1314.6 1735.9,1315.4 1736.9,1314.8 1737.9,1315.4 1738.8,1316.3 1738.9,1315.7 1739.9,1316.6 1740.9,1316.0 1741.9,1316.8 1742.9,1316.6 1743.8,1317.3 1743.9,1316.7 1744.9,1317.6 1745.9,1316.5 1746.9,1317.2 1747.9,1317.0 1748.7,1317.7 1748.9,1317.3 1749.9,1317.2 1750.9,1318.6 1751.9,1318.0 1752.9,1318.1 1753.7,1318.2 1753.9,1319.2 1754.9,1318.3 1755.9,1318.3 1756.9,1319.1 1757.9,1319.8 1758.7,1319.7 1758.9,1319.2 1759.9,1318.8 1760.9,1319.2 1761.9,1320.3 1762.9,1320.1 1763.6,1319.5 1763.9,1320.5 1764.9,1320.7 1765.9,1320.6 1766.9,1320.5 1767.9,1320.2 1768.6,1320.8 1768.9,1320.3 1769.9,1320.5 1770.9,1320.6 1771.9,1320.5 1772.9,1321.6 1773.5,1321.7 1773.9,1321.1 1774.9,1321.9 1775.9,1320.6 1776.9,1320.8 1777.9,1322.0 1778.5,1320.9 1778.9,1322.1 1779.9,1321.6 1780.0,1322.2 1780.9,1321.0 1781.9,1321.4 1782.9,1321.0 1783.9,1321.4 1784.9,1321.7 1785.0,1321.4 1785.9,1321.5 1786.9,1320.6 1787.9,1320.2 1788.9,1319.8 1789.9,1319.7 1789.9,1320.2 1790.9,1319.4 1791.9,1318.4 1792.9,1318.3 1793.9,1318.5 1794.9,1318.5 1794.9,1318.2 1795.9,1317.3 1796.9,1317.2 1797.9,1317.3 1798.9,1317.1 1799.8,1316.6 1799.9,1316.5 1800.9,1316.2 1801.9,1315.4 1802.9,1315.2 1803.9,1314.2 1804.8,1313.8 1804.9,1314.0 1805.9,1314.2 1806.9,1313.0 1807.9,1313.5 1808.9,1313.0 1809.8,1312.7 1809.9,1312.8 1810.9,1312.2 1811.9,1312.3 1812.9,1312.1 1813.9,1310.9 1814.7,1311.2 1814.9,1311.0 1815.9,1309.9 1816.9,1310.6 1817.9,1310.3 1818.9,1310.1 1819.7,1308.9 1819.9,1308.7 1820.9,1308.4 1821.9,1307.9 1822.9,1307.2 1823.9,1307.8 1824.6,1306.8 1824.9,1307.4 1825.9,1306.4 1826.9,1305.6 1827.9,1305.1 1828.9,1305.3 1829.6,1305.0 1829.9,1304.6 1830.9,1304.9 1831.9,1305.1 1832.9,1305.3 1833.9,1304.5 1834.5,1305.4 1834.9,1305.0 1835.9,1305.0 1836.9,1305.3 1837.9,1305.3 1838.9,1304.5 1839.5,1305.5 1839.9,1305.1 1840.9,1305.7 1841.9,1305.5 1842.5,1306.5 1842.9,1306.0 1843.9,1306.3 1844.9,1305.8 1845.9,1305.7 1846.9,1305.1 1847.4,1305.3 1847.9,1304.7 1848.9,1304.4 1849.9,1304.8 1850.9,1305.5 1851.4,1305.3 1851.9,1304.9 1852.9,1305.8 1853.9,1306.2 1854.9,1306.0 1855.9,1306.1 1856.3,1306.9 1856.9,1307.0 1857.9,1306.6 1858.9,1306.1 1859.9,1306.5 1860.9,1306.0 1861.3,1306.6 1861.9,1305.9 1862.9,1306.9 1863.9,1306.8 1864.9,1307.3 1865.3,1307.1 1865.9,1307.8 1866.9,1308.2 1867.9,1307.3 1868.9,1307.3 1869.2,1306.9 1869.9,1308.0 1870.9,1306.8 1871.9,1307.5 1872.9,1307.7 1873.9,1306.8 1874.2,1306.7 1874.9,1307.4 1875.9,1307.2 1876.9,1308.0 1877.9,1307.7 1878.2,1307.8 1878.9,1307.4 1879.9,1307.0 1880.9,1307.4 1881.9,1306.7 1882.1,1306.8 1882.9,1306.5 1883.9,1305.4 1884.9,1306.0 1885.9,1305.2 1886.1,1305.0 1886.9,1304.7 1887.9,1305.6 1888.9,1306.1 1889.9,1306.2 1890.1,1305.7 1890.9,1306.0 1891.9,1306.4 1892.9,1305.4 1893.9,1305.1 1894.0,1304.9 1894.9,1304.6 1895.9,1305.1 1896.0,1304.9 1896.9,1304.7 1897.9,1305.8 1898.9,1305.3 1899.0,1305.5 1899.9,1304.9 1900.9,1305.4 1901.9,1305.6 1902.9,1304.9 1903.9,1304.2 1904.0,1304.4 1904.9,1305.2 1905.9,1305.3 1906.9,1304.3 1907.9,1305.7 1908.9,1305.1 1908.9,1304.7 1909.9,1306.2 1910.9,1305.5 1911.9,1306.7 1912.9,1306.8 1912.9,1307.7 1913.9,1307.4 1914.9,1307.6 1915.9,1307.4 1916.8,1306.8 1916.9,1306.8 1917.9,1306.8 1918.9,1307.4 1919.9,1308.1 1920.9,1308.3 1921.8,1309.1 1921.9,1309.1 1922.9,1309.6 1923.9,1310.0 1924.9,1310.1 1925.8,1309.7 1925.9,1310.6 1926.9,1310.2 1927.9,1311.7 1928.9,1311.7 1929.7,1313.2 1929.9,1312.9 1930.9,1311.4 1931.9,1312.0 1932.9,1310.9 1933.7,1310.7 1933.9,1311.6 1934.9,1311.1 1935.9,1310.9 1936.9,1312.3 1937.9,1312.1 1938.7,1312.8 1938.9,1311.9 1939.9,1312.3 1940.9,1312.2 1941.9,1311.0 1942.9,1311.6 1943.6,1311.0 1943.9,1311.4 1944.9,1311.1 1945.9,1310.3 1946.9,1310.3 1947.9,1309.4 1948.6,1310.2 1948.9,1309.4 1949.9,1309.9 1950.9,1308.8 1951.9,1308.7 1952.5,1308.3 1952.9,1308.7 1953.9,1307.4 1954.9,1307.1 1955.9,1307.1 1956.5,1307.5 1956.9,1306.0 1957.9,1305.4 1958.9,1305.2 1959.5,1304.2 1959.9,1303.5 1960.9,1300.9 1961.0,1300.9"/>
<polyline stroke="#a2142f" points="276.0,878.7 277.0,887.2 277.0,888.0 278.0,893.0 278.2,894.0 279.0,897.8 279.4,900.1 280.0,904.6 280.5,907.6 281.0,910.0 281.5,914.0 282.0,917.0 282.6,921.0 283.0,922.8 283.6,926.8 284.0,929.0 284.6,933.9 285.0,936.4 285.7,940.7 286.0,941.7 286.7,946.9 287.0,948.0 287.8,953.2 288.0,955.3 288.6,959.9 289.0,962.8 289.8,968.7 290.0,971.0 290.7,979.1 291.0,979.7 292.0,986.6 292.2,988.0 293.0,991.3 294.0,996.0 294.2,997.8 295.0,1000.7 296.0,1004.2 296.7,1007.2 297.0,1007.8 298.0,1010.2 299.0,1013.2 299.7,1015.8 300.0,1016.6 301.0,1019.6 302.0,1022.6 303.0,1025.3 303.1,1026.0 304.0,1027.5 305.0,1029.7 306.0,1032.1 306.6,1033.1 307.0,1034.0 308.0,1035.5 309.0,1036.3 310.0,1037.5 311.0,1038.9 311.6,1040.0 312.0,1040.2 313.0,1040.9 314.0,1041.5 315.0,1042.8 316.0,1043.4 316.5,1044.2 317.0,1044.5 318.0,1043.7 319.0,1044.8 320.0,1045.8 321.0,1046.1 321.5,1046.5 322.0,1046.4 323.0,1047.3 324.0,1048.7 325.0,1049.2 326.0,1050.3 326.4,1050.7 327.0,1051.2 328.0,1052.1 329.0,1053.1 330.0,1054.0 331.0,1055.0 331.4,1054.7 332.0,1055.4 333.0,1056.6 334.0,1058.2 335.0,1059.6 336.0,1060.4 336.4,1060.5 337.0,1060.5 338.0,1061.3 339.0,1062.0 339.3,1062.4 340.0,1062.4 341.0,1063.2 342.0,1063.3 343.0,1064.5 344.0,1063.6 344.3,1063.6 345.0,1064.7 346.0,1064.8 347.0,1064.2 348.0,1064.2 349.0,1063.9 349.2,1064.0 350.0,1063.8 351.0,1063.5 352.0,1064.6 353.0,1064.4 354.0,1064.3 354.2,1063.2 355.0,1064.1 356.0,1063.4 357.0,1064.5 358.0,1063.7 359.0,1064.6 359.2,1064.0 360.0,1065.5 361.0,1065.7 362.0,1065.4 363.0,1066.5 364.0,1066.6 364.1,1065.8 365.0,1067.0 366.0,1067.3 367.0,1066.7 368.0,1067.5 369.0,1067.2 369.1,1066.9 370.0,1067.6 371.0,1067.3 372.0,1068.4 373.0,1068.4 374.0,1068.0 374.0,1068.2 375.0,1068.0 376.0,1068.6 377.0,1069.2 378.0,1069.8 379.0,1070.2 379.0,1069.8 380.0,1069.9 381.0,1070.9 382.0,1070.9 383.0,1071.6 383.9,1071.3 384.0,1072.1 385.0,1071.9 386.0,1073.0 387.0,1073.5 388.0,1074.5 388.9,1075.6 389.0,1076.1 390.0,1075.6 391.0,1077.1 392.0,1077.3 392.9,1078.8 393.0,1078.8 394.0,1079.4 395.0,1079.8 396.0,1079.7 396.8,1079.5 397.0,1080.1 398.0,1079.6 399.0,1079.2 400.0,1078.9 400.8,1079.8 401.0,1079.1 402.0,1078.2 403.0,1077.8 404.0,1077.2 404.8,1076.7 405.0,1077.5 406.0,1076.5 407.0,1075.6 408.0,1075.0 408.7,1074.4 409.0,1074.7 410.0,1074.3 411.0,1073.2 412.0,1073.3 413.0,1073.6 413.7,1073.0 414.0,1072.7 415.0,1072.4 416.0,1072.1 417.0,1071.8 418.0,1071.8 418.6,1071.5 419.0,1071.4 420.0,1071.7 421.0,1073.1 422.0,1073.3 423.0,1072.2 423.6,1072.7 424.0,1072.5 425.0,1073.2 426.0,1073.9 427.0,1073.7 428.0,1074.3 428.6,1074.1 429.0,1074.6 430.0,1074.2 431.0,1074.5 432.0,1074.8 433.0,1074.7 433.5,1075.0 434.0,1075.3 435.0,1074.6 436.0,1075.0 437.0,1073.8 438.0,1074.4 438.5,1074.4 439.0,1074.4 440.0,1073.5 441.0,1072.5 442.0,1072.5 443.0,1071.9 443.4,1071.3 444.0,1071.4 445.0,1070.3 446.0,1070.0 447.0,1069.9 448.0,1070.6 448.4,1069.2 449.0,1069.6 450.0,1070.3 451.0,1070.4 452.0,1069.8 453.0,1069.8 453.4,1070.4 454.0,1069.6 455.0,1069.4 456.0,1069.8 457.0,1070.5 458.0,1070.1 459.0,1070.5 460.0,1069.9 460.0,1071.0 461.0,1071.7 462.0,1072.2 463.0,1071.7 464.0,1073.3 464.8,1073.7 465.0,1072.8 466.0,1073.6 467.0,1073.8 468.0,1074.6 469.0,1075.7 470.0,1075.2 471.0,1076.6 472.0,1077.3 472.7,1076.6 473.0,1076.8 474.0,1078.0 475.0,1078.4 476.0,1078.0 477.0,1079.1 478.0,1079.1 479.0,1078.5 479.7,1079.8 480.0,1079.1 481.0,1079.8 482.0,1080.9 483.0,1080.2 484.0,1081.8 485.0,1081.6 486.0,1082.5 486.6,1082.3 487.0,1082.8 488.0,1082.6 489.0,1083.5 490.0,1083.6 491.0,1084.1 492.0,1083.6 493.0,1084.9 493.5,1084.4 494.0,1085.3 495.0,1085.0 496.0,1085.5 497.0,1085.4 498.0,1085.2 499.0,1086.6 499.5,1086.3 500.0,1086.7 501.0,1086.4 502.0,1086.1 503.0,1086.1 504.0,1086.8 505.0,1086.9 506.0,1086.9 507.0,1086.2 507.4,1086.3 508.0,1086.4 509.0,1085.7 510.0,1085.7 511.0,1085.7 512.0,1085.2 513.0,1085.1 513.4,1085.5 514.0,1085.3 515.0,1084.3 516.0,1084.5 517.0,1082.8 518.0,1082.3 519.0,1081.9 519.3,1082.5 520.0,1081.5 521.0,1081.7 522.0,1080.7 523.0,1080.9 524.0,1080.0 525.0,1079.1 525.3,1080.0 526.0,1080.0 527.0,1079.8 528.0,1079.0 529.0,1079.1 530.0,1078.5 531.0,1079.2 531.2,1078.5 532.0,1078.9 533.0,1079.2 534.0,1080.0 535.0,1079.6 536.0,1079.8 537.0,1080.8 537.2,1079.8 538.0,1079.8 539.0,1080.2 540.0,1080.0 541.0,1081.3 542.0,1080.8 543.0,1081.4 543.1,1080.3 544.0,1080.9 545.0,1081.4 546.0,1080.3 547.0,1081.4 548.0,1081.7 549.0,1081.6 549.1,1080.6 550.0,1080.9 551.0,1080.7 552.0,1080.4 553.0,1080.7 554.0,1079.8 555.0,1079.4 555.0,1080.4 556.0,1079.7 557.0,1079.7 558.0,1079.4 559.0,1079.4 560.0,1078.5 561.0,1078.4 561.0,1078.5 562.0,1079.1 563.0,1078.7 564.0,1080.0 565.0,1079.2 566.0,1080.4 566.9,1080.3 567.0,1079.7 568.0,1080.1 569.0,1080.8 570.0,1081.6 571.0,1081.0 572.0,1081.1 572.9,1081.3 573.0,1082.2 574.0,1081.5 575.0,1081.5 576.0,1082.6 577.0,1082.9 578.0,1082.3 578.8,1082.9 579.0,1082.2 580.0,1082.8 581.0,1082.3 582.0,1083.1 583.0,1082.9 584.0,1083.1 584.8,1083.6 585.0,1082.9 586.0,1082.6 587.0,1082.3 588.0,1082.9 589.0,1083.0 590.0,1083.1 590.7,1082.7 591.0,1082.6 592.0,1083.0 593.0,1083.5 594.0,1083.0 595.0,1083.2 596.0,1084.1 596.7,1083.3 597.0,1083.3 598.0,1083.9 599.0,1084.2 600.0,1084.0 601.0,1084.9 602.0,1084.2 602.6,1084.7 603.0,1085.3 604.0,1084.0 605.0,1083.5 606.0,1084.3 607.0,1084.0 608.0,1082.9 608.6,1082.7 609.0,1082.5 610.0,1082.5 611.0,1081.3 612.0,1081.7 613.0,1080.3 614.0,1080.3 614.5,1080.2 615.0,1079.3 616.0,1078.7 617.0,1078.5 618.0,1078.6 619.0,1078.9 619.5,1078.3 620.0,1078.3 621.0,1079.1 622.0,1079.8 623.0,1079.7 624.0,1081.1 624.4,1081.3 625.0,1081.3 626.0,1081.4 627.0,1082.9 628.0,1082.7 628.4,1083.5 629.0,1083.8 630.0,1083.4 631.0,1083.4 632.0,1084.0 633.0,1083.8 633.4,1085.0 634.0,1084.4 635.0,1083.3 636.0,1082.2 637.0,1081.6 637.3,1082.0 638.0,1081.3 639.0,1080.2 640.0,1078.1 640.0,1078.3 641.0,1077.6 641.5,1077.0 642.0,1075.5 643.0,1074.9 644.0,1073.9 644.5,1072.7 645.0,1072.6 646.0,1070.1 647.0,1069.7 647.4,1069.3 648.0,1068.8 649.0,1068.7 650.0,1067.7 651.0,1067.0 651.4,1067.2 652.0,1067.0 653.0,1067.1 654.0,1068.1 655.0,1068.5 655.4,1069.0 656.0,1069.2 657.0,1069.0 658.0,1068.8 659.0,1068.2 659.3,1069.0 660.0,1067.3 661.0,1066.7 662.0,1065.5 663.0,1065.1 663.3,1064.9 664.0,1064.6 665.0,1062.7 666.0,1060.5 666.3,1060.1 667.0,1058.9 668.0,1057.8 668.8,1055.7 669.0,1054.8 670.0,1052.5 670.4,1051.7"/>
<polyline stroke="#a2142f" points="772.4,1031.3 773.4,1035.0 774.4,1036.5 774.9,1036.4 775.4,1036.8 776.4,1038.3 777.4,1038.8 778.3,1040.0 778.4,1040.2 779.4,1039.9 780.4,1041.0 781.3,1041.3 781.4,1041.5 782.4,1042.7 783.4,1042.3 784.4,1043.0 785.4,1043.2 785.8,1043.3 786.4,1043.4 787.4,1043.5 788.4,1044.6 789.4,1044.7 789.8,1044.3 790.4,1044.9 791.4,1045.2 792.4,1044.6 793.4,1045.2 794.4,1044.7 794.7,1045.0 795.4,1045.5 796.4,1046.2 797.4,1047.0 798.4,1047.2 799.4,1047.8 799.7,1048.5 800.4,1048.3 801.4,1049.1 802.4,1049.6 803.4,1050.2 804.4,1049.7 804.6,1049.9 805.4,1050.8 806.4,1050.8 807.4,1051.5 808.4,1051.8 809.4,1053.0 809.6,1052.6 810.4,1052.6 811.4,1053.8 812.4,1053.2 813.4,1053.9 814.4,1054.7 814.5,1054.5 815.4,1055.2 816.4,1055.6 817.4,1055.2 818.4,1055.4 819.4,1056.1 819.5,1055.8 820.4,1055.9 821.4,1055.8 822.4,1056.2 823.4,1056.3 824.4,1055.4 824.5,1055.5 825.4,1055.0 826.4,1054.9 827.4,1054.6 828.4,1054.3 829.4,1054.0 829.4,1054.2 830.4,1053.9 831.4,1052.7 832.4,1052.5 833.4,1052.9 834.4,1052.7 834.4,1051.6 835.4,1051.5 836.4,1051.5 837.4,1051.0 838.3,1050.2 838.4,1051.1 839.4,1050.8 840.4,1050.5 841.4,1050.4 842.3,1050.2 842.4,1050.3 843.4,1051.3 844.4,1051.4 845.4,1050.8 846.4,1051.1 847.3,1050.6 847.4,1051.7 848.4,1051.2 849.4,1052.2 850.4,1052.8 851.4,1052.8 852.2,1053.7 852.4,1052.9 853.4,1053.3 854.4,1053.9 855.4,1054.6 856.2,1055.2 856.4,1055.7 857.4,1056.0 858.4,1056.7 859.4,1057.5 860.1,1059.0 860.4,1059.2 861.4,1059.8 862.4,1060.2 863.4,1060.6 864.1,1060.4 864.4,1060.8 865.4,1060.5 866.4,1059.9 867.4,1060.6 868.1,1060.1 868.4,1059.8 869.4,1059.0 870.4,1059.4 871.4,1059.2 872.0,1058.7 872.4,1058.3 873.4,1058.5 874.4,1057.3 875.4,1057.4 876.0,1056.6 876.4,1055.7 877.4,1055.2 878.4,1055.2 879.0,1053.8 879.4,1053.2 880.4,1053.0 881.4,1051.9 882.0,1051.5 882.4,1051.1 883.4,1050.5 884.4,1050.4 885.4,1049.7 885.4,1049.7 886.4,1049.5 887.4,1049.6 888.4,1049.5 888.9,1050.2 889.4,1050.1 890.4,1049.6 891.4,1050.4 892.4,1050.5 892.9,1050.9 893.4,1050.2 894.4,1050.7 895.4,1051.2 896.4,1052.2 896.8,1052.3 897.4,1052.8 898.4,1052.4 899.4,1052.5 900.4,1053.7 900.8,1053.5 901.4,1053.8 902.4,1053.8 903.4,1053.2 904.4,1053.5 904.8,1053.7 905.4,1053.2 906.4,1052.7 907.4,1052.8 908.4,1052.5 908.7,1052.5 909.4,1052.1 910.4,1051.2 911.4,1051.3 912.4,1050.9 913.4,1051.0 913.7,1050.4 914.4,1050.0 915.4,1049.7 916.4,1049.2 917.4,1049.6 918.4,1049.2 918.6,1049.0 919.4,1048.9 920.4,1047.9 921.4,1048.1 921.6,1048.3 922.4,1048.3 923.4,1048.4 924.4,1048.4 925.4,1048.8 925.6,1048.8 926.4,1048.8 927.4,1049.6 928.4,1050.1 929.4,1050.9 929.6,1050.2 930.4,1051.1 931.4,1051.8 932.4,1051.2 933.4,1052.5 933.5,1051.6 934.4,1051.6 935.4,1052.3 936.4,1052.2 937.4,1052.6 938.4,1053.1 938.5,1052.9 939.4,1053.5 940.0,1053.0 940.4,1053.2 941.4,1052.7 942.4,1052.7 943.4,1052.0 944.4,1052.0 945.0,1052.7 945.4,1052.3 946.4,1051.9 947.4,1050.7 948.4,1051.1 949.4,1050.6 949.9,1050.7 950.4,1050.8 951.4,1049.7 952.4,1050.2 953.4,1049.9 954.4,1050.1 954.9,1049.2 955.4,1050.0 956.4,1049.4 957.4,1049.7 958.4,1048.8 959.4,1048.7 959.8,1049.0 960.4,1049.4 961.4,1049.3 962.4,1049.4 963.4,1049.3 964.4,1049.3 964.8,1049.4 965.4,1049.2 966.4,1050.3 967.4,1049.9 968.4,1050.6 969.4,1049.8 969.8,1049.8 970.4,1050.3 971.4,1050.2 972.4,1050.1 973.4,1049.0 974.4,1049.0 974.7,1048.9 975.4,1049.1 976.4,1048.5 977.4,1047.9 978.4,1047.4 979.4,1047.5 979.7,1048.0 980.4,1047.7 981.4,1046.7 982.4,1046.3 983.4,1044.9 984.4,1045.4 984.6,1045.2 985.4,1044.2 986.4,1043.4 987.4,1043.5 988.4,1043.5 989.4,1042.2 989.6,1043.0 990.4,1042.8 991.4,1042.3 992.4,1042.0 993.4,1042.1 994.4,1041.8 994.5,1042.0 995.4,1042.4 996.4,1042.5 997.4,1042.6 998.4,1041.6 999.4,1042.4 999.5,1042.6 1000.4,1042.2 1001.4,1042.5 1002.4,1042.8 1003.4,1043.0 1003.5,1043.8 1004.4,1043.3 1005.4,1044.7 1006.4,1045.0 1007.4,1045.6 1007.4,1045.9 1008.4,1046.3 1009.4,1046.3 1010.4,1046.6 1011.4,1047.5 1012.4,1047.2 1013.4,1047.9 1014.4,1048.2 1015.4,1048.4 1015.4,1048.1 1016.4,1049.2 1017.4,1048.8 1018.4,1049.1 1019.3,1049.9 1019.4,1050.1 1020.4,1050.0 1021.4,1050.5 1022.4,1050.5 1023.4,1050.5 1024.3,1050.4 1024.4,1050.5 1025.4,1050.5 1026.4,1051.1 1027.4,1051.1 1028.4,1051.0 1029.2,1051.2 1029.4,1051.1 1030.4,1051.8 1031.4,1051.3 1032.4,1052.1 1033.4,1051.9 1034.2,1051.9 1034.4,1052.4 1035.4,1051.4 1036.4,1051.9 1037.4,1051.4 1038.4,1051.9 1039.2,1051.5 1039.4,1051.8 1040.4,1051.6 1041.4,1051.0 1042.4,1050.7 1043.1,1050.0 1043.4,1050.4 1044.4,1050.1 1045.4,1049.1 1046.4,1049.0 1047.1,1049.7 1047.4,1049.0 1048.4,1048.0 1049.4,1048.6 1050.4,1047.8 1051.1,1047.8 1051.4,1047.2 1052.4,1046.9 1053.4,1046.0 1054.4,1045.9 1055.0,1045.4 1055.4,1044.5 1056.4,1044.9 1057.4,1043.8 1058.4,1043.6 1059.0,1043.4 1059.4,1043.5 1060.4,1042.6 1061.4,1042.6 1062.0,1042.6 1062.4,1042.0 1063.4,1041.0 1064.4,1040.9 1064.4,1041.2 1065.4,1041.9 1066.4,1041.8 1066.9,1042.2 1067.4,1042.8 1068.4,1044.0 1069.4,1044.0 1069.9,1044.6 1070.4,1044.4 1071.4,1045.3 1072.4,1045.7 1072.9,1045.0 1073.4,1045.0 1074.4,1045.7 1075.4,1045.7 1076.4,1044.9 1076.8,1044.7 1077.4,1044.7 1078.4,1044.8 1079.4,1044.9 1080.4,1044.2 1080.8,1044.0 1081.4,1043.9 1082.4,1043.3 1083.4,1042.8 1084.4,1041.7 1084.8,1042.0 1085.4,1041.6 1086.4,1040.8 1087.4,1040.1 1088.4,1039.5 1088.7,1039.0 1089.4,1038.7 1090.4,1038.6 1091.4,1038.1 1092.4,1038.0 1092.7,1038.2 1093.4,1037.5 1094.4,1037.2 1095.4,1036.8 1096.4,1036.8 1096.7,1036.4 1097.4,1035.9 1098.4,1036.6 1099.4,1036.0 1100.4,1035.5 1100.6,1035.9 1101.4,1034.8 1102.4,1035.0 1103.4,1034.8 1104.4,1034.5 1104.6,1034.4 1105.4,1034.0 1106.4,1033.9 1107.4,1034.3 1108.4,1033.9 1108.6,1033.7 1109.4,1034.0 1110.4,1032.8 1111.4,1033.0 1112.4,1032.5 1112.5,1032.9 1113.4,1032.8 1114.4,1032.5 1115.4,1031.8 1116.4,1031.1 1116.5,1031.7 1117.4,1030.4 1118.4,1029.7 1119.4,1029.5 1120.4,1028.7 1120.5,1028.5 1121.4,1027.5 1122.4,1027.0 1123.4,1025.9 1124.4,1025.8 1124.4,1025.5 1125.4,1024.7 1126.4,1023.4 1127.4,1021.9 1128.4,1022.0 1128.4,1020.9 1129.4,1021.0 1130.4,1019.4 1131.4,1019.6 1132.4,1018.3 1132.4,1018.3 1133.4,1018.5 1134.4,1017.5 1135.4,1017.0 1136.3,1016.0 1136.4,1016.1 1137.4,1016.5 1138.4,1016.4 1139.4,1015.5 1140.0,1015.0 1140.4,1015.5 1141.4,1015.3 1141.7,1015.0 1142.4,1014.5 1143.4,1014.8 1144.4,1014.4 1145.4,1015.1 1145.6,1015.2 1146.4,1015.1 1147.4,1014.4 1148.4,1015.2 1149.4,1015.6 1149.6,1015.5 1150.4,1015.9 1151.4,1016.2 1152.4,1017.1 1153.4,1017.1 1153.5,1016.8 1154.4,1018.0 1155.4,1018.2 1156.4,1018.0 1157.4,1018.7 1157.5,1019.6 1158.4,1019.2 1159.4,1019.6 1160.4,1020.5 1161.4,1021.0 1161.5,1020.2 1162.4,1020.7 1163.4,1020.9 1164.4,1022.1 1165.4,1022.0 1165.4,1022.2 1166.4,1022.0 1167.4,1022.3 1168.4,1022.1 1169.4,1022.7 1169.4,1023.0 1170.4,1022.9 1171.4,1022.8 1172.4,1022.3 1173.4,1021.8 1173.4,1021.7 1174.4,1021.2 1175.4,1021.6 1176.4,1021.4 1177.3,1020.4 1177.4,1020.6 1178.4,1019.6 1179.4,1019.8 1180.4,1018.7 1181.3,1018.8 1181.4,1018.3 1182.4,1018.3 1183.4,1018.3 1184.4,1018.0 1185.3,1017.8 1185.4,1017.5 1186.4,1017.3 1187.4,1017.9 1188.4,1017.6 1189.2,1017.2 1189.4,1017.7 1190.4,1017.1 1191.4,1017.1 1192.4,1017.4 1193.2,1018.4 1193.4,1017.6 1194.4,1017.7 1195.4,1018.2 1196.4,1018.5 1197.2,1018.4 1197.4,1018.5 1198.4,1018.1 1199.4,1018.1 1200.4,1019.4 1201.1,1019.3 1201.4,1019.0 1202.4,1019.5 1203.4,1019.9 1204.4,1019.2 1205.1,1019.6 1205.4,1019.6 1206.4,1019.9 1207.4,1019.7 1208.4,1020.0 1209.1,1019.2 1209.4,1019.6 1210.4,1019.5 1211.4,1019.0 1212.4,1018.5 1213.4,1019.2 1214.0,1018.2 1214.4,1018.5 1215.4,1018.1 1216.4,1017.0 1217.4,1015.8 1218.0,1016.3 1218.4,1014.9 1219.4,1014.4 1220.4,1014.1 1221.4,1012.2 1222.0,1012.0 1222.4,1011.5 1223.4,1011.8 1224.4,1010.3 1225.4,1009.9 1225.9,1008.9 1226.4,1008.9 1227.4,1007.9 1228.4,1007.9 1229.4,1006.6 1229.9,1007.4 1230.4,1006.2 1231.4,1006.0 1232.4,1004.6 1233.4,1004.5 1233.9,1004.3 1234.4,1003.5 1235.4,1002.9 1236.4,1001.9 1237.4,1001.4 1237.8,1000.9 1238.4,1000.7 1239.4,1001.5 1240.4,1002.1 1240.8,1002.6 1241.4,1002.3 1242.4,1002.1 1243.4,1002.6 1244.4,1002.1 1244.8,1003.0 1245.4,1003.2 1246.4,1004.3 1247.4,1004.1 1247.7,1004.7 1248.4,1005.7 1249.4,1005.8 1250.2,1006.6 1250.4,1005.7 1250.9,1001.0"/>
<polyline stroke="#a2142f" points="1610.9,1281.4 1611.9,1283.1 1612.9,1285.8 1613.9,1287.7 1614.9,1289.7 1614.9,1289.1 1615.9,1289.9 1616.9,1290.5 1617.9,1290.1 1618.9,1290.5 1619.8,1290.5 1619.9,1291.3 1620.9,1291.7 1621.9,1292.1 1622.9,1292.6 1623.9,1292.6 1624.8,1293.1 1624.9,1292.0 1625.9,1292.7 1626.9,1292.8 1627.9,1293.0 1628.9,1293.5 1629.8,1293.8 1629.9,1294.3 1630.9,1293.7 1631.9,1293.9 1632.9,1294.8 1633.9,1293.7 1634.7,1293.8 1634.9,1293.9 1635.9,1295.4 1636.9,1295.8 1637.9,1296.0 1638.9,1295.9 1639.7,1297.0 1639.9,1296.2 1640.9,1297.5 1641.9,1298.1 1642.9,1298.2 1643.9,1297.6 1644.6,1298.0 1644.9,1298.1 1645.9,1299.5 1646.9,1299.6 1647.9,1299.6 1648.9,1299.9 1649.6,1299.9 1649.9,1300.9 1650.9,1300.6 1651.9,1301.4 1652.9,1301.7 1653.9,1302.0 1654.5,1302.8 1654.9,1301.6 1655.9,1302.1 1656.9,1303.0 1657.9,1302.4 1658.9,1304.0 1659.5,1303.0 1659.9,1304.4 1660.9,1304.2 1661.9,1304.5 1662.9,1303.7 1663.9,1303.8 1664.5,1305.2 1664.9,1304.4 1665.9,1305.4 1666.9,1304.3 1667.9,1305.2 1668.9,1305.5 1669.4,1305.8 1669.9,1305.2 1670.9,1305.4 1671.9,1306.2 1672.9,1306.4 1673.9,1305.4 1674.4,1305.7 1674.9,1305.5 1675.9,1305.4 1676.9,1305.7 1677.9,1306.1 1678.9,1306.0 1679.3,1305.5 1679.9,1305.2 1680.9,1306.0 1681.9,1305.6 1682.9,1305.8 1683.9,1305.6 1684.3,1305.5 1684.9,1305.1 1685.9,1304.3 1686.9,1304.8 1687.9,1304.7 1688.9,1304.1 1689.2,1303.9 1689.9,1304.2 1690.9,1304.4 1691.9,1303.5 1692.9,1303.2 1693.9,1304.1 1694.2,1303.5 1694.9,1303.3 1695.9,1303.6 1696.9,1302.3 1697.9,1302.3 1698.9,1302.7 1699.2,1302.2 1699.9,1302.8 1700.9,1302.5 1701.9,1302.9 1702.9,1302.4 1703.9,1302.5 1704.1,1302.3 1704.9,1302.1 1705.9,1302.0 1706.9,1303.0 1707.9,1303.0 1708.9,1302.1 1709.1,1301.7 1709.9,1301.9 1710.9,1303.3 1711.9,1302.7 1712.9,1303.2 1713.9,1303.3 1714.0,1302.8 1714.9,1302.9 1715.9,1303.8 1716.9,1304.3 1717.9,1304.4 1718.9,1304.7 1719.0,1304.7 1719.9,1304.0 1720.9,1305.1 1721.9,1305.6 1722.9,1306.0 1723.9,1305.3 1724.0,1306.0 1724.9,1306.2 1725.9,1306.5 1726.9,1306.5 1727.9,1306.9 1728.9,1306.6 1728.9,1307.7 1729.9,1308.1 1730.9,1307.5 1731.9,1308.2 1732.9,1308.7 1733.9,1308.3 1733.9,1308.7 1734.9,1309.0 1735.9,1309.1 1736.9,1308.8 1737.9,1309.3 1738.8,1309.4 1738.9,1309.0 1739.9,1309.4 1740.9,1309.2 1741.9,1309.3 1742.9,1310.5 1743.8,1310.7 1743.9,1310.0 1744.9,1310.2 1745.9,1310.2 1746.9,1311.1 1747.9,1310.9 1748.7,1311.0 1748.9,1311.5 1749.9,1310.6 1750.9,1311.4 1751.9,1312.1 1752.9,1312.0 1753.7,1312.5 1753.9,1311.8 1754.9,1312.5 1755.9,1312.9 1756.9,1312.2 1757.9,1312.7 1758.7,1312.0 1758.9,1312.9 1759.9,1312.6 1760.9,1312.7 1761.9,1313.4 1762.9,1313.6 1763.6,1314.1 1763.9,1313.1 1764.9,1313.8 1765.9,1314.1 1766.9,1313.7 1767.9,1314.5 1768.6,1314.2 1768.9,1314.2 1769.9,1313.8 1770.9,1314.7 1771.9,1314.3 1772.9,1315.1 1773.5,1315.3 1773.9,1315.3 1774.9,1315.2 1775.9,1315.0 1776.9,1314.5 1777.9,1315.7 1778.5,1315.2 1778.9,1315.2 1779.9,1314.6 1780.0,1314.6 1780.9,1315.4 1781.9,1314.9 1782.9,1314.3 1783.9,1314.4 1784.9,1314.2 1785.0,1315.0 1785.9,1313.6 1786.9,1313.9 1787.9,1313.0 1788.9,1313.2 1789.9,1313.2 1789.9,1312.2 1790.9,1313.0 1791.9,1311.8 1792.9,1310.9 1793.9,1310.7 1794.9,1311.2 1794.9,1310.5 1795.9,1310.4 1796.9,1309.7 1797.9,1309.6 1798.9,1308.5 1799.8,1308.2 1799.9,1308.9 1800.9,1308.1 1801.9,1307.3 1802.9,1308.0 1803.9,1307.4 1804.8,1306.3 1804.9,1306.5 1805.9,1306.2 1806.9,1305.2 1807.9,1304.4 1808.9,1303.8 1809.8,1304.3 1809.9,1303.8 1810.9,1303.4 1811.9,1303.8 1812.9,1303.4 1813.9,1302.3 1814.7,1301.9 1814.9,1302.1 1815.9,1302.7 1816.9,1301.5 1817.9,1301.2 1818.9,1300.3 1819.7,1299.9 1819.9,1299.9 1820.9,1300.3 1821.9,1299.0 1822.9,1298.8 1823.9,1298.7 1824.6,1298.7 1824.9,1297.2 1825.9,1297.5 1826.9,1297.3 1827.9,1295.9 1828.9,1296.2 1829.6,1296.3 1829.9,1295.7 1830.9,1295.5 1831.9,1295.3 1832.9,1295.2 1833.9,1294.8 1834.5,1295.3 1834.9,1295.4 1835.9,1294.7 1836.9,1295.5 1837.9,1295.8 1838.9,1295.6 1839.5,1295.8 1839.9,1295.5 1840.9,1295.2 1841.9,1296.0 1842.5,1296.6 1842.9,1296.1 1843.9,1296.4 1844.9,1295.1 1845.9,1295.6 1846.9,1295.0 1847.4,1295.4 1847.9,1295.1 1848.9,1294.4 1849.9,1294.2 1850.9,1295.2 1851.4,1294.9 1851.9,1294.2 1852.9,1294.7 1853.9,1295.9 1854.9,1296.0 1855.9,1295.5 1856.3,1296.1 1856.9,1296.4 1857.9,1295.6 1858.9,1295.3 1859.9,1296.2 1860.9,1295.0 1861.3,1295.2 1861.9,1295.9 1862.9,1296.1 1863.9,1296.4 1864.9,1296.1 1865.3,1296.5 1865.9,1296.1 1866.9,1296.7 1867.9,1295.7 1868.9,1296.8 1869.2,1295.8 1869.9,1295.8 1870.9,1295.4 1871.9,1296.3 1872.9,1296.2 1873.9,1295.0 1874.2,1295.7 1874.9,1296.1 1875.9,1295.4 1876.9,1296.5 1877.9,1296.4 1878.2,1295.7 1878.9,1295.1 1879.9,1295.2 1880.9,1295.4 1881.9,1294.8 1882.1,1294.3 1882.9,1293.8 1883.9,1293.0 1884.9,1292.8 1885.9,1293.1 1886.1,1292.2 1886.9,1293.4 1887.9,1293.1 1888.9,1293.7 1889.9,1293.8 1890.1,1293.7 1890.9,1293.6 1891.9,1293.4 1892.9,1293.3 1893.9,1292.3 1894.0,1292.4 1894.9,1292.4 1895.9,1291.6 1896.0,1292.4 1896.9,1292.7 1897.9,1292.1 1898.9,1292.8 1899.0,1292.6 1899.9,1292.1 1900.9,1292.8 1901.9,1292.1 1902.9,1291.5 1903.9,1291.8 1904.0,1291.9 1904.9,1292.3 1905.9,1291.8 1906.9,1291.7 1907.9,1291.5 1908.9,1291.6 1908.9,1291.4 1909.9,1292.8 1910.9,1292.8 1911.9,1294.1 1912.9,1293.4 1912.9,1293.9 1913.9,1293.7 1914.9,1293.9 1915.9,1294.2 1916.8,1293.0 1916.9,1294.0 1917.9,1293.7 1918.9,1294.3 1919.9,1294.3 1920.9,1294.7 1921.8,1295.6 1921.9,1294.9 1922.9,1295.8 1923.9,1295.2 1924.9,1296.3 1925.8,1296.1 1925.9,1296.5 1926.9,1297.0 1927.9,1297.5 1928.9,1298.4 1929.7,1298.0 1929.9,1298.1 1930.9,1298.6 1931.9,1297.8 1932.9,1297.7 1933.7,1296.2 1933.9,1296.8 1934.9,1296.4 1935.9,1297.7 1936.9,1297.9 1937.9,1297.9 1938.7,1298.5 1938.9,1297.7 1939.9,1298.2 1940.9,1297.7 1941.9,1296.6 1942.9,1296.3 1943.6,1296.3 1943.9,1297.0 1944.9,1296.5 1945.9,1296.1 1946.9,1295.5 1947.9,1294.8 1948.6,1295.7 1948.9,1295.8 1949.9,1294.5 1950.9,1295.1 1951.9,1294.4 1952.5,1294.4 1952.9,1293.2 1953.9,1293.0 1954.9,1293.3 1955.9,1291.8 1956.5,1292.0 1956.9,1291.9 1957.9,1290.7 1958.9,1289.4 1959.5,1288.9 1959.9,1288.2 1960.9,1286.4 1961.0,1285.9"/>
<polyline stroke="#0072bd" points="276.0,873.5 277.0,882.6 277.0,883.0 278.0,887.8 278.2,888.9 279.0,892.9 279.4,895.3 280.0,898.9 280.5,902.2 281.0,906.2 281.5,908.9 282.0,911.8 282.6,916.6 283.0,919.2 283.6,922.2 284.0,924.9 284.6,930.2 285.0,931.4 285.7,936.4 286.0,938.3 286.7,943.1 287.0,943.9 287.8,950.0 288.0,951.7 288.6,956.3 289.0,959.0 289.8,965.5 290.0,967.9 290.7,975.5 291.0,975.9 292.0,983.1 292.2,984.5 293.0,988.6 294.0,993.4 294.2,993.9 295.0,997.4 296.0,1001.1 296.7,1002.8 297.0,1004.1 298.0,1008.0 299.0,1010.1 299.7,1012.5 300.0,1013.6 301.0,1016.0 302.0,1019.5 303.0,1021.5 303.1,1022.5 304.0,1024.3 305.0,1025.8 306.0,1029.2 306.6,1030.6 307.0,1031.2 308.0,1031.6 309.0,1033.5 310.0,1034.3 311.0,1036.5 311.6,1037.1 312.0,1037.8 313.0,1037.5 314.0,1038.5 315.0,1039.0 316.0,1040.9 316.5,1041.0 317.0,1040.5 318.0,1041.9 319.0,1042.1 320.0,1042.6 321.0,1043.7 321.5,1043.9 322.0,1043.9 323.0,1044.4 324.0,1045.3 325.0,1046.1 326.0,1046.6 326.4,1046.9 327.0,1048.0 328.0,1049.5 329.0,1049.9 330.0,1050.6 331.0,1051.1 331.4,1052.8 332.0,1052.6 333.0,1053.7 334.0,1055.5 335.0,1056.8 336.0,1056.9 336.4,1057.3 337.0,1058.0 338.0,1059.9 339.0,1060.0 339.3,1059.8 340.0,1060.7 341.0,1060.8 342.0,1060.5 343.0,1060.7 344.0,1061.4 344.3,1062.3 345.0,1061.5 346.0,1062.3 347.0,1061.5 348.0,1061.4 349.0,1061.1 349.2,1061.8 350.0,1061.1 351.0,1062.2 352.0,1061.6 353.0,1060.7 354.0,1061.5 354.2,1061.3 355.0,1061.7 356.0,1061.7 357.0,1061.2 358.0,1061.9 359.0,1062.3 359.2,1061.5 360.0,1062.9 361.0,1063.1 362.0,1062.7 363.0,1062.9 364.0,1063.7 364.1,1064.1 365.0,1064.3 366.0,1063.9 367.0,1064.8 368.0,1065.0 369.0,1064.8 369.1,1065.2 370.0,1065.6 371.0,1065.9 372.0,1065.2 373.0,1065.3 374.0,1066.3 374.0,1066.8 375.0,1066.4 376.0,1067.1 377.0,1066.7 378.0,1066.6 379.0,1067.6 379.0,1067.1 380.0,1068.3 381.0,1068.5 382.0,1067.9 383.0,1068.6 383.9,1069.7 384.0,1068.7 385.0,1069.7 386.0,1070.2 387.0,1071.9 388.0,1073.0 388.9,1073.4 389.0,1073.7 390.0,1073.5 391.0,1075.1 392.0,1076.0 392.9,1076.5 393.0,1075.7 394.0,1076.1 395.0,1077.4 396.0,1077.4 396.8,1077.3 397.0,1077.1 398.0,1076.6 399.0,1077.5 400.0,1077.1 400.8,1076.4 401.0,1076.3 402.0,1076.9 403.0,1076.3 404.0,1074.5 404.8,1074.3 405.0,1075.2 406.0,1074.0 407.0,1073.9 408.0,1072.7 408.7,1072.1 409.0,1072.8 410.0,1071.5 411.0,1071.9 412.0,1071.3 413.0,1069.9 413.7,1070.8 414.0,1070.7 415.0,1069.4 416.0,1069.8 417.0,1069.6 418.0,1069.1 418.6,1069.7 419.0,1070.0 420.0,1070.1 421.0,1070.2 422.0,1069.8 423.0,1070.3 423.6,1070.7 424.0,1070.1 425.0,1071.0 426.0,1070.9 427.0,1071.9 428.0,1071.4 428.6,1071.9 429.0,1071.8 430.0,1071.4 431.0,1072.0 432.0,1072.4 433.0,1072.3 433.5,1072.8 434.0,1072.5 435.0,1071.4 436.0,1071.7 437.0,1071.4 438.0,1070.6 438.5,1071.8 439.0,1071.1 440.0,1070.1 441.0,1070.0 442.0,1069.5 443.0,1069.2 443.4,1069.1 444.0,1068.5 445.0,1068.1 446.0,1067.8 447.0,1067.0 448.0,1066.4 448.4,1067.3 449.0,1067.3 450.0,1066.3 451.0,1066.7 452.0,1066.5 453.0,1066.3 453.4,1067.1 454.0,1066.8 455.0,1066.8 456.0,1067.5 457.0,1067.8 458.0,1067.2 459.0,1067.7 460.0,1067.4 460.0,1067.4 461.0,1068.0 462.0,1068.6 463.0,1069.0 464.0,1069.4 464.8,1071.1 465.0,1070.6 466.0,1070.9 467.0,1071.7 468.0,1072.9 469.0,1072.3 470.0,1073.9 471.0,1073.6 472.0,1073.8 472.7,1075.5 473.0,1074.7 474.0,1075.9 475.0,1075.1 476.0,1075.5 477.0,1076.6 478.0,1076.2 479.0,1077.4 479.7,1077.2 480.0,1078.1 481.0,1077.8 482.0,1078.6 483.0,1078.6 484.0,1079.2 485.0,1079.9 486.0,1080.0 486.6,1080.8 487.0,1080.5 488.0,1081.2 489.0,1081.0 490.0,1081.5 491.0,1081.9 492.0,1082.5 493.0,1083.5 493.5,1083.7 494.0,1083.1 495.0,1083.6 496.0,1084.0 497.0,1084.4 498.0,1084.2 499.0,1083.9 499.5,1084.7 500.0,1084.4 501.0,1084.1 502.0,1084.2 503.0,1085.2 504.0,1084.6 505.0,1084.8 506.0,1085.0 507.0,1085.0 507.4,1085.4 508.0,1084.9 509.0,1084.6 510.0,1085.1 511.0,1084.1 512.0,1085.0 513.0,1085.0 513.4,1083.7 514.0,1084.1 515.0,1084.0 516.0,1082.5 517.0,1083.1 518.0,1081.7 519.0,1080.8 519.3,1080.6 520.0,1080.7 521.0,1080.2 522.0,1080.3 523.0,1079.8 524.0,1079.7 525.0,1079.0 525.3,1078.5 526.0,1078.0 527.0,1079.0 528.0,1078.2 529.0,1078.9 530.0,1077.6 531.0,1077.8 531.2,1078.7 532.0,1078.7 533.0,1078.1 534.0,1079.3 535.0,1079.8 536.0,1079.9 537.0,1080.3 537.2,1079.7 538.0,1080.1 539.0,1080.8 540.0,1080.7 541.0,1080.0 542.0,1080.4 543.0,1080.7 543.1,1080.5 544.0,1080.8 545.0,1080.7 546.0,1081.8 547.0,1081.0 548.0,1082.0 549.0,1081.9 549.1,1081.2 550.0,1080.9 551.0,1081.7 552.0,1080.8 553.0,1081.1 554.0,1080.9 555.0,1080.5 555.0,1080.7 556.0,1080.5 557.0,1080.4 558.0,1079.7 559.0,1080.5 560.0,1080.3 561.0,1079.3 561.0,1079.8 562.0,1079.7 563.0,1080.4 564.0,1080.4 565.0,1080.5 566.0,1080.6 566.9,1081.7 567.0,1081.2 568.0,1081.0 569.0,1082.1 570.0,1083.0 571.0,1082.5 572.0,1083.6 572.9,1083.5 573.0,1083.6 574.0,1083.2 575.0,1083.2 576.0,1084.3 577.0,1083.9 578.0,1084.7 578.8,1084.0 579.0,1085.3 580.0,1084.7 581.0,1085.5 582.0,1085.4 583.0,1085.6 584.0,1085.8 584.8,1084.6 585.0,1085.5 586.0,1084.8 587.0,1085.8 588.0,1085.7 589.0,1085.1 590.0,1085.3 590.7,1084.8 591.0,1085.0 592.0,1085.3 593.0,1085.5 594.0,1086.2 595.0,1086.8 596.0,1086.7 596.7,1085.9 597.0,1087.0 598.0,1086.8 599.0,1086.9 600.0,1087.0 601.0,1087.2 602.0,1088.5 602.6,1088.0 603.0,1088.4 604.0,1087.1 605.0,1088.0 606.0,1087.7 607.0,1087.8 608.0,1087.3 608.6,1087.4 609.0,1086.5 610.0,1086.7 611.0,1086.4 612.0,1085.0 613.0,1084.6 614.0,1084.5 614.5,1084.5 615.0,1084.2 616.0,1083.0 617.0,1082.7 618.0,1083.0 619.0,1082.8 619.5,1083.1 620.0,1083.1 621.0,1083.6 622.0,1083.8 623.0,1083.9 624.0,1084.8 624.4,1085.2 625.0,1085.6 626.0,1086.5 627.0,1086.9 628.0,1087.7 628.4,1087.5 629.0,1087.9 630.0,1087.7 631.0,1088.4 632.0,1088.7 633.0,1088.1 633.4,1088.6 634.0,1088.0 635.0,1087.6 636.0,1086.1 637.0,1085.9 637.3,1085.1 638.0,1085.3 639.0,1083.2 640.0,1082.4 640.0,1082.6 641.0,1081.5 641.5,1081.1 642.0,1079.3 643.0,1078.0 644.0,1077.2 644.5,1077.0 645.0,1076.5 646.0,1075.1 647.0,1073.2 647.4,1073.1 648.0,1072.5 649.0,1072.2 650.0,1071.5 651.0,1071.1 651.4,1070.5 652.0,1070.8 653.0,1070.8 654.0,1072.4 655.0,1072.9 655.4,1071.7 656.0,1072.9 657.0,1073.3 658.0,1073.2 659.0,1073.7 659.3,1073.7 660.0,1073.0 661.0,1071.6 662.0,1072.2 663.0,1070.5 663.3,1071.1 664.0,1069.5 665.0,1069.5 666.0,1067.5 666.3,1067.7 667.0,1066.6 668.0,1064.2 668.8,1063.7 669.0,1063.5 670.0,1060.9 670.4,1059.5"/>
<polyline stroke="#0072bd" points="772.4,1112.8 772.5,1122.8 772.9,1115.8 773.2,1118.8 774.2,1122.6 774.9,1123.6 775.2,1125.0 776.2,1125.5 777.2,1127.1 777.9,1128.2 778.2,1127.8 779.2,1129.2 780.2,1130.6 781.2,1131.0 781.8,1131.2 782.2,1131.2 783.2,1133.0 784.2,1132.7 785.2,1134.1 785.8,1134.0 786.2,1133.6 787.2,1134.2 788.2,1134.5 789.2,1135.1 789.8,1134.7 790.2,1135.2 791.2,1135.5 792.2,1135.3 793.2,1136.4 794.2,1136.1 794.7,1136.7 795.2,1136.9 796.2,1136.9 797.2,1137.0 798.2,1137.3 799.2,1136.8 799.7,1137.7 800.2,1138.1 801.2,1138.0 802.2,1138.2 803.2,1138.7 804.2,1138.5 804.6,1139.2 805.2,1139.3 806.2,1138.7 807.2,1140.2 808.2,1140.5 809.2,1141.2 809.6,1141.0 810.2,1142.0 811.2,1141.3 812.2,1142.1 813.2,1142.6 814.2,1142.6 814.5,1142.2 815.2,1142.3 816.2,1143.3 817.2,1144.0 818.2,1143.3 819.2,1144.5 819.5,1143.8 820.2,1144.3 821.2,1144.1 822.2,1143.9 823.2,1145.1 824.2,1144.5 824.5,1143.8 825.2,1144.2 826.2,1143.7 827.2,1144.2 828.2,1144.1 829.2,1143.4 829.4,1143.3 830.2,1142.7 831.2,1143.6 832.2,1142.3 833.2,1142.3 834.2,1142.4 834.4,1141.5 835.2,1141.7 836.2,1142.1 837.2,1141.8 838.2,1141.5 839.2,1140.5 839.3,1140.7 840.2,1140.5 841.2,1141.0 842.2,1141.4 843.2,1141.0 844.2,1141.5 844.3,1141.6 845.2,1141.3 846.2,1141.7 847.2,1142.8 848.2,1142.1 849.2,1142.5 849.2,1142.5 850.2,1143.8 851.2,1144.6 852.2,1144.5 853.2,1144.7 854.2,1145.7 855.2,1145.8 856.2,1147.3 857.2,1146.9 858.2,1147.4 859.2,1148.3 859.2,1148.4 860.2,1148.8 861.2,1149.7 862.2,1149.4 863.2,1150.5 864.1,1151.1 864.2,1150.9 865.2,1150.7 866.2,1151.2 867.2,1150.2 868.1,1150.8 868.2,1151.0 869.2,1150.7 870.2,1150.0 871.2,1150.4 872.0,1150.2 872.2,1150.1 873.2,1149.4 874.2,1148.8 875.2,1147.7 876.0,1146.9 876.2,1148.0 877.2,1146.0 878.2,1145.3 879.2,1145.7 880.0,1144.4 880.2,1143.7 881.2,1143.3 882.2,1142.7 883.2,1141.9 884.0,1142.0 884.2,1142.0 885.2,1141.4 886.2,1141.0 887.2,1139.9 887.9,1140.9 888.2,1139.8 889.2,1140.6 890.2,1139.8 891.2,1140.1 891.9,1139.7 892.2,1140.0 893.2,1140.1 894.2,1139.8 895.2,1139.5 895.9,1139.4 896.2,1140.7 897.2,1140.5 898.2,1140.8 899.2,1141.4 899.8,1141.3 900.2,1141.3 901.2,1142.3 902.2,1142.0 903.2,1142.2 903.8,1143.3 904.2,1143.3 905.2,1142.9 906.2,1143.4 907.2,1143.0 908.2,1142.7 908.7,1142.9 909.2,1143.5 910.2,1142.1 911.2,1142.2 912.2,1142.9 913.2,1142.3 913.7,1142.6 914.2,1142.1 915.2,1141.8 916.2,1141.6 917.2,1141.6 918.2,1141.8 918.6,1141.9 919.2,1141.7 920.2,1141.9 921.2,1141.3 922.2,1141.2 923.2,1140.4 923.6,1140.9 924.2,1141.6 925.2,1140.7 926.2,1140.8 927.2,1141.8 928.2,1141.2 928.6,1141.1 929.2,1141.0 930.2,1142.2 931.2,1141.3 932.2,1141.9 933.2,1142.1 933.5,1142.0 934.2,1143.0 935.2,1142.8 936.2,1142.6 937.2,1143.3 938.2,1143.1 938.5,1142.9 939.2,1143.1 940.0,1143.8 940.2,1143.0 941.2,1143.5 942.2,1142.3 943.2,1143.0 944.2,1142.8 945.0,1142.9 945.2,1142.3 946.2,1142.6 947.2,1142.8 948.2,1142.4 949.2,1141.5 949.9,1142.4 950.2,1142.4 951.2,1141.7 952.2,1141.5 953.2,1141.2 954.2,1141.8 954.9,1140.9 955.2,1141.3 956.2,1141.6 957.2,1141.7 958.2,1141.3 959.2,1142.1 959.8,1141.9 960.2,1140.8 961.2,1142.0 962.2,1141.0 963.2,1140.8 964.2,1141.0 964.8,1141.1 965.2,1140.3 966.2,1140.8 967.2,1140.8 968.2,1140.0 969.2,1140.6 969.8,1140.8 970.2,1140.0 971.2,1139.5 972.2,1139.2 973.2,1139.3 974.2,1138.8 974.7,1139.3 975.2,1138.2 976.2,1138.5 977.2,1137.5 978.2,1138.2 979.2,1138.2 979.7,1137.2 980.2,1137.6 981.2,1136.8 982.2,1136.4 983.2,1136.3 984.2,1136.4 984.6,1136.2 985.2,1135.8 986.2,1135.0 987.2,1135.6 988.2,1134.8 989.2,1133.9 989.6,1134.1 990.2,1133.7 991.2,1133.5 992.2,1133.4 993.2,1133.8 993.5,1132.6 994.2,1132.7 995.2,1133.2 996.2,1132.8 996.5,1132.0 997.2,1133.4 998.2,1133.3 999.2,1133.8 1000.2,1133.7 1000.5,1134.1 1001.2,1134.5 1002.2,1134.0 1003.2,1134.0 1004.2,1135.4 1004.5,1135.7 1005.2,1135.6 1006.2,1135.8 1007.2,1136.2 1008.2,1135.8 1009.2,1136.5 1009.4,1136.4 1010.2,1136.2 1011.2,1137.3 1012.2,1136.8 1013.2,1138.0 1014.2,1137.7 1014.4,1137.2 1015.2,1137.9 1016.2,1138.2 1017.2,1138.4 1018.2,1139.6 1019.2,1138.7 1019.3,1139.2 1020.2,1140.0 1021.2,1140.1 1022.2,1140.7 1023.2,1140.3 1024.2,1140.4 1024.3,1140.9 1025.2,1141.2 1026.2,1140.5 1027.2,1141.1 1028.2,1141.0 1029.2,1140.7 1029.2,1141.0 1030.2,1140.4 1031.2,1141.3 1032.2,1141.0 1033.2,1140.4 1034.2,1141.5 1035.2,1140.7 1036.2,1140.8 1037.2,1139.7 1038.2,1140.5 1039.2,1139.4 1039.2,1139.6 1040.2,1139.4 1041.2,1139.1 1042.2,1139.4 1043.2,1138.3 1044.1,1138.8 1044.2,1138.3 1045.2,1138.0 1046.2,1138.2 1047.2,1137.6 1048.2,1137.9 1049.1,1136.8 1049.2,1136.9 1050.2,1137.8 1051.2,1136.9 1052.2,1137.0 1053.2,1136.3 1054.0,1135.8 1054.2,1137.0 1055.2,1135.6 1056.2,1136.5 1057.2,1135.2 1058.2,1134.7 1059.0,1135.6 1059.2,1134.4 1060.2,1133.7 1061.2,1132.5 1062.0,1131.8 1062.2,1131.9 1063.2,1131.0 1064.2,1130.7 1064.4,1130.4 1065.2,1131.4 1066.2,1131.6 1066.9,1132.7 1067.2,1132.1 1068.2,1133.4 1069.2,1134.1 1069.9,1135.2 1070.2,1134.6 1071.2,1134.7 1072.2,1134.2 1073.2,1134.4 1073.9,1135.7 1074.2,1134.6 1075.2,1134.5 1076.2,1135.4 1077.2,1134.8 1078.2,1134.5 1078.8,1135.0 1079.2,1134.6 1080.2,1134.9 1081.2,1134.7 1082.2,1133.0 1083.2,1132.6 1083.8,1132.5 1084.2,1132.3 1085.2,1132.2 1086.2,1132.3 1087.2,1132.2 1088.2,1131.4 1088.7,1131.5 1089.2,1130.8 1090.2,1129.8 1091.2,1129.9 1092.2,1129.0 1093.2,1127.3 1093.7,1127.5 1094.2,1127.1 1095.2,1126.7 1096.2,1125.6 1097.2,1125.5 1098.2,1124.3 1098.7,1125.0 1099.2,1123.4 1100.0,1122.6 1100.2,1122.4 1101.2,1122.8 1102.2,1121.3 1103.2,1120.9 1104.0,1121.4 1104.2,1120.7 1105.2,1120.5 1106.2,1119.6 1107.2,1120.1 1107.9,1119.8 1108.2,1119.7 1109.2,1119.6 1110.2,1118.5 1111.2,1119.5 1111.9,1119.1 1112.2,1119.4 1113.2,1119.3 1114.2,1118.9 1115.2,1118.2 1115.9,1118.3 1116.2,1118.4 1117.2,1119.3 1118.2,1118.2 1119.2,1119.0 1119.8,1118.1 1120.2,1118.2 1121.2,1117.4 1122.2,1117.2 1123.2,1116.7 1123.8,1116.7 1124.2,1115.8 1125.2,1115.0 1126.2,1115.2 1127.2,1113.8 1127.8,1112.8 1128.2,1112.4 1129.2,1112.7 1130.2,1111.7 1131.2,1109.6 1131.7,1109.1 1132.2,1109.1 1133.2,1108.5 1134.2,1106.6 1135.2,1105.7 1135.7,1105.9 1136.2,1105.4 1137.2,1104.1 1138.2,1103.1 1139.2,1103.5 1139.7,1102.0 1140.2,1102.3 1141.2,1102.3 1142.2,1102.0 1143.2,1101.4 1143.6,1100.7 1144.2,1101.3 1145.2,1100.5 1146.2,1101.2 1147.2,1100.6 1147.6,1100.4 1148.2,1101.2 1149.2,1101.1 1150.2,1101.0 1151.2,1101.6 1151.6,1101.4 1152.2,1102.2 1153.2,1103.3 1154.2,1103.2 1155.2,1104.2 1155.5,1105.1 1156.2,1104.9 1157.2,1106.5 1158.2,1106.1 1159.2,1107.0 1159.5,1106.9 1160.2,1107.7 1161.2,1108.2 1162.2,1109.2 1163.2,1108.9 1163.5,1109.4 1164.2,1110.2 1165.2,1109.5 1166.2,1110.3 1167.2,1110.7 1167.4,1110.0 1168.2,1110.8 1169.2,1110.4 1170.2,1110.3 1171.2,1110.3 1171.4,1110.1 1172.2,1110.8 1173.2,1110.3 1174.2,1109.2 1175.2,1109.8 1175.4,1109.0 1176.2,1109.4 1177.2,1108.7 1178.2,1108.7 1179.2,1107.8 1179.3,1107.5 1180.2,1108.1 1181.2,1106.8 1182.2,1106.7 1183.2,1107.7 1183.3,1107.1 1184.2,1107.5 1185.2,1107.7 1186.2,1106.8 1187.2,1106.8 1187.3,1106.9 1188.2,1107.3 1189.2,1107.6 1190.2,1107.7 1191.2,1108.6 1191.2,1107.4 1192.2,1108.4 1193.2,1108.5 1194.2,1107.8 1195.2,1108.0 1195.2,1107.9 1196.2,1107.9 1197.2,1107.9 1198.2,1108.5 1199.2,1108.0 1199.2,1108.1 1200.2,1109.0 1201.2,1108.7 1202.2,1107.6 1203.1,1107.8 1203.2,1107.3 1204.2,1107.0 1205.2,1107.7 1206.2,1107.7 1207.1,1106.8 1207.2,1106.5 1208.2,1106.7 1209.2,1107.7 1210.2,1108.0 1211.1,1106.9 1211.2,1107.2 1212.2,1107.0 1213.2,1106.8 1214.2,1107.4 1215.0,1107.2 1215.2,1107.1 1216.2,1106.4 1217.2,1106.3 1218.2,1105.0 1219.0,1105.0 1219.2,1105.4 1220.2,1104.8 1221.2,1104.2 1222.2,1104.4 1223.0,1104.0 1223.2,1104.3 1224.2,1103.2 1225.2,1103.1 1226.2,1102.0 1226.9,1102.0 1227.2,1101.5 1228.2,1102.0 1229.2,1100.5 1230.2,1100.7 1230.9,1100.1 1231.2,1099.5 1232.2,1098.6 1233.2,1097.0 1234.2,1096.1 1234.8,1094.9 1235.2,1095.0 1236.2,1093.3 1237.2,1093.4 1237.8,1091.7 1238.2,1091.6 1239.2,1091.7 1240.2,1091.0 1241.2,1091.9 1241.8,1091.0 1242.2,1090.9 1243.2,1090.7 1244.2,1091.4 1245.2,1090.7 1245.8,1090.8 1246.2,1090.1 1247.2,1090.5 1248.2,1089.8 1248.7,1090.1 1249.2,1089.8 1250.2,1089.5 1250.9,1089.2 1251.2,1097.2"/>
<polyline stroke="#0072bd" points="1610.9,1294.8 1611.9,1298.0 1612.9,1299.4 1613.9,1302.2 1614.9,1303.5 1614.9,1303.8 1615.9,1304.6 1616.9,1304.9 1617.9,1305.1 1618.9,1304.7 1619.8,1304.6 1619.9,1305.2 1620.9,1304.8 1621.9,1305.1 1622.9,1305.8 1623.9,1306.6 1624.8,1307.0 1624.9,1306.7 1625.9,1307.2 1626.9,1307.2 1627.9,1308.1 1628.9,1307.7 1629.8,1308.0 1629.9,1307.6 1630.9,1308.0 1631.9,1308.7 1632.9,1308.4 1633.9,1308.2 1634.7,1308.2 1634.9,1309.4 1635.9,1309.1 1636.9,1309.4 1637.9,1310.1 1638.9,1310.8 1639.7,1310.9 1639.9,1310.6 1640.9,1311.1 1641.9,1311.1 1642.9,1312.1 1643.9,1312.4 1644.6,1313.1 1644.9,1312.4 1645.9,1312.7 1646.9,1314.1 1647.9,1314.5 1648.9,1314.1 1649.6,1314.8 1649.9,1314.4 1650.9,1315.5 1651.9,1315.6 1652.9,1315.4 1653.9,1317.0 1654.5,1316.8 1654.9,1317.3 1655.9,1316.7 1656.9,1317.8 1657.9,1317.7 1658.9,1317.5 1659.5,1318.1 1659.9,1318.3 1660.9,1317.7 1661.9,1318.9 1662.9,1318.5 1663.9,1319.5 1664.5,1319.4 1664.9,1319.7 1665.9,1319.5 1666.9,1319.1 1667.9,1320.3 1668.9,1319.6 1669.4,1320.2 1669.9,1320.1 1670.9,1320.5 1671.9,1320.2 1672.9,1319.7 1673.9,1320.3 1674.4,1320.1 1674.9,1320.9 1675.9,1320.1 1676.9,1320.0 1677.9,1319.8 1678.9,1320.1 1679.3,1320.9 1679.9,1320.1 1680.9,1320.5 1681.9,1319.7 1682.9,1320.0 1683.9,1320.2 1684.3,1320.3 1684.9,1319.2 1685.9,1319.5 1686.9,1319.3 1687.9,1319.0 1688.9,1318.8 1689.2,1319.3 1689.9,1319.4 1690.9,1318.0 1691.9,1318.0 1692.9,1318.8 1693.9,1318.7 1694.2,1318.3 1694.9,1317.6 1695.9,1317.9 1696.9,1317.9 1697.9,1316.8 1698.9,1317.1 1699.2,1317.6 1699.9,1317.3 1700.9,1316.7 1701.9,1317.5 1702.9,1316.8 1703.9,1317.3 1704.1,1317.1 1704.9,1316.5 1705.9,1316.6 1706.9,1317.0 1707.9,1317.3 1708.9,1317.4 1709.1,1316.8 1709.9,1318.1 1710.9,1317.4 1711.9,1318.1 1712.9,1318.0 1713.9,1318.1 1714.0,1318.5 1714.9,1317.9 1715.9,1318.0 1716.9,1318.8 1717.9,1318.5 1718.9,1318.7 1719.0,1319.1 1719.9,1319.6 1720.9,1320.4 1721.9,1321.1 1722.9,1320.3 1723.9,1320.6 1724.0,1321.2 1724.9,1321.0 1725.9,1322.1 1726.9,1321.3 1727.9,1322.0 1728.9,1322.1 1728.9,1322.6 1729.9,1322.8 1730.9,1322.3 1731.9,1323.5 1732.9,1323.5 1733.9,1323.4 1733.9,1324.2 1734.9,1324.0 1735.9,1324.5 1736.9,1323.8 1737.9,1324.9 1738.8,1324.3 1738.9,1324.5 1739.9,1324.8 1740.9,1325.4 1741.9,1325.5 1742.9,1325.2 1743.8,1326.3 1743.9,1325.4 1744.9,1326.2 1745.9,1326.8 1746.9,1326.6 1747.9,1326.0 1748.7,1326.2 1748.9,1327.1 1749.9,1326.6 1750.9,1327.4 1751.9,1327.6 1752.9,1328.3 1753.7,1328.1 1753.9,1327.8 1754.9,1328.1 1755.9,1328.2 1756.9,1328.9 1757.9,1328.1 1758.7,1328.8 1758.9,1328.4 1759.9,1329.0 1760.9,1329.6 1761.9,1329.8 1762.9,1329.9 1763.6,1330.0 1763.9,1329.6 1764.9,1329.5 1765.9,1330.5 1766.9,1329.9 1767.9,1329.6 1768.6,1330.0 1768.9,1330.2 1769.9,1329.8 1770.9,1331.0 1771.9,1330.7 1772.9,1330.6 1773.5,1330.5 1773.9,1330.8 1774.9,1331.3 1775.9,1330.9 1776.9,1331.2 1777.9,1330.8 1778.5,1332.1 1778.9,1331.8 1779.9,1330.8 1780.0,1331.9 1780.9,1331.8 1781.9,1331.5 1782.9,1330.9 1783.9,1330.7 1784.9,1331.3 1785.0,1330.2 1785.9,1330.8 1786.9,1330.9 1787.9,1330.4 1788.9,1329.6 1789.9,1328.8 1789.9,1329.2 1790.9,1328.6 1791.9,1328.5 1792.9,1328.6 1793.9,1327.5 1794.9,1327.5 1794.9,1327.0 1795.9,1327.0 1796.9,1326.2 1797.9,1326.7 1798.9,1326.0 1799.8,1325.3 1799.9,1325.0 1800.9,1324.7 1801.9,1324.7 1802.9,1325.2 1803.9,1323.9 1804.8,1324.1 1804.9,1324.1 1805.9,1322.6 1806.9,1323.4 1807.9,1322.4 1808.9,1321.8 1809.8,1321.0 1809.9,1320.8 1810.9,1321.7 1811.9,1320.4 1812.9,1320.6 1813.9,1319.8 1814.7,1320.7 1814.9,1320.4 1815.9,1319.3 1816.9,1319.3 1817.9,1319.1 1818.9,1318.0 1819.7,1318.6 1819.9,1318.4 1820.9,1317.1 1821.9,1316.6 1822.9,1316.8 1823.9,1316.4 1824.6,1315.5 1824.9,1316.3 1825.9,1315.4 1826.9,1315.4 1827.9,1314.6 1828.9,1313.6 1829.6,1314.5 1829.9,1314.1 1830.9,1314.1 1831.9,1313.5 1832.9,1314.4 1833.9,1313.5 1834.5,1313.7 1834.9,1313.7 1835.9,1314.2 1836.9,1313.9 1837.9,1314.2 1838.9,1314.0 1839.5,1314.2 1839.9,1313.8 1840.9,1314.2 1841.9,1314.9 1842.5,1315.1 1842.9,1314.3 1843.9,1314.1 1844.9,1314.0 1845.9,1314.2 1846.9,1313.0 1847.4,1313.0 1847.9,1312.9 1848.9,1314.1 1849.9,1313.1 1850.9,1314.1 1851.4,1313.8 1851.9,1314.3 1852.9,1313.5 1853.9,1314.8 1854.9,1315.2 1855.9,1315.2 1856.3,1315.2 1856.9,1315.1 1857.9,1314.5 1858.9,1315.5 1859.9,1315.2 1860.9,1315.3 1861.3,1314.1 1861.9,1315.3 1862.9,1315.3 1863.9,1315.2 1864.9,1315.7 1865.3,1316.4 1865.9,1315.3 1866.9,1315.6 1867.9,1315.6 1868.9,1315.3 1869.2,1315.0 1869.9,1314.8 1870.9,1314.7 1871.9,1315.3 1872.9,1315.5 1873.9,1315.6 1874.2,1314.5 1874.9,1314.7 1875.9,1314.6 1876.9,1314.9 1877.9,1315.3 1878.2,1316.3 1878.9,1316.1 1879.9,1315.6 1880.9,1314.7 1881.9,1314.0 1882.1,1314.1 1882.9,1313.6 1883.9,1313.2 1884.9,1312.7 1885.9,1312.4 1886.1,1313.1 1886.9,1313.2 1887.9,1313.6 1888.9,1313.8 1889.9,1314.3 1890.1,1314.3 1890.9,1314.4 1891.9,1314.3 1892.9,1313.2 1893.9,1313.6 1894.0,1313.8 1894.9,1313.3 1895.9,1313.2 1896.0,1311.8 1896.9,1313.4 1897.9,1313.2 1898.9,1313.2 1899.0,1313.0 1899.9,1312.8 1900.9,1312.5 1901.9,1312.4 1902.9,1313.0 1903.9,1312.9 1904.0,1311.8 1904.9,1312.8 1905.9,1312.5 1906.9,1312.0 1907.9,1313.1 1908.9,1312.2 1908.9,1312.8 1909.9,1313.7 1910.9,1313.2 1911.9,1314.3 1912.9,1314.6 1912.9,1315.2 1913.9,1314.5 1914.9,1314.3 1915.9,1314.9 1916.8,1314.3 1916.9,1314.3 1917.9,1315.6 1918.9,1315.4 1919.9,1316.3 1920.9,1315.7 1921.8,1316.4 1921.9,1316.8 1922.9,1316.0 1923.9,1317.6 1924.9,1316.8 1925.8,1317.2 1925.9,1318.3 1926.9,1318.5 1927.9,1318.3 1928.9,1319.8 1929.7,1319.9 1929.9,1320.2 1930.9,1320.0 1931.9,1319.3 1932.9,1319.0 1933.7,1319.1 1933.9,1319.2 1934.9,1319.4 1935.9,1319.5 1936.9,1319.0 1937.9,1319.1 1938.7,1320.3 1938.9,1319.4 1939.9,1319.5 1940.9,1319.4 1941.9,1318.6 1942.9,1318.4 1943.6,1318.8 1943.9,1318.5 1944.9,1318.8 1945.9,1317.6 1946.9,1317.4 1947.9,1317.3 1948.6,1317.5 1948.9,1316.8 1949.9,1316.6 1950.9,1317.4 1951.9,1316.5 1952.5,1315.9 1952.9,1315.9 1953.9,1315.3 1954.9,1315.2 1955.9,1314.6 1956.5,1314.6 1956.9,1313.9 1957.9,1313.0 1958.9,1312.2 1959.5,1312.4 1959.9,1311.5 1960.9,1309.9 1961.0,1309.1"/>
<polyline stroke="#d95319" points="276.0,845.7 277.0,854.3 277.0,854.8 278.0,859.8 278.2,861.6 279.0,866.6 279.4,868.7 280.0,872.1 280.5,875.9 281.0,878.7 281.5,882.1 282.0,885.9 282.6,888.9 283.0,892.6 283.6,896.8 284.0,898.8 284.6,903.3 285.0,904.8 285.7,909.8 286.0,912.5 286.7,917.5 287.0,918.9 287.8,923.6 288.0,926.1 288.6,931.7 289.0,934.4 289.8,940.3 290.0,942.0 290.7,949.8 291.0,950.9 292.0,957.4 292.2,960.5 293.0,963.4 294.0,968.4 294.2,969.7 295.0,973.4 296.0,977.3 296.7,979.9 297.0,981.0 298.0,983.9 299.0,987.4 299.7,990.0 300.0,990.7 301.0,992.6 302.0,996.1 303.0,999.1 303.1,999.7 304.0,1002.0 305.0,1004.1 306.0,1005.8 306.6,1007.4 307.0,1008.3 308.0,1009.7 309.0,1010.5 310.0,1012.0 311.0,1013.7 311.6,1014.4 312.0,1014.9 313.0,1016.0 314.0,1016.2 315.0,1017.2 316.0,1017.5 316.5,1018.8 317.0,1018.9 318.0,1019.4 319.0,1019.6 320.0,1019.8 321.0,1020.6 321.5,1021.0 322.0,1022.1 323.0,1022.6 324.0,1023.8 325.0,1024.7 326.0,1024.6 326.4,1024.8 327.0,1026.1 328.0,1026.7 329.0,1028.3 330.0,1028.7 331.0,1029.4 331.4,1030.8 332.0,1031.3 333.0,1032.5 334.0,1033.6 335.0,1035.1 336.0,1036.2 336.4,1035.6 337.0,1036.1 338.0,1036.9 339.0,1038.7 339.3,1038.7 340.0,1039.2 341.0,1038.6 342.0,1039.0 343.0,1040.3 344.0,1040.2 344.3,1039.7 345.0,1039.6 346.0,1040.6 347.0,1040.7 348.0,1039.8 349.0,1041.0 349.2,1039.8 350.0,1040.2 351.0,1040.5 352.0,1040.7 353.0,1040.7 354.0,1039.5 354.2,1039.8 355.0,1039.8 356.0,1039.9 357.0,1040.9 358.0,1040.4 359.0,1041.0 359.2,1041.4 360.0,1041.8 361.0,1041.9 362.0,1042.5 363.0,1042.9 364.0,1042.7 364.1,1042.7 365.0,1044.0 366.0,1043.3 367.0,1044.5 368.0,1043.7 369.0,1044.3 369.1,1044.8 370.0,1044.4 371.0,1045.7 372.0,1045.4 373.0,1045.9 374.0,1045.8 374.0,1046.1 375.0,1045.4 376.0,1046.0 377.0,1046.1 378.0,1046.6 379.0,1046.5 379.0,1046.6 380.0,1047.5 381.0,1048.5 382.0,1048.5 383.0,1048.9 383.9,1049.7 384.0,1049.2 385.0,1050.0 386.0,1050.8 387.0,1051.5 388.0,1051.8 388.9,1052.5 389.0,1053.6 390.0,1053.8 391.0,1055.0 392.0,1054.7 392.9,1056.0 393.0,1056.6 394.0,1055.7 395.0,1057.5 396.0,1057.0 396.8,1057.5 397.0,1057.7 398.0,1057.5 399.0,1057.0 400.0,1057.7 400.8,1056.7 401.0,1056.2 402.0,1055.8 403.0,1056.6 404.0,1055.1 404.8,1054.8 405.0,1055.0 406.0,1054.3 407.0,1053.4 408.0,1053.3 408.7,1052.7 409.0,1051.9 410.0,1052.3 411.0,1051.9 412.0,1051.6 413.0,1051.1 413.7,1049.9 414.0,1049.9 415.0,1050.9 416.0,1049.9 417.0,1050.8 418.0,1050.7 418.6,1050.4 419.0,1050.2 420.0,1049.5 421.0,1050.8 422.0,1050.4 423.0,1051.2 423.6,1051.5 424.0,1050.4 425.0,1051.2 426.0,1051.3 427.0,1051.5 428.0,1053.0 428.6,1052.8 429.0,1052.7 430.0,1053.0 431.0,1052.9 432.0,1052.2 433.0,1053.1 433.5,1053.3 434.0,1053.2 435.0,1053.2 436.0,1052.2 437.0,1052.5 438.0,1052.5 438.5,1052.0 439.0,1052.5 440.0,1051.1 441.0,1050.8 442.0,1050.2 443.0,1050.4 443.4,1050.1 444.0,1049.7 445.0,1049.4 446.0,1048.9 447.0,1048.8 448.0,1048.0 448.4,1047.5 449.0,1048.0 450.0,1048.7 451.0,1047.5 452.0,1048.2 453.0,1047.6 453.4,1047.4 454.0,1048.5 455.0,1048.6 456.0,1048.1 457.0,1048.7 458.0,1048.9 459.0,1048.9 460.0,1049.4 460.0,1049.5 461.0,1050.0 462.0,1050.3 463.0,1051.4 464.0,1052.1 464.8,1052.2 465.0,1051.7 466.0,1052.1 467.0,1053.4 468.0,1054.1 469.0,1054.9 470.0,1055.4 471.0,1055.2 472.0,1055.3 472.7,1056.5 473.0,1056.5 474.0,1057.0 475.0,1056.7 476.0,1057.7 477.0,1058.0 478.0,1057.5 479.0,1058.0 479.7,1058.8 480.0,1059.2 481.0,1059.9 482.0,1059.5 483.0,1061.1 484.0,1060.6 485.0,1062.1 486.0,1061.6 486.6,1062.5 487.0,1063.0 488.0,1062.4 489.0,1063.0 490.0,1064.1 491.0,1064.2 492.0,1064.6 493.0,1064.0 493.5,1065.3 494.0,1064.8 495.0,1064.7 496.0,1065.8 497.0,1065.6 498.0,1066.3 499.0,1066.6 499.5,1065.6 500.0,1066.0 501.0,1066.7 502.0,1066.0 503.0,1066.2 504.0,1067.0 505.0,1067.4 506.0,1066.6 507.0,1066.7 507.4,1067.7 508.0,1067.0 509.0,1066.8 510.0,1066.9 511.0,1067.4 512.0,1066.7 513.0,1066.2 513.4,1066.2 514.0,1066.5 515.0,1065.7 516.0,1065.1 517.0,1064.1 518.0,1064.4 519.0,1063.0 519.3,1063.2 520.0,1062.6 521.0,1062.2 522.0,1061.7 523.0,1061.4 524.0,1061.8 525.0,1060.3 525.3,1060.7 526.0,1060.1 527.0,1060.0 528.0,1060.4 529.0,1060.3 530.0,1061.0 531.0,1060.2 531.2,1060.9 532.0,1061.2 533.0,1060.9 534.0,1061.2 535.0,1062.1 536.0,1062.5 537.0,1062.9 537.2,1061.9 538.0,1062.2 539.0,1062.7 540.0,1062.8 541.0,1062.7 542.0,1062.6 543.0,1063.1 543.1,1063.8 544.0,1063.2 545.0,1063.2 546.0,1064.1 547.0,1063.0 548.0,1063.4 549.0,1063.3 549.1,1063.5 550.0,1064.2 551.0,1063.2 552.0,1063.1 553.0,1062.8 554.0,1062.9 555.0,1062.2 555.0,1062.7 556.0,1063.3 557.0,1063.2 558.0,1062.3 559.0,1061.9 560.0,1061.7 561.0,1062.2 561.0,1062.0 562.0,1062.9 563.0,1062.4 564.0,1062.9 565.0,1063.1 566.0,1063.5 566.9,1064.0 567.0,1064.3 568.0,1064.7 569.0,1064.5 570.0,1065.5 571.0,1064.9 572.0,1065.8 572.9,1065.9 573.0,1066.4 574.0,1066.2 575.0,1066.8 576.0,1067.1 577.0,1066.3 578.0,1067.3 578.8,1067.8 579.0,1067.5 580.0,1067.4 581.0,1066.9 582.0,1067.8 583.0,1067.2 584.0,1068.0 584.8,1067.1 585.0,1068.0 586.0,1067.8 587.0,1068.2 588.0,1067.5 589.0,1067.4 590.0,1067.4 590.7,1067.8 591.0,1067.7 592.0,1068.6 593.0,1067.7 594.0,1068.4 595.0,1068.4 596.0,1068.1 596.7,1068.2 597.0,1069.1 598.0,1068.6 599.0,1068.6 600.0,1069.4 601.0,1069.3 602.0,1069.2 602.6,1070.2 603.0,1069.4 604.0,1069.5 605.0,1069.8 606.0,1069.0 607.0,1068.4 608.0,1067.9 608.6,1068.2 609.0,1068.3 610.0,1066.9 611.0,1067.5 612.0,1066.8 613.0,1066.2 614.0,1065.1 614.5,1064.1 615.0,1064.1 616.0,1065.0 617.0,1063.5 618.0,1063.3 619.0,1063.8 619.5,1063.6 620.0,1063.8 621.0,1064.0 622.0,1064.2 623.0,1065.7 624.0,1066.0 624.4,1065.2 625.0,1066.8 626.0,1066.4 627.0,1067.2 628.0,1068.1 628.4,1068.7 629.0,1068.1 630.0,1068.6 631.0,1068.2 632.0,1068.6 633.0,1069.6 633.4,1069.2 634.0,1068.3 635.0,1068.7 636.0,1067.1 637.0,1066.0 637.3,1065.7 638.0,1066.2 639.0,1064.1 640.0,1063.7 640.0,1062.8 641.0,1062.7 641.5,1061.0 642.0,1060.2 643.0,1059.3 644.0,1057.9 644.5,1057.7 645.0,1057.2 646.0,1055.6 647.0,1054.5 647.4,1052.8 648.0,1053.8 649.0,1052.0 650.0,1052.8 651.0,1051.9 651.4,1051.6 652.0,1051.6 653.0,1051.6 654.0,1052.1 655.0,1053.3 655.4,1053.8 656.0,1053.4 657.0,1053.2 658.0,1054.3 659.0,1053.3 659.3,1053.5 660.0,1053.7 661.0,1052.4 662.0,1051.8 663.0,1052.0 663.3,1052.1 664.0,1050.7 665.0,1049.6 666.0,1047.5 666.3,1047.3 667.0,1045.9 668.0,1045.2 668.8,1043.5 669.0,1043.0 670.0,1040.0 670.4,1040.0"/>
<polyline stroke="#d95319" points="772.4,1124.1 772.5,1134.1 772.9,1127.1 773.2,1130.1 774.2,1132.3 774.9,1135.6 775.2,1135.0 776.2,1136.6 777.2,1137.1 777.9,1138.0 778.2,1138.8 779.2,1139.9 780.2,1139.9 781.2,1140.5 781.8,1140.8 782.2,1141.7 783.2,1142.0 784.2,1142.1 785.2,1142.8 785.8,1143.8 786.2,1144.0 787.2,1144.2 788.2,1144.5 789.2,1144.0 789.8,1143.9 790.2,1144.8 791.2,1144.8 792.2,1144.9 793.2,1144.3 794.2,1144.5 794.7,1145.5 795.2,1144.7 796.2,1145.2 797.2,1145.7 798.2,1145.7 799.2,1146.0 799.7,1145.1 800.2,1145.9 801.2,1145.7 802.2,1146.4 803.2,1145.9 804.2,1147.0 804.6,1146.2 805.2,1146.3 806.2,1147.2 807.2,1147.1 808.2,1148.5 809.2,1147.8 809.6,1148.8 810.2,1149.1 811.2,1148.8 812.2,1148.9 813.2,1149.8 814.2,1149.8 814.5,1149.4 815.2,1150.5 816.2,1150.0 817.2,1150.2 818.2,1150.3 819.2,1151.2 819.5,1150.8 820.2,1151.2 821.2,1150.4 822.2,1150.2 823.2,1151.4 824.2,1150.6 824.5,1150.4 825.2,1150.4 826.2,1150.2 827.2,1150.2 828.2,1150.7 829.2,1150.0 829.4,1149.4 830.2,1149.1 831.2,1149.9 832.2,1148.4 833.2,1148.7 834.2,1147.9 834.4,1147.8 835.2,1147.9 836.2,1147.8 837.2,1148.2 838.2,1147.1 839.2,1147.3 839.3,1146.8 840.2,1147.7 841.2,1147.3 842.2,1147.4 843.2,1147.7 844.2,1146.9 844.3,1147.2 845.2,1147.3 846.2,1148.2 847.2,1148.9 848.2,1148.1 849.2,1148.8 849.2,1148.7 850.2,1149.5 851.2,1149.6 852.2,1150.2 853.2,1151.1 854.2,1152.1 855.2,1152.6 856.2,1152.6 857.2,1152.8 858.2,1154.2 859.2,1153.9 859.2,1154.7 860.2,1154.9 861.2,1155.9 862.2,1155.0 863.2,1155.5 864.1,1155.8 864.2,1157.0 865.2,1156.5 866.2,1156.1 867.2,1156.1 868.1,1156.7 868.2,1156.8 869.2,1155.9 870.2,1156.2 871.2,1155.5 872.0,1156.0 872.2,1155.8 873.2,1154.7 874.2,1154.4 875.2,1154.0 876.0,1152.7 876.2,1152.4 877.2,1152.3 878.2,1151.7 879.2,1150.6 880.0,1150.1 880.2,1149.4 881.2,1149.2 882.2,1148.4 883.2,1148.1 884.0,1148.2 884.2,1147.1 885.2,1147.0 886.2,1146.8 887.2,1146.5 887.9,1145.4 888.2,1146.3 889.2,1145.5 890.2,1145.9 891.2,1144.8 891.9,1145.0 892.2,1145.8 893.2,1145.6 894.2,1146.0 895.2,1145.7 895.9,1145.7 896.2,1145.8 897.2,1145.4 898.2,1146.6 899.2,1147.2 899.8,1147.3 900.2,1147.4 901.2,1147.9 902.2,1147.0 903.2,1148.4 903.8,1147.6 904.2,1147.9 905.2,1147.9 906.2,1148.8 907.2,1148.0 908.2,1148.5 908.7,1148.3 909.2,1148.8 910.2,1148.3 911.2,1147.4 912.2,1147.3 913.2,1147.6 913.7,1147.5 914.2,1147.5 915.2,1146.7 916.2,1147.0 917.2,1146.4 918.2,1146.3 918.6,1146.8 919.2,1146.2 920.2,1146.1 921.2,1146.7 922.2,1145.6 923.2,1145.9 923.6,1146.3 924.2,1145.7 925.2,1145.9 926.2,1146.7 927.2,1145.7 928.2,1146.1 928.6,1146.8 929.2,1147.2 930.2,1147.2 931.2,1147.6 932.2,1147.3 933.2,1147.7 933.5,1147.5 934.2,1147.5 935.2,1147.1 936.2,1147.3 937.2,1147.2 938.2,1147.1 938.5,1147.2 939.2,1147.4 940.0,1147.8 940.2,1148.0 941.2,1148.2 942.2,1147.2 943.2,1147.5 944.2,1147.1 945.0,1147.5 945.2,1147.4 946.2,1146.8 947.2,1146.6 948.2,1147.0 949.2,1146.3 949.9,1146.5 950.2,1147.0 951.2,1147.0 952.2,1146.9 953.2,1146.7 954.2,1146.2 954.9,1145.6 955.2,1146.3 956.2,1145.7 957.2,1146.6 958.2,1145.4 959.2,1145.9 959.8,1145.4 960.2,1146.3 961.2,1145.5 962.2,1146.4 963.2,1145.3 964.2,1145.3 964.8,1145.0 965.2,1145.5 966.2,1145.2 967.2,1145.2 968.2,1145.7 969.2,1144.4 969.8,1145.3 970.2,1144.2 971.2,1145.0 972.2,1144.5 973.2,1143.5 974.2,1142.8 974.7,1142.7 975.2,1142.8 976.2,1143.3 977.2,1142.9 978.2,1142.0 979.2,1141.9 979.7,1141.6 980.2,1142.1 981.2,1140.9 982.2,1141.7 983.2,1140.7 984.2,1140.8 984.6,1140.2 985.2,1141.0 986.2,1140.3 987.2,1140.0 988.2,1139.5 989.2,1138.1 989.6,1138.1 990.2,1137.7 991.2,1138.2 992.2,1137.2 993.2,1138.1 993.5,1136.7 994.2,1137.6 995.2,1137.4 996.2,1136.5 996.5,1137.4 997.2,1136.3 998.2,1136.5 999.2,1137.6 1000.2,1137.3 1000.5,1137.8 1001.2,1137.2 1002.2,1138.2 1003.2,1138.5 1004.2,1139.5 1004.5,1138.5 1005.2,1138.5 1006.2,1139.7 1007.2,1139.4 1008.2,1139.9 1009.2,1139.4 1009.4,1140.3 1010.2,1140.0 1011.2,1140.2 1012.2,1140.8 1013.2,1140.8 1014.2,1141.4 1014.4,1142.3 1015.2,1141.5 1016.2,1142.0 1017.2,1141.9 1018.2,1142.3 1019.2,1142.6 1019.3,1143.6 1020.2,1143.2 1021.2,1143.0 1022.2,1144.5 1023.2,1143.9 1024.2,1144.3 1024.3,1144.3 1025.2,1144.8 1026.2,1145.0 1027.2,1145.0 1028.2,1145.2 1029.2,1145.2 1029.2,1144.3 1030.2,1144.1 1031.2,1144.8 1032.2,1144.8 1033.2,1145.2 1034.2,1145.1 1035.2,1145.0 1036.2,1144.7 1037.2,1144.6 1038.2,1143.8 1039.2,1144.2 1039.2,1143.0 1040.2,1143.5 1041.2,1143.5 1042.2,1142.1 1043.2,1141.7 1044.1,1141.9 1044.2,1142.5 1045.2,1141.4 1046.2,1141.7 1047.2,1141.2 1048.2,1141.5 1049.1,1141.5 1049.2,1141.2 1050.2,1141.2 1051.2,1140.9 1052.2,1140.8 1053.2,1140.7 1054.0,1140.9 1054.2,1140.1 1055.2,1140.3 1056.2,1140.1 1057.2,1139.8 1058.2,1138.5 1059.0,1139.5 1059.2,1138.3 1060.2,1138.0 1061.2,1136.2 1062.0,1136.1 1062.2,1136.0 1063.2,1135.5 1064.2,1134.6 1064.4,1134.7 1065.2,1135.4 1066.2,1135.8 1066.9,1136.1 1067.2,1135.9 1068.2,1137.4 1069.2,1137.7 1069.9,1137.7 1070.2,1137.8 1071.2,1138.1 1072.2,1138.3 1073.2,1138.2 1073.9,1139.0 1074.2,1138.4 1075.2,1138.5 1076.2,1138.7 1077.2,1139.4 1078.2,1138.5 1078.8,1139.2 1079.2,1139.2 1080.2,1138.6 1081.2,1138.3 1082.2,1137.8 1083.2,1137.2 1083.8,1137.5 1084.2,1137.5 1085.2,1136.4 1086.2,1135.7 1087.2,1135.0 1088.2,1135.8 1088.7,1135.2 1089.2,1134.5 1090.2,1134.0 1091.2,1132.8 1092.2,1133.0 1093.2,1132.3 1093.7,1131.1 1094.2,1131.2 1095.2,1131.1 1096.2,1129.6 1097.2,1130.2 1098.2,1129.7 1098.7,1128.4 1099.2,1128.7 1100.0,1127.2 1100.2,1127.4 1101.2,1127.1 1102.2,1126.2 1103.2,1126.0 1104.0,1124.7 1104.2,1125.1 1105.2,1125.0 1106.2,1124.0 1107.2,1123.3 1107.9,1124.3 1108.2,1122.9 1109.2,1123.5 1110.2,1123.8 1111.2,1122.9 1111.9,1123.2 1112.2,1123.4 1113.2,1123.8 1114.2,1122.7 1115.2,1123.2 1115.9,1123.2 1116.2,1123.2 1117.2,1122.6 1118.2,1123.2 1119.2,1122.7 1119.8,1122.4 1120.2,1122.3 1121.2,1122.3 1122.2,1121.0 1123.2,1120.5 1123.8,1120.9 1124.2,1120.9 1125.2,1119.3 1126.2,1118.5 1127.2,1118.2 1127.8,1117.3 1128.2,1117.5 1129.2,1116.6 1130.2,1116.0 1131.2,1114.6 1131.7,1114.1 1132.2,1112.9 1133.2,1112.9 1134.2,1111.2 1135.2,1110.7 1135.7,1109.7 1136.2,1109.2 1137.2,1108.4 1138.2,1107.7 1139.2,1107.6 1139.7,1106.6 1140.2,1106.7 1141.2,1105.9 1142.2,1106.5 1143.2,1105.4 1143.6,1106.0 1144.2,1105.7 1145.2,1104.9 1146.2,1105.7 1147.2,1105.7 1147.6,1105.7 1148.2,1105.8 1149.2,1105.3 1150.2,1105.3 1151.2,1106.3 1151.6,1106.4 1152.2,1106.1 1153.2,1107.2 1154.2,1107.7 1155.2,1109.0 1155.5,1109.2 1156.2,1109.7 1157.2,1110.0 1158.2,1111.5 1159.2,1111.1 1159.5,1112.3 1160.2,1111.8 1161.2,1112.0 1162.2,1113.0 1163.2,1114.2 1163.5,1114.0 1164.2,1113.6 1165.2,1114.9 1166.2,1114.0 1167.2,1114.0 1167.4,1114.2 1168.2,1114.5 1169.2,1114.7 1170.2,1114.4 1171.2,1115.2 1171.4,1114.8 1172.2,1114.2 1173.2,1113.7 1174.2,1114.4 1175.2,1114.0 1175.4,1113.1 1176.2,1113.0 1177.2,1112.2 1178.2,1111.7 1179.2,1111.6 1179.3,1111.7 1180.2,1111.2 1181.2,1111.6 1182.2,1110.8 1183.2,1110.9 1183.3,1110.8 1184.2,1111.9 1185.2,1110.8 1186.2,1111.0 1187.2,1111.7 1187.3,1111.5 1188.2,1112.0 1189.2,1111.5 1190.2,1112.7 1191.2,1112.4 1191.2,1112.8 1192.2,1112.2 1193.2,1112.8 1194.2,1112.5 1195.2,1111.9 1195.2,1113.1 1196.2,1112.0 1197.2,1112.4 1198.2,1112.6 1199.2,1112.5 1199.2,1112.5 1200.2,1112.5 1201.2,1112.8 1202.2,1112.9 1203.1,1111.8 1203.2,1112.6 1204.2,1111.5 1205.2,1111.9 1206.2,1112.3 1207.1,1111.3 1207.2,1111.2 1208.2,1111.5 1209.2,1111.2 1210.2,1112.1 1211.1,1112.1 1211.2,1112.2 1212.2,1112.3 1213.2,1111.0 1214.2,1111.5 1215.0,1110.7 1215.2,1111.5 1216.2,1110.9 1217.2,1110.3 1218.2,1110.0 1219.0,1109.0 1219.2,1110.1 1220.2,1109.6 1221.2,1109.2 1222.2,1109.3 1223.0,1108.4 1223.2,1107.7 1224.2,1108.2 1225.2,1107.0 1226.2,1107.2 1226.9,1107.0 1227.2,1107.1 1228.2,1106.0 1229.2,1104.7 1230.2,1104.6 1230.9,1104.2 1231.2,1104.3 1232.2,1102.9 1233.2,1101.5 1234.2,1100.9 1234.8,1099.3 1235.2,1099.9 1236.2,1098.0 1237.2,1097.7 1237.8,1097.3 1238.2,1096.5 1239.2,1096.8 1240.2,1096.0 1241.2,1095.2 1241.8,1095.1 1242.2,1095.1 1243.2,1095.0 1244.2,1095.2 1245.2,1094.7 1245.8,1095.5 1246.2,1094.6 1247.2,1094.3 1248.2,1095.3 1248.7,1094.5 1249.2,1093.7 1250.2,1094.1 1250.9,1093.6 1251.2,1101.6"/>
<polyline stroke="#d95319" points="1610.9,1273.1 1611.9,1275.1 1612.9,1277.6 1613.9,1280.7 1614.9,1281.8 1614.9,1282.5 1615.9,1282.8 1616.9,1282.6 1617.9,1282.4 1618.9,1283.5 1619.8,1283.9 1619.9,1283.1 1620.9,1283.7 1621.9,1283.4 1622.9,1284.5 1623.9,1284.7 1624.8,1284.2 1624.9,1285.2 1625.9,1285.2 1626.9,1284.7 1627.9,1284.8 1628.9,1285.0 1629.8,1286.5 1629.9,1286.3 1630.9,1286.5 1631.9,1286.1 1632.9,1285.8 1633.9,1285.7 1634.7,1286.4 1634.9,1286.9 1635.9,1286.8 1636.9,1286.9 1637.9,1287.7 1638.9,1288.2 1639.7,1289.1 1639.9,1288.1 1640.9,1288.8 1641.9,1289.0 1642.9,1289.9 1643.9,1289.4 1644.6,1290.4 1644.9,1290.6 1645.9,1290.6 1646.9,1291.1 1647.9,1292.0 1648.9,1291.2 1649.6,1291.5 1649.9,1292.0 1650.9,1292.6 1651.9,1292.9 1652.9,1292.6 1653.9,1292.9 1654.5,1294.2 1654.9,1294.2 1655.9,1293.7 1656.9,1293.8 1657.9,1294.8 1658.9,1294.6 1659.5,1294.8 1659.9,1294.4 1660.9,1295.9 1661.9,1295.6 1662.9,1294.9 1663.9,1295.1 1664.5,1296.4 1664.9,1296.1 1665.9,1295.7 1666.9,1296.4 1667.9,1296.0 1668.9,1295.9 1669.4,1297.1 1669.9,1296.5 1670.9,1296.6 1671.9,1297.4 1672.9,1296.6 1673.9,1296.8 1674.4,1296.3 1674.9,1296.9 1675.9,1297.5 1676.9,1297.0 1677.9,1296.4 1678.9,1296.1 1679.3,1296.6 1679.9,1297.2 1680.9,1296.7 1681.9,1296.5 1682.9,1295.6 1683.9,1295.6 1684.3,1296.5 1684.9,1295.5 1685.9,1296.1 1686.9,1296.0 1687.9,1295.5 1688.9,1295.1 1689.2,1294.9 1689.9,1295.2 1690.9,1295.3 1691.9,1293.8 1692.9,1293.8 1693.9,1293.7 1694.2,1294.5 1694.9,1294.0 1695.9,1293.8 1696.9,1294.0 1697.9,1292.8 1698.9,1293.4 1699.2,1293.5 1699.9,1293.2 1700.9,1292.9 1701.9,1293.5 1702.9,1293.5 1703.9,1292.1 1704.1,1292.4 1704.9,1293.4 1705.9,1292.4 1706.9,1293.1 1707.9,1293.1 1708.9,1292.9 1709.1,1292.4 1709.9,1293.1 1710.9,1293.6 1711.9,1292.7 1712.9,1293.8 1713.9,1293.9 1714.0,1293.6 1714.9,1293.8 1715.9,1293.2 1716.9,1294.3 1717.9,1294.8 1718.9,1294.2 1719.0,1294.5 1719.9,1295.0 1720.9,1295.5 1721.9,1295.8 1722.9,1295.2 1723.9,1296.5 1724.0,1296.7 1724.9,1296.8 1725.9,1296.5 1726.9,1296.6 1727.9,1296.5 1728.9,1297.6 1728.9,1296.6 1729.9,1297.2 1730.9,1297.2 1731.9,1298.5 1732.9,1298.1 1733.9,1298.0 1733.9,1298.3 1734.9,1298.7 1735.9,1297.9 1736.9,1298.7 1737.9,1298.4 1738.8,1299.5 1738.9,1299.3 1739.9,1299.4 1740.9,1299.3 1741.9,1300.0 1742.9,1299.4 1743.8,1300.5 1743.9,1300.3 1744.9,1299.7 1745.9,1300.5 1746.9,1300.1 1747.9,1300.2 1748.7,1300.3 1748.9,1300.6 1749.9,1301.2 1750.9,1301.1 1751.9,1301.4 1752.9,1300.9 1753.7,1301.1 1753.9,1301.6 1754.9,1302.3 1755.9,1301.9 1756.9,1302.1 1757.9,1301.9 1758.7,1302.3 1758.9,1301.6 1759.9,1303.0 1760.9,1302.6 1761.9,1303.4 1762.9,1303.3 1763.6,1302.6 1763.9,1303.2 1764.9,1302.6 1765.9,1302.8 1766.9,1303.2 1767.9,1303.2 1768.6,1303.4 1768.9,1303.8 1769.9,1304.3 1770.9,1304.0 1771.9,1304.0 1772.9,1304.5 1773.5,1304.1 1773.9,1304.5 1774.9,1304.0 1775.9,1304.7 1776.9,1303.7 1777.9,1304.8 1778.5,1303.6 1778.9,1304.6 1779.9,1304.2 1780.0,1304.9 1780.9,1304.1 1781.9,1303.9 1782.9,1303.1 1783.9,1304.1 1784.9,1303.7 1785.0,1303.4 1785.9,1302.6 1786.9,1303.4 1787.9,1302.3 1788.9,1302.0 1789.9,1301.8 1789.9,1301.4 1790.9,1301.9 1791.9,1300.8 1792.9,1300.4 1793.9,1300.0 1794.9,1299.7 1794.9,1300.2 1795.9,1299.4 1796.9,1299.6 1797.9,1299.1 1798.9,1298.7 1799.8,1297.5 1799.9,1298.1 1800.9,1297.1 1801.9,1296.7 1802.9,1296.6 1803.9,1296.3 1804.8,1296.4 1804.9,1295.2 1805.9,1295.3 1806.9,1294.4 1807.9,1294.4 1808.9,1293.2 1809.8,1294.0 1809.9,1292.9 1810.9,1292.5 1811.9,1293.3 1812.9,1291.9 1813.9,1291.7 1814.7,1292.0 1814.9,1291.7 1815.9,1291.9 1816.9,1290.8 1817.9,1290.1 1818.9,1290.1 1819.7,1289.2 1819.9,1290.1 1820.9,1288.7 1821.9,1288.6 1822.9,1287.7 1823.9,1287.4 1824.6,1287.5 1824.9,1286.6 1825.9,1287.2 1826.9,1285.9 1827.9,1285.3 1828.9,1285.9 1829.6,1285.5 1829.9,1285.5 1830.9,1285.2 1831.9,1284.8 1832.9,1284.5 1833.9,1285.0 1834.5,1285.0 1834.9,1285.0 1835.9,1284.3 1836.9,1285.2 1837.9,1285.0 1838.9,1284.3 1839.5,1284.6 1839.9,1285.1 1840.9,1285.5 1841.9,1285.7 1842.5,1286.3 1842.9,1285.8 1843.9,1285.2 1844.9,1285.3 1845.9,1284.3 1846.9,1285.0 1847.4,1283.7 1847.9,1284.0 1848.9,1284.8 1849.9,1284.5 1850.9,1284.7 1851.4,1283.8 1851.9,1284.3 1852.9,1284.6 1853.9,1284.7 1854.9,1285.6 1855.9,1286.2 1856.3,1286.2 1856.9,1285.3 1857.9,1285.2 1858.9,1285.4 1859.9,1284.6 1860.9,1284.5 1861.3,1285.2 1861.9,1285.3 1862.9,1285.9 1863.9,1285.8 1864.9,1285.9 1865.3,1285.5 1865.9,1286.3 1866.9,1286.5 1867.9,1285.9 1868.9,1285.7 1869.2,1285.8 1869.9,1285.1 1870.9,1285.5 1871.9,1285.3 1872.9,1285.7 1873.9,1284.6 1874.2,1284.3 1874.9,1285.3 1875.9,1285.5 1876.9,1285.8 1877.9,1285.5 1878.2,1285.8 1878.9,1285.5 1879.9,1284.4 1880.9,1284.1 1881.9,1284.9 1882.1,1284.7 1882.9,1283.2 1883.9,1283.6 1884.9,1282.5 1885.9,1282.4 1886.1,1282.8 1886.9,1282.1 1887.9,1282.4 1888.9,1283.4 1889.9,1283.3 1890.1,1283.8 1890.9,1283.1 1891.9,1283.2 1892.9,1282.8 1893.9,1282.1 1894.0,1283.0 1894.9,1282.5 1895.9,1281.0 1896.0,1281.7 1896.9,1282.5 1897.9,1282.1 1898.9,1282.9 1899.0,1282.8 1899.9,1282.7 1900.9,1281.3 1901.9,1282.0 1902.9,1280.6 1903.9,1281.1 1904.0,1281.0 1904.9,1281.2 1905.9,1280.9 1906.9,1281.1 1907.9,1281.5 1908.9,1281.7 1908.9,1282.0 1909.9,1282.2 1910.9,1282.8 1911.9,1283.1 1912.9,1283.4 1912.9,1283.4 1913.9,1282.5 1914.9,1282.9 1915.9,1283.3 1916.8,1283.0 1916.9,1283.4 1917.9,1282.7 1918.9,1284.0 1919.9,1283.6 1920.9,1284.7 1921.8,1284.3 1921.9,1283.9 1922.9,1284.4 1923.9,1284.4 1924.9,1284.7 1925.8,1284.9 1925.9,1285.0 1926.9,1285.5 1927.9,1286.0 1928.9,1286.9 1929.7,1288.2 1929.9,1287.8 1930.9,1287.6 1931.9,1286.7 1932.9,1285.9 1933.7,1286.7 1933.9,1286.6 1934.9,1286.9 1935.9,1286.9 1936.9,1287.2 1937.9,1286.9 1938.7,1287.2 1938.9,1287.5 1939.9,1286.7 1940.9,1285.9 1941.9,1286.3 1942.9,1286.3 1943.6,1285.5 1943.9,1285.0 1944.9,1285.0 1945.9,1285.6 1946.9,1284.9 1947.9,1285.4 1948.6,1285.0 1948.9,1284.3 1949.9,1284.6 1950.9,1284.3 1951.9,1283.8 1952.5,1282.8 1952.9,1283.2 1953.9,1282.5 1954.9,1282.7 1955.9,1281.3 1956.5,1281.7 1956.9,1281.3 1957.9,1279.8 1958.9,1279.2 1959.5,1278.1 1959.9,1277.2 1960.9,1276.3 1961.0,1276.0"/>
</g>
</g>
<g id="labels">
<text transform="translate(137.51,90.20) scale(0.9222,1)" font-size="58.3">10</text>
<text transform="translate(202.85,62.50) scale(0.8520,1)" font-size="48.5">0</text>
<text transform="translate(120.97,499.90) scale(0.9323,1)" font-size="58.3">10</text>
<text transform="translate(185.85,471.80) scale(0.9757,1)" font-size="48.5">-2</text>
<text transform="translate(95.00,715.12) rotate(-90) scale(0.9844,1)" font-size="64.2">NEdN (mw/ m</text>
<text transform="translate(66.80,317.64) rotate(-90) scale(1.0208,1)" font-size="51.3">2</text>
<text transform="translate(95.00,266.07) rotate(-90) scale(0.9698,1)" font-size="64.2">sr cm</text>
<text transform="translate(66.80,105.03) rotate(-90) scale(0.9648,1)" font-size="51.3">-1</text>
<text transform="translate(95.00,52.20) rotate(-90) scale(0.7889,1)" font-size="64.2">)</text>
<text transform="translate(137.51,827.20) scale(0.9222,1)" font-size="58.3">10</text>
<text transform="translate(202.85,799.50) scale(0.8520,1)" font-size="48.5">0</text>
<text transform="translate(120.97,1236.90) scale(0.9323,1)" font-size="58.3">10</text>
<text transform="translate(185.85,1208.80) scale(0.9757,1)" font-size="48.5">-2</text>
<text transform="translate(95.00,1452.12) rotate(-90) scale(0.9844,1)" font-size="64.2">NEdN (mw/ m</text>
<text transform="translate(66.80,1054.64) rotate(-90) scale(1.0208,1)" font-size="51.3">2</text>
<text transform="translate(95.00,1003.07) rotate(-90) scale(0.9698,1)" font-size="64.2">sr cm</text>
<text transform="translate(66.80,842.03) rotate(-90) scale(0.9648,1)" font-size="51.3">-1</text>
<text transform="translate(95.00,789.20) rotate(-90) scale(0.7889,1)" font-size="64.2">)</text>
<text transform="translate(358.64,1495.60) scale(0.9825,1)" font-size="58.3">800</text>
<text transform="translate(522.59,1495.60) scale(0.9705,1)" font-size="58.3">1000</text>
<text transform="translate(699.60,1495.60) scale(0.9705,1)" font-size="58.3">1200</text>
<text transform="translate(876.62,1495.60) scale(0.9705,1)" font-size="58.3">1400</text>
<text transform="translate(1054.59,1495.60) scale(0.9705,1)" font-size="58.3">1600</text>
<text transform="translate(1231.60,1495.60) scale(0.9705,1)" font-size="58.3">1800</text>
<text transform="translate(1407.98,1495.60) scale(0.9836,1)" font-size="58.3">2000</text>
<text transform="translate(1585.00,1495.60) scale(0.9836,1)" font-size="58.3">2200</text>
<text transform="translate(1762.03,1495.60) scale(0.9836,1)" font-size="58.3">2400</text>
<text transform="translate(826.10,1591.80) scale(0.9870,1)" font-size="64.2">Wavenumber (cm</text>
<text transform="translate(1325.95,1563.80) scale(0.9743,1)" font-size="51.3">-1</text>
<text transform="translate(1379.90,1591.80) scale(0.7944,1)" font-size="64.2">)</text>
<text transform="translate(303.07,112.80) scale(0.9628,1)" font-size="64.2" style="fill:#000">a.</text>
<text transform="translate(343.80,568.00) scale(0.9920,1)" font-size="64.2" style="fill:#000">AIRS L1C to CHIRP NEdN</text>
<text transform="translate(302.06,862.90) scale(0.9840,1)" font-size="64.2" style="fill:#000">b.</text>
<text transform="translate(334.12,1301.00) scale(0.9921,1)" font-size="64.2" style="fill:#000">CrIS SNPP to CHIRP NEdN for 9 FOVs</text>
</g>
</svg></body></html>
